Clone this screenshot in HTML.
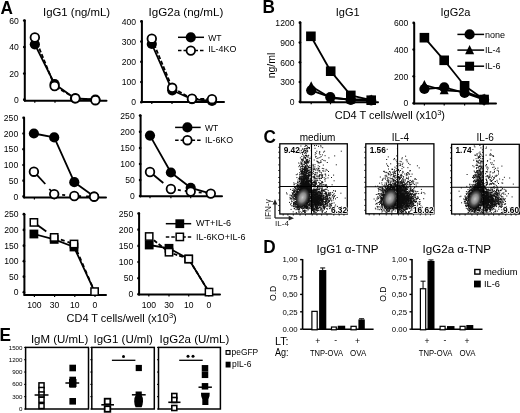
<!DOCTYPE html>
<html><head><meta charset="utf-8"><style>
html,body{margin:0;padding:0;background:#fff;}
svg{display:block;filter:blur(0.35px);}
text{font-family:"Liberation Sans",sans-serif;fill:#000;}
</style></head><body>
<svg width="520" height="413" viewBox="0 0 520 413">
<defs><radialGradient id="core"><stop offset="0" stop-color="#c4c4c4"/><stop offset="0.45" stop-color="#8e8e8e" stop-opacity="0.95"/><stop offset="0.8" stop-color="#444" stop-opacity="0.5"/><stop offset="1" stop-color="#000" stop-opacity="0"/></radialGradient></defs>
<rect width="520" height="413" fill="#fff"/>
<text x="0.6" y="14.1" font-size="17.6" text-anchor="start" font-weight="bold" textLength="12.42" lengthAdjust="spacingAndGlyphs">A</text>
<text x="43" y="16.4" font-size="11.4" text-anchor="start">IgG1 (ng/mL)</text>
<line x1="24.8" y1="20.4" x2="24.8" y2="100.7" stroke="#000" stroke-width="2" stroke-linecap="round"/>
<line x1="24.8" y1="100.7" x2="106.5" y2="100.7" stroke="#000" stroke-width="2" stroke-linecap="round"/>
<circle cx="24.3" cy="20.6" r="1.35" fill="#000"/>
<text x="18.9" y="23.8" font-size="9.2" text-anchor="end" textLength="9.56" lengthAdjust="spacingAndGlyphs">60</text>
<circle cx="24.3" cy="47" r="1.35" fill="#000"/>
<text x="18.9" y="50.2" font-size="9.2" text-anchor="end" textLength="9.56" lengthAdjust="spacingAndGlyphs">40</text>
<circle cx="24.3" cy="73.6" r="1.35" fill="#000"/>
<text x="18.9" y="76.8" font-size="9.2" text-anchor="end" textLength="9.56" lengthAdjust="spacingAndGlyphs">20</text>
<circle cx="24.3" cy="99.7" r="1.35" fill="#000"/>
<text x="18.9" y="102.9" font-size="9.2" text-anchor="end" textLength="4.78" lengthAdjust="spacingAndGlyphs">0</text>
<line x1="34.8" y1="100.7" x2="34.8" y2="102.7" stroke="#000" stroke-width="1.2"/>
<line x1="55" y1="100.7" x2="55" y2="102.7" stroke="#000" stroke-width="1.2"/>
<line x1="75" y1="100.7" x2="75" y2="102.7" stroke="#000" stroke-width="1.2"/>
<line x1="95" y1="100.7" x2="95" y2="102.7" stroke="#000" stroke-width="1.2"/>
<polyline points="34.85,44.3 54.6,84 75,98.5 95.4,99.5" fill="none" stroke="#000" stroke-width="1.8" stroke-linejoin="round"/>
<polyline points="34.85,37.5 54.6,86 75.4,98.3 95.4,100" fill="none" stroke="#000" stroke-width="1.8" stroke-linejoin="round" stroke-dasharray="4 2"/>
<circle cx="34.85" cy="44.3" r="5.1" fill="#000"/>
<circle cx="54.6" cy="84" r="5.1" fill="#000"/>
<circle cx="75" cy="98.5" r="5.1" fill="#000"/>
<circle cx="95.4" cy="99.5" r="5.1" fill="#000"/>
<circle cx="34.85" cy="37.5" r="4.3" fill="#fff" stroke="#000" stroke-width="1.8"/>
<circle cx="54.6" cy="86" r="4.3" fill="#fff" stroke="#000" stroke-width="1.8"/>
<circle cx="75.4" cy="98.3" r="4.3" fill="#fff" stroke="#000" stroke-width="1.8"/>
<circle cx="95.4" cy="100.2" r="4.3" fill="#fff" stroke="#000" stroke-width="1.8"/>
<text x="148.5" y="16.4" font-size="11.6" text-anchor="start">IgG2a (ng/mL)</text>
<line x1="141.9" y1="21.2" x2="141.9" y2="102.1" stroke="#000" stroke-width="2" stroke-linecap="round"/>
<line x1="141.9" y1="102.1" x2="224" y2="102.1" stroke="#000" stroke-width="2" stroke-linecap="round"/>
<circle cx="141.4" cy="21.4" r="1.35" fill="#000"/>
<text x="136.0" y="24.599999999999998" font-size="9.2" text-anchor="end" textLength="14.35" lengthAdjust="spacingAndGlyphs">400</text>
<circle cx="141.4" cy="41.6" r="1.35" fill="#000"/>
<text x="136.0" y="44.800000000000004" font-size="9.2" text-anchor="end" textLength="14.35" lengthAdjust="spacingAndGlyphs">300</text>
<circle cx="141.4" cy="61.8" r="1.35" fill="#000"/>
<text x="136.0" y="65.0" font-size="9.2" text-anchor="end" textLength="14.35" lengthAdjust="spacingAndGlyphs">200</text>
<circle cx="141.4" cy="82" r="1.35" fill="#000"/>
<text x="136.0" y="85.2" font-size="9.2" text-anchor="end" textLength="14.35" lengthAdjust="spacingAndGlyphs">100</text>
<circle cx="141.4" cy="102.2" r="1.35" fill="#000"/>
<text x="136.0" y="105.4" font-size="9.2" text-anchor="end" textLength="4.78" lengthAdjust="spacingAndGlyphs">0</text>
<line x1="151.8" y1="102.1" x2="151.8" y2="104.1" stroke="#000" stroke-width="1.2"/>
<line x1="172" y1="102.1" x2="172" y2="104.1" stroke="#000" stroke-width="1.2"/>
<line x1="192" y1="102.1" x2="192" y2="104.1" stroke="#000" stroke-width="1.2"/>
<line x1="212" y1="102.1" x2="212" y2="104.1" stroke="#000" stroke-width="1.2"/>
<polyline points="151.8,44 172.2,90.3 192,99.2 212,101" fill="none" stroke="#000" stroke-width="1.8" stroke-linejoin="round"/>
<polyline points="151.8,38.7 172.2,87.8 192,98.7 212,99.2" fill="none" stroke="#000" stroke-width="1.8" stroke-linejoin="round" stroke-dasharray="4 2"/>
<circle cx="151.8" cy="44" r="5.1" fill="#000"/>
<circle cx="172.2" cy="90.3" r="5.1" fill="#000"/>
<circle cx="192" cy="99.2" r="5.1" fill="#000"/>
<circle cx="212" cy="101" r="5.1" fill="#000"/>
<circle cx="151.8" cy="38.7" r="4.3" fill="#fff" stroke="#000" stroke-width="1.8"/>
<circle cx="172.2" cy="87.8" r="4.3" fill="#fff" stroke="#000" stroke-width="1.8"/>
<circle cx="192" cy="98.7" r="4.3" fill="#fff" stroke="#000" stroke-width="1.8"/>
<circle cx="212" cy="99.2" r="4.3" fill="#fff" stroke="#000" stroke-width="1.8"/>
<line x1="178" y1="37.3" x2="204" y2="37.3" stroke="#000" stroke-width="1.5"/>
<circle cx="190.8" cy="37.3" r="5.1" fill="#000"/>
<text x="208.2" y="40.6" font-size="8.8" text-anchor="start" textLength="13.4" lengthAdjust="spacingAndGlyphs">WT</text>
<line x1="178" y1="50.6" x2="204" y2="50.6" stroke="#000" stroke-width="1.5" stroke-dasharray="3.5 2"/>
<circle cx="190.8" cy="50.6" r="4.3" fill="#fff" stroke="#000" stroke-width="1.8"/>
<text x="208.2" y="52.3" font-size="8.8" text-anchor="start" textLength="28.2" lengthAdjust="spacingAndGlyphs">IL-4KO</text>
<line x1="24.1" y1="117.8" x2="24.1" y2="197.4" stroke="#000" stroke-width="2" stroke-linecap="round"/>
<line x1="24.1" y1="197.4" x2="106" y2="197.4" stroke="#000" stroke-width="2" stroke-linecap="round"/>
<circle cx="23.6" cy="117.8" r="1.35" fill="#000"/>
<text x="18.200000000000003" y="121.0" font-size="9.2" text-anchor="end" textLength="14.35" lengthAdjust="spacingAndGlyphs">250</text>
<circle cx="23.6" cy="133.5" r="1.35" fill="#000"/>
<text x="18.200000000000003" y="136.7" font-size="9.2" text-anchor="end" textLength="14.35" lengthAdjust="spacingAndGlyphs">200</text>
<circle cx="23.6" cy="149.2" r="1.35" fill="#000"/>
<text x="18.200000000000003" y="152.39999999999998" font-size="9.2" text-anchor="end" textLength="14.35" lengthAdjust="spacingAndGlyphs">150</text>
<circle cx="23.6" cy="165" r="1.35" fill="#000"/>
<text x="18.200000000000003" y="168.2" font-size="9.2" text-anchor="end" textLength="14.35" lengthAdjust="spacingAndGlyphs">100</text>
<circle cx="23.6" cy="180.7" r="1.35" fill="#000"/>
<text x="18.200000000000003" y="183.89999999999998" font-size="9.2" text-anchor="end" textLength="9.56" lengthAdjust="spacingAndGlyphs">50</text>
<circle cx="23.6" cy="196.4" r="1.35" fill="#000"/>
<text x="18.200000000000003" y="199.6" font-size="9.2" text-anchor="end" textLength="4.78" lengthAdjust="spacingAndGlyphs">0</text>
<line x1="34.4" y1="197.4" x2="34.4" y2="199.4" stroke="#000" stroke-width="1.2"/>
<line x1="54.2" y1="197.4" x2="54.2" y2="199.4" stroke="#000" stroke-width="1.2"/>
<line x1="74.3" y1="197.4" x2="74.3" y2="199.4" stroke="#000" stroke-width="1.2"/>
<line x1="94.1" y1="197.4" x2="94.1" y2="199.4" stroke="#000" stroke-width="1.2"/>
<polyline points="33.9,133.5 54.2,137.4 74.3,182.2 94.1,196.5" fill="none" stroke="#000" stroke-width="1.8" stroke-linejoin="round"/>
<polyline points="33.9,171.7 45.3,184" fill="none" stroke="#000" stroke-width="1.8" stroke-linejoin="round"/>
<polyline points="49.3,189 54.2,194.1" fill="none" stroke="#000" stroke-width="1.8" stroke-linejoin="round"/>
<polyline points="54.2,194.1 74.3,196 94.1,196.7" fill="none" stroke="#000" stroke-width="1.8" stroke-linejoin="round" stroke-dasharray="3 5"/>
<circle cx="33.9" cy="133.5" r="5.1" fill="#000"/>
<circle cx="54.2" cy="137.4" r="5.1" fill="#000"/>
<circle cx="74.3" cy="182.2" r="5.1" fill="#000"/>
<circle cx="94.1" cy="196.5" r="5.1" fill="#000"/>
<circle cx="33.9" cy="171.7" r="4.3" fill="#fff" stroke="#000" stroke-width="1.8"/>
<circle cx="54.2" cy="194.1" r="4.3" fill="#fff" stroke="#000" stroke-width="1.8"/>
<circle cx="74.3" cy="196" r="4.3" fill="#fff" stroke="#000" stroke-width="1.8"/>
<circle cx="94.1" cy="196.7" r="4.3" fill="#fff" stroke="#000" stroke-width="1.8"/>
<line x1="140.6" y1="115.4" x2="140.6" y2="196.3" stroke="#000" stroke-width="2" stroke-linecap="round"/>
<line x1="140.6" y1="196.3" x2="222" y2="196.3" stroke="#000" stroke-width="2" stroke-linecap="round"/>
<circle cx="140.1" cy="115.6" r="1.35" fill="#000"/>
<text x="134.7" y="118.8" font-size="9.2" text-anchor="end" textLength="14.35" lengthAdjust="spacingAndGlyphs">250</text>
<circle cx="140.1" cy="131.8" r="1.35" fill="#000"/>
<text x="134.7" y="135.0" font-size="9.2" text-anchor="end" textLength="14.35" lengthAdjust="spacingAndGlyphs">200</text>
<circle cx="140.1" cy="148" r="1.35" fill="#000"/>
<text x="134.7" y="151.2" font-size="9.2" text-anchor="end" textLength="14.35" lengthAdjust="spacingAndGlyphs">150</text>
<circle cx="140.1" cy="164" r="1.35" fill="#000"/>
<text x="134.7" y="167.2" font-size="9.2" text-anchor="end" textLength="14.35" lengthAdjust="spacingAndGlyphs">100</text>
<circle cx="140.1" cy="180.1" r="1.35" fill="#000"/>
<text x="134.7" y="183.29999999999998" font-size="9.2" text-anchor="end" textLength="9.56" lengthAdjust="spacingAndGlyphs">50</text>
<circle cx="140.1" cy="196.1" r="1.35" fill="#000"/>
<text x="134.7" y="199.29999999999998" font-size="9.2" text-anchor="end" textLength="4.78" lengthAdjust="spacingAndGlyphs">0</text>
<line x1="150" y1="196.3" x2="150" y2="198.3" stroke="#000" stroke-width="1.2"/>
<line x1="170.9" y1="196.3" x2="170.9" y2="198.3" stroke="#000" stroke-width="1.2"/>
<line x1="190.7" y1="196.3" x2="190.7" y2="198.3" stroke="#000" stroke-width="1.2"/>
<line x1="210.8" y1="196.3" x2="210.8" y2="198.3" stroke="#000" stroke-width="1.2"/>
<polyline points="150,135.6 170.9,172.5 190.7,187.8 210.8,193.6" fill="none" stroke="#000" stroke-width="1.8" stroke-linejoin="round"/>
<polyline points="150,172 163.3,183" fill="none" stroke="#000" stroke-width="1.8" stroke-linejoin="round"/>
<polyline points="170.9,189 190.7,191.6 210.8,193.6" fill="none" stroke="#000" stroke-width="1.8" stroke-linejoin="round" stroke-dasharray="3 4"/>
<circle cx="150" cy="135.6" r="5.1" fill="#000"/>
<circle cx="170.9" cy="172.5" r="5.1" fill="#000"/>
<circle cx="190.7" cy="187.8" r="5.1" fill="#000"/>
<circle cx="150" cy="172" r="4.3" fill="#fff" stroke="#000" stroke-width="1.8"/>
<circle cx="170.9" cy="189" r="4.3" fill="#fff" stroke="#000" stroke-width="1.8"/>
<circle cx="190.7" cy="191.6" r="4.3" fill="#fff" stroke="#000" stroke-width="1.8"/>
<circle cx="210.8" cy="193.6" r="4.3" fill="#fff" stroke="#000" stroke-width="1.8"/>
<line x1="175.1" y1="127.4" x2="200.7" y2="127.4" stroke="#000" stroke-width="1.5"/>
<circle cx="187.4" cy="127.4" r="5.1" fill="#000"/>
<text x="205" y="130.5" font-size="8.8" text-anchor="start" textLength="13.2" lengthAdjust="spacingAndGlyphs">WT</text>
<line x1="175.1" y1="140.2" x2="200.7" y2="140.2" stroke="#000" stroke-width="1.5" stroke-dasharray="3.5 2"/>
<circle cx="187.4" cy="140.2" r="4.3" fill="#fff" stroke="#000" stroke-width="1.8"/>
<text x="205" y="143.3" font-size="8.8" text-anchor="start" textLength="28.2" lengthAdjust="spacingAndGlyphs">IL-6KO</text>
<line x1="24.4" y1="214.2" x2="24.4" y2="295" stroke="#000" stroke-width="2" stroke-linecap="round"/>
<line x1="24.4" y1="295" x2="106" y2="295" stroke="#000" stroke-width="2" stroke-linecap="round"/>
<circle cx="23.9" cy="214.2" r="1.35" fill="#000"/>
<text x="18.5" y="217.39999999999998" font-size="9.2" text-anchor="end" textLength="14.35" lengthAdjust="spacingAndGlyphs">250</text>
<circle cx="23.9" cy="229.9" r="1.35" fill="#000"/>
<text x="18.5" y="233.1" font-size="9.2" text-anchor="end" textLength="14.35" lengthAdjust="spacingAndGlyphs">200</text>
<circle cx="23.9" cy="245.7" r="1.35" fill="#000"/>
<text x="18.5" y="248.89999999999998" font-size="9.2" text-anchor="end" textLength="14.35" lengthAdjust="spacingAndGlyphs">150</text>
<circle cx="23.9" cy="261.2" r="1.35" fill="#000"/>
<text x="18.5" y="264.4" font-size="9.2" text-anchor="end" textLength="14.35" lengthAdjust="spacingAndGlyphs">100</text>
<circle cx="23.9" cy="276.7" r="1.35" fill="#000"/>
<text x="18.5" y="279.9" font-size="9.2" text-anchor="end" textLength="9.56" lengthAdjust="spacingAndGlyphs">50</text>
<circle cx="23.9" cy="292.2" r="1.35" fill="#000"/>
<text x="18.5" y="295.4" font-size="9.2" text-anchor="end" textLength="4.78" lengthAdjust="spacingAndGlyphs">0</text>
<line x1="34.4" y1="295" x2="34.4" y2="297" stroke="#000" stroke-width="1.2"/>
<line x1="54.6" y1="295" x2="54.6" y2="297" stroke="#000" stroke-width="1.2"/>
<line x1="74.8" y1="295" x2="74.8" y2="297" stroke="#000" stroke-width="1.2"/>
<line x1="95" y1="295" x2="95" y2="297" stroke="#000" stroke-width="1.2"/>
<text x="34.4" y="307.8" font-size="9.2" text-anchor="middle" textLength="14.35" lengthAdjust="spacingAndGlyphs">100</text>
<text x="54.6" y="307.8" font-size="9.2" text-anchor="middle" textLength="9.56" lengthAdjust="spacingAndGlyphs">30</text>
<text x="74.8" y="307.8" font-size="9.2" text-anchor="middle" textLength="9.56" lengthAdjust="spacingAndGlyphs">10</text>
<text x="95" y="307.8" font-size="9.2" text-anchor="middle" textLength="4.78" lengthAdjust="spacingAndGlyphs">0</text>
<polyline points="33.9,234 54.2,239.4 74,247 94.6,291.6" fill="none" stroke="#000" stroke-width="1.8" stroke-linejoin="round"/>
<polyline points="33.9,222.4 46.3,231.5" fill="none" stroke="#000" stroke-width="1.8" stroke-linejoin="round"/>
<polyline points="54.2,237.4 74,244 94.6,291.6" fill="none" stroke="#000" stroke-width="1.8" stroke-linejoin="round" stroke-dasharray="4 3"/>
<rect x="29.5" y="229.6" width="8.8" height="8.8" fill="#000"/>
<rect x="49.800000000000004" y="235.0" width="8.8" height="8.8" fill="#000"/>
<rect x="69.6" y="242.6" width="8.8" height="8.8" fill="#000"/>
<rect x="30.25" y="218.75" width="7.300000000000001" height="7.300000000000001" fill="#fff" stroke="#000" stroke-width="1.5"/>
<rect x="50.550000000000004" y="233.75" width="7.300000000000001" height="7.300000000000001" fill="#fff" stroke="#000" stroke-width="1.5"/>
<rect x="70.35" y="240.35" width="7.300000000000001" height="7.300000000000001" fill="#fff" stroke="#000" stroke-width="1.5"/>
<rect x="90.94999999999999" y="287.95000000000005" width="7.300000000000001" height="7.300000000000001" fill="#fff" stroke="#000" stroke-width="1.5"/>
<line x1="139.1" y1="213.2" x2="139.1" y2="294.5" stroke="#000" stroke-width="2" stroke-linecap="round"/>
<line x1="139.1" y1="294.5" x2="220" y2="294.5" stroke="#000" stroke-width="2" stroke-linecap="round"/>
<circle cx="138.6" cy="213.5" r="1.35" fill="#000"/>
<text x="133.2" y="216.7" font-size="9.2" text-anchor="end" textLength="14.35" lengthAdjust="spacingAndGlyphs">250</text>
<circle cx="138.6" cy="229.7" r="1.35" fill="#000"/>
<text x="133.2" y="232.89999999999998" font-size="9.2" text-anchor="end" textLength="14.35" lengthAdjust="spacingAndGlyphs">200</text>
<circle cx="138.6" cy="245.9" r="1.35" fill="#000"/>
<text x="133.2" y="249.1" font-size="9.2" text-anchor="end" textLength="14.35" lengthAdjust="spacingAndGlyphs">150</text>
<circle cx="138.6" cy="262" r="1.35" fill="#000"/>
<text x="133.2" y="265.2" font-size="9.2" text-anchor="end" textLength="14.35" lengthAdjust="spacingAndGlyphs">100</text>
<circle cx="138.6" cy="278.2" r="1.35" fill="#000"/>
<text x="133.2" y="281.4" font-size="9.2" text-anchor="end" textLength="9.56" lengthAdjust="spacingAndGlyphs">50</text>
<circle cx="138.6" cy="294.2" r="1.35" fill="#000"/>
<text x="133.2" y="297.4" font-size="9.2" text-anchor="end" textLength="4.78" lengthAdjust="spacingAndGlyphs">0</text>
<line x1="148.8" y1="294.5" x2="148.8" y2="296.5" stroke="#000" stroke-width="1.2"/>
<line x1="169" y1="294.5" x2="169" y2="296.5" stroke="#000" stroke-width="1.2"/>
<line x1="188.7" y1="294.5" x2="188.7" y2="296.5" stroke="#000" stroke-width="1.2"/>
<line x1="208.8" y1="294.5" x2="208.8" y2="296.5" stroke="#000" stroke-width="1.2"/>
<text x="148.8" y="307.8" font-size="9.2" text-anchor="middle" textLength="14.35" lengthAdjust="spacingAndGlyphs">100</text>
<text x="169" y="307.8" font-size="9.2" text-anchor="middle" textLength="9.56" lengthAdjust="spacingAndGlyphs">30</text>
<text x="188.7" y="307.8" font-size="9.2" text-anchor="middle" textLength="9.56" lengthAdjust="spacingAndGlyphs">10</text>
<text x="208.8" y="307.8" font-size="9.2" text-anchor="middle" textLength="4.78" lengthAdjust="spacingAndGlyphs">0</text>
<polyline points="149.2,245 169,248.3 188.7,259 209,292.1" fill="none" stroke="#000" stroke-width="1.8" stroke-linejoin="round"/>
<polyline points="149.2,236.5 169,252.2 188.7,259 209,292.1" fill="none" stroke="#000" stroke-width="1.8" stroke-linejoin="round" stroke-dasharray="4 2"/>
<rect x="144.79999999999998" y="240.6" width="8.8" height="8.8" fill="#000"/>
<rect x="164.6" y="243.9" width="8.8" height="8.8" fill="#000"/>
<rect x="184.29999999999998" y="254.6" width="8.8" height="8.8" fill="#000"/>
<rect x="145.54999999999998" y="232.85" width="7.300000000000001" height="7.300000000000001" fill="#fff" stroke="#000" stroke-width="1.5"/>
<rect x="165.35" y="248.54999999999998" width="7.300000000000001" height="7.300000000000001" fill="#fff" stroke="#000" stroke-width="1.5"/>
<rect x="185.04999999999998" y="255.35" width="7.300000000000001" height="7.300000000000001" fill="#fff" stroke="#000" stroke-width="1.5"/>
<rect x="205.35" y="288.45000000000005" width="7.300000000000001" height="7.300000000000001" fill="#fff" stroke="#000" stroke-width="1.5"/>
<line x1="165.8" y1="223.7" x2="191.2" y2="223.7" stroke="#000" stroke-width="1.5"/>
<rect x="175.4" y="219.29999999999998" width="8.8" height="8.8" fill="#000"/>
<text x="196" y="226.4" font-size="8.8" text-anchor="start" textLength="35" lengthAdjust="spacingAndGlyphs">WT+IL-6</text>
<line x1="165.8" y1="236.9" x2="191.2" y2="236.9" stroke="#000" stroke-width="1.5" stroke-dasharray="3.5 2"/>
<rect x="176.15" y="233.25" width="7.300000000000001" height="7.300000000000001" fill="#fff" stroke="#000" stroke-width="1.5"/>
<text x="196" y="239.5" font-size="8.8" text-anchor="start" textLength="49.5" lengthAdjust="spacingAndGlyphs">IL-6KO+IL-6</text>
<text x="66.6" y="322.3" font-size="10.95" text-anchor="start">CD4 T cells/well (x10<tspan font-size="7.5" dy="-4.2">3</tspan><tspan dy="4.2">)</tspan></text>
<text x="262.4" y="12.8" font-size="17.9" text-anchor="start" font-weight="bold" textLength="12.42" lengthAdjust="spacingAndGlyphs">B</text>
<text x="335.8" y="16.4" font-size="11.0" text-anchor="start">IgG1</text>
<text x="440.5" y="16.4" font-size="11.0" text-anchor="start">IgG2a</text>
<line x1="300.4" y1="22.6" x2="300.4" y2="102.3" stroke="#000" stroke-width="2" stroke-linecap="round"/>
<line x1="300.4" y1="102.3" x2="378" y2="102.3" stroke="#000" stroke-width="2" stroke-linecap="round"/>
<circle cx="299.9" cy="22.7" r="1.35" fill="#000"/>
<text x="294.5" y="25.9" font-size="9.2" text-anchor="end" textLength="19.13" lengthAdjust="spacingAndGlyphs">1200</text>
<circle cx="299.9" cy="42.6" r="1.35" fill="#000"/>
<text x="294.5" y="45.800000000000004" font-size="9.2" text-anchor="end" textLength="14.35" lengthAdjust="spacingAndGlyphs">900</text>
<circle cx="299.9" cy="62.3" r="1.35" fill="#000"/>
<text x="294.5" y="65.5" font-size="9.2" text-anchor="end" textLength="14.35" lengthAdjust="spacingAndGlyphs">600</text>
<circle cx="299.9" cy="82" r="1.35" fill="#000"/>
<text x="294.5" y="85.2" font-size="9.2" text-anchor="end" textLength="14.35" lengthAdjust="spacingAndGlyphs">300</text>
<circle cx="299.9" cy="101.8" r="1.35" fill="#000"/>
<text x="294.5" y="105.0" font-size="9.2" text-anchor="end" textLength="4.78" lengthAdjust="spacingAndGlyphs">0</text>
<line x1="311.2" y1="102.3" x2="311.2" y2="104.3" stroke="#000" stroke-width="1.2"/>
<line x1="330.5" y1="102.3" x2="330.5" y2="104.3" stroke="#000" stroke-width="1.2"/>
<line x1="350" y1="102.3" x2="350" y2="104.3" stroke="#000" stroke-width="1.2"/>
<line x1="370.5" y1="102.3" x2="370.5" y2="104.3" stroke="#000" stroke-width="1.2"/>
<text x="0" y="0" font-size="10.5" text-anchor="middle" transform="translate(275,65.5) rotate(-90)">ng/ml</text>
<polyline points="310.9,36.3 330.7,71.2 350.8,95.4 371.2,100.2" fill="none" stroke="#000" stroke-width="1.8" stroke-linejoin="round"/>
<polyline points="311.2,86.3 330.7,98 350.8,99.5 371.2,99.5" fill="none" stroke="#000" stroke-width="1.8" stroke-linejoin="round"/>
<polyline points="311.2,90.3 330.3,97.2 350.8,100 371.2,100.5" fill="none" stroke="#000" stroke-width="1.8" stroke-linejoin="round"/>
<rect x="306.09999999999997" y="31.499999999999996" width="9.6" height="9.6" fill="#000"/>
<rect x="325.9" y="66.4" width="9.6" height="9.6" fill="#000"/>
<rect x="346.0" y="90.60000000000001" width="9.6" height="9.6" fill="#000"/>
<rect x="366.4" y="95.4" width="9.6" height="9.6" fill="#000"/>
<polygon points="311.2,81.25 306.7,90.35 315.7,90.35" fill="#000"/>
<polygon points="330.7,92.95 326.2,102.05 335.2,102.05" fill="#000"/>
<polygon points="350.8,94.45 346.3,103.55 355.3,103.55" fill="#000"/>
<polygon points="371.2,94.45 366.7,103.55 375.7,103.55" fill="#000"/>
<circle cx="311.2" cy="90.3" r="5.1" fill="#000"/>
<circle cx="330.3" cy="97.2" r="5.1" fill="#000"/>
<circle cx="350.8" cy="100" r="5.1" fill="#000"/>
<circle cx="371.2" cy="100.5" r="5.1" fill="#000"/>
<line x1="414.2" y1="22.9" x2="414.2" y2="103.5" stroke="#000" stroke-width="2" stroke-linecap="round"/>
<line x1="414.2" y1="103.5" x2="496" y2="103.5" stroke="#000" stroke-width="2" stroke-linecap="round"/>
<circle cx="413.7" cy="22.9" r="1.35" fill="#000"/>
<text x="408.3" y="26.099999999999998" font-size="9.2" text-anchor="end" textLength="14.35" lengthAdjust="spacingAndGlyphs">600</text>
<circle cx="413.7" cy="49.6" r="1.35" fill="#000"/>
<text x="408.3" y="52.800000000000004" font-size="9.2" text-anchor="end" textLength="14.35" lengthAdjust="spacingAndGlyphs">400</text>
<circle cx="413.7" cy="76.3" r="1.35" fill="#000"/>
<text x="408.3" y="79.5" font-size="9.2" text-anchor="end" textLength="14.35" lengthAdjust="spacingAndGlyphs">200</text>
<circle cx="413.7" cy="103.2" r="1.35" fill="#000"/>
<text x="408.3" y="106.4" font-size="9.2" text-anchor="end" textLength="4.78" lengthAdjust="spacingAndGlyphs">0</text>
<line x1="424.4" y1="103.5" x2="424.4" y2="105.5" stroke="#000" stroke-width="1.2"/>
<line x1="444.2" y1="103.5" x2="444.2" y2="105.5" stroke="#000" stroke-width="1.2"/>
<line x1="464.6" y1="103.5" x2="464.6" y2="105.5" stroke="#000" stroke-width="1.2"/>
<line x1="484.1" y1="103.5" x2="484.1" y2="105.5" stroke="#000" stroke-width="1.2"/>
<polyline points="424.4,37.7 444.2,60.3 464.6,85.8 484.1,99.5" fill="none" stroke="#000" stroke-width="1.8" stroke-linejoin="round"/>
<polyline points="424.4,85 444.2,90.3 464.6,91.6 484.1,98.5" fill="none" stroke="#000" stroke-width="1.8" stroke-linejoin="round"/>
<polyline points="424.4,89 444.2,87.3 464.6,92.9 484.1,99.7" fill="none" stroke="#000" stroke-width="1.8" stroke-linejoin="round"/>
<rect x="419.59999999999997" y="32.900000000000006" width="9.6" height="9.6" fill="#000"/>
<rect x="439.4" y="55.5" width="9.6" height="9.6" fill="#000"/>
<rect x="459.8" y="81.0" width="9.6" height="9.6" fill="#000"/>
<rect x="479.3" y="94.7" width="9.6" height="9.6" fill="#000"/>
<polygon points="424.4,79.95 419.9,89.05 428.9,89.05" fill="#000"/>
<polygon points="444.2,85.25 439.7,94.35 448.7,94.35" fill="#000"/>
<polygon points="464.6,86.55 460.1,95.64999999999999 469.1,95.64999999999999" fill="#000"/>
<polygon points="484.1,93.45 479.6,102.55 488.6,102.55" fill="#000"/>
<circle cx="424.4" cy="89" r="5.1" fill="#000"/>
<circle cx="444.2" cy="87.3" r="5.1" fill="#000"/>
<circle cx="464.6" cy="92.9" r="5.1" fill="#000"/>
<circle cx="484.1" cy="99.7" r="5.1" fill="#000"/>
<line x1="457.4" y1="34.4" x2="484.1" y2="34.4" stroke="#000" stroke-width="1.5"/>
<circle cx="469.6" cy="34.4" r="5.1" fill="#000"/>
<text x="485" y="37.6" font-size="9.0" text-anchor="start">none</text>
<line x1="457.4" y1="50.1" x2="484.1" y2="50.1" stroke="#000" stroke-width="1.5"/>
<polygon points="469.6,45.050000000000004 465.1,54.15 474.1,54.15" fill="#000"/>
<text x="485" y="53.3" font-size="9.0" text-anchor="start">IL-4</text>
<line x1="457.4" y1="66.2" x2="484.1" y2="66.2" stroke="#000" stroke-width="1.5"/>
<rect x="465.1" y="61.7" width="9" height="9" fill="#000"/>
<text x="485" y="69.4" font-size="9.0" text-anchor="start">IL-6</text>
<text x="334.8" y="118.8" font-size="10.95" text-anchor="start">CD4 T cells/well (x10<tspan font-size="7.5" dy="-4.2">3</tspan><tspan dy="4.2">)</tspan></text>
<text x="263.4" y="142.5" font-size="19.0" text-anchor="start" font-weight="bold" textLength="12.42" lengthAdjust="spacingAndGlyphs">C</text>
<rect x="279.8" y="143.8" width="67.5" height="70.19999999999999" fill="#fff"/>
<path d="M300.8 201.1h1M301.0 196.1h1M297.7 196.7h1M307.1 200.5h1M306.8 199.5h1M303.8 199.1h1M294.3 203.1h1M304.3 201.0h1M294.2 187.5h1M297.9 195.2h1M303.4 197.7h1M304.4 194.1h1M303.4 200.4h1M299.0 208.3h1M304.6 205.2h1M299.1 193.6h1M300.4 197.4h1M304.9 199.5h1M299.9 192.3h1M299.6 205.3h1M298.3 199.5h1M304.0 189.1h1M302.2 205.8h1M292.7 196.1h1M301.5 193.1h1M304.3 197.6h1M295.3 203.0h1M305.1 203.7h1M308.6 200.2h1M302.5 190.2h1M304.8 194.3h1M299.9 190.4h1M297.5 194.8h1M307.9 185.8h1M295.3 199.4h1M308.6 201.5h1M293.3 182.9h1M303.6 193.6h1M296.8 203.9h1M307.1 198.9h1M303.1 200.6h1M309.3 201.7h1M304.4 201.3h1M294.8 205.7h1M306.4 201.2h1M292.9 194.2h1M305.9 187.1h1M301.2 204.1h1M296.0 207.7h1M304.5 197.1h1M303.5 201.9h1M302.6 204.9h1M299.0 195.5h1M306.8 198.2h1M297.9 203.7h1M308.7 195.3h1M295.7 197.2h1M301.3 196.2h1M308.5 191.8h1M307.8 190.4h1M298.4 201.8h1M307.2 203.2h1M303.6 198.9h1M302.7 201.5h1M301.2 199.7h1M304.6 198.0h1M305.5 201.4h1M311.2 199.9h1M300.0 195.8h1M301.9 203.5h1M300.5 200.3h1M310.5 182.6h1M296.8 199.5h1M303.8 199.4h1M300.0 201.9h1M303.3 194.9h1M313.2 200.1h1M299.5 197.4h1M301.0 197.6h1M289.5 195.1h1M306.6 191.0h1M301.7 203.7h1M305.9 206.9h1M294.2 195.9h1M300.4 201.7h1M307.0 181.9h1M307.0 189.3h1M305.1 189.0h1M302.8 205.2h1M301.3 199.1h1M305.7 198.8h1M301.6 207.2h1M306.8 196.2h1M314.6 191.1h1M306.2 196.4h1M302.6 202.2h1M303.0 201.8h1M295.0 188.9h1M304.8 192.2h1M297.3 189.2h1M307.8 202.5h1M308.8 192.4h1M302.0 191.2h1M305.5 207.5h1M297.9 207.4h1M306.5 196.9h1M292.9 206.4h1M301.6 194.4h1M303.8 200.5h1M308.9 191.9h1M307.2 206.9h1M308.7 196.9h1M298.6 204.1h1M302.5 198.7h1M308.6 196.4h1M291.4 195.7h1M293.5 202.9h1M303.5 194.3h1M302.0 203.0h1M302.4 206.0h1M301.7 204.2h1M308.9 207.7h1M298.9 203.3h1M293.4 191.5h1M293.0 204.4h1M296.3 197.9h1M301.1 197.8h1M299.3 199.4h1M310.2 198.3h1M304.4 204.0h1M301.1 190.4h1M299.4 204.4h1M294.4 194.4h1M306.6 202.8h1M302.0 202.8h1M302.8 190.9h1M294.8 194.2h1M306.2 194.6h1M297.8 193.4h1M295.0 197.3h1M296.6 200.2h1M291.1 200.0h1M299.0 186.3h1M305.3 196.3h1M291.7 192.7h1M303.3 195.2h1M305.6 202.5h1M305.1 200.0h1M308.1 202.0h1M304.1 185.5h1M306.1 205.9h1M300.6 195.2h1M310.9 187.5h1M304.2 212.5h1M297.7 202.1h1M310.7 197.3h1M304.6 203.4h1M297.8 197.5h1M303.3 203.0h1M301.8 196.8h1M297.3 195.8h1M306.1 198.6h1M298.1 193.0h1M314.3 204.8h1M304.9 182.4h1M304.9 200.9h1M309.7 200.6h1M301.7 201.1h1M293.1 204.2h1M303.5 193.8h1M308.1 208.9h1M295.5 194.0h1M303.3 199.1h1M300.2 192.2h1M311.8 204.2h1M296.5 189.9h1M309.8 203.9h1M310.4 202.9h1M298.0 199.6h1M292.1 193.5h1M301.7 201.1h1M298.7 197.3h1M304.1 200.3h1M304.9 199.3h1M300.5 202.7h1M302.2 193.0h1M299.1 198.0h1M301.5 198.9h1M302.0 199.1h1M301.4 190.4h1M303.9 204.3h1M304.0 196.9h1M304.1 192.2h1M293.3 198.4h1M297.7 202.4h1M297.0 182.2h1M297.2 207.5h1M300.2 189.8h1M298.5 201.1h1M304.3 199.1h1M308.8 202.2h1M301.9 201.6h1M309.6 203.8h1M306.7 191.5h1M301.3 202.4h1M300.6 204.4h1M304.7 203.4h1M307.7 196.7h1M300.4 203.2h1M306.5 198.0h1M296.6 199.1h1M303.7 204.8h1M305.6 198.1h1M305.9 201.2h1M302.9 198.3h1M300.9 202.1h1M297.2 194.2h1M302.0 189.2h1M300.0 185.9h1M298.9 201.4h1M304.6 197.7h1M300.9 189.5h1M310.4 201.1h1M307.0 192.7h1M301.1 187.1h1M305.6 203.6h1M293.3 197.7h1M304.9 187.4h1M293.6 191.6h1M299.1 189.6h1M302.1 199.5h1M304.9 202.2h1M308.9 205.0h1M296.0 195.0h1M297.1 191.5h1M301.6 198.0h1M304.3 188.5h1M296.3 197.9h1M301.1 196.1h1M301.7 193.4h1M305.2 200.1h1M301.6 194.0h1M301.2 181.7h1M297.5 198.2h1M295.1 199.2h1M302.7 189.7h1M300.8 196.1h1M304.1 201.7h1M301.8 192.9h1M301.3 197.6h1M305.4 199.8h1M298.7 189.9h1M300.3 193.6h1M296.9 197.3h1M299.7 198.6h1M304.4 195.5h1M312.7 196.1h1M307.1 198.7h1M307.1 183.7h1M298.5 199.5h1M304.8 212.0h1M303.5 205.7h1M305.5 203.7h1M304.3 197.1h1M304.3 191.5h1M307.4 191.9h1M303.1 210.7h1M301.0 198.1h1M307.3 198.2h1M298.3 199.5h1M304.7 202.3h1M298.4 208.5h1M309.7 198.1h1M303.2 195.4h1M308.5 193.8h1M305.1 195.1h1M298.8 202.3h1M308.1 197.9h1M298.9 202.9h1M301.8 199.9h1M309.0 204.8h1M299.6 211.7h1M302.0 202.7h1M299.0 197.7h1M294.0 208.7h1M308.3 190.7h1M295.1 188.3h1M307.4 195.2h1M301.7 196.1h1M301.4 191.5h1M302.1 189.4h1M301.7 199.9h1M304.2 196.6h1M297.8 199.0h1M299.8 207.4h1M305.5 197.3h1M299.8 193.8h1M297.7 195.9h1M303.4 201.1h1M304.6 210.6h1M298.8 198.1h1M314.9 186.8h1M299.6 199.0h1M302.7 200.4h1M300.9 200.2h1M302.2 202.6h1M293.3 192.7h1M302.0 191.8h1M297.2 201.8h1M299.0 201.8h1M305.4 199.8h1M304.3 197.4h1M295.5 197.8h1M304.1 194.8h1M301.5 202.5h1M298.0 201.8h1M310.6 194.7h1M302.7 197.1h1M309.1 199.9h1M306.1 193.9h1M301.9 197.9h1M293.8 206.6h1M306.1 187.5h1M305.4 197.2h1M304.1 200.2h1M295.1 196.7h1M308.9 194.6h1M297.3 189.8h1M296.4 200.0h1M309.8 200.6h1M303.1 211.4h1M299.6 194.0h1M304.4 201.3h1M297.3 191.0h1M303.3 199.5h1M296.0 196.8h1M299.5 200.8h1M301.5 197.5h1M300.4 204.3h1M308.4 195.8h1M305.9 193.5h1M302.3 202.5h1M309.0 195.7h1M301.7 199.2h1M295.1 198.1h1M298.9 200.2h1M296.8 186.1h1M302.2 199.6h1M299.5 203.3h1M300.7 194.4h1M304.2 188.6h1M298.9 197.9h1M305.9 197.0h1M303.4 194.1h1M303.4 208.0h1M298.8 212.2h1M299.0 198.1h1M302.8 204.1h1M296.3 185.4h1M304.8 202.8h1M302.9 199.5h1M306.3 200.2h1M309.7 190.6h1M300.3 177.3h1M305.7 195.8h1M306.3 210.9h1M302.0 196.5h1M299.7 193.0h1M299.1 201.8h1M302.2 198.4h1M301.2 203.5h1M304.3 197.1h1M305.1 197.1h1M296.7 206.7h1M304.1 192.3h1M307.0 200.1h1M294.8 207.7h1M303.5 203.3h1M302.9 197.1h1M294.9 203.8h1M302.1 196.3h1M303.6 198.5h1M305.1 195.8h1M301.8 185.2h1M300.1 202.1h1M308.1 195.8h1M301.4 207.5h1M300.5 202.4h1M309.7 198.2h1M307.6 193.7h1M303.0 197.5h1M302.5 204.8h1M313.0 194.0h1M299.4 201.0h1M297.1 201.0h1M304.6 196.3h1M304.4 188.7h1M305.5 188.7h1M298.8 194.7h1M300.2 203.2h1M302.4 195.6h1M304.5 207.5h1M302.0 200.2h1M307.7 199.6h1M296.1 212.9h1M312.2 186.1h1M301.8 200.5h1M306.4 202.0h1M300.7 191.7h1M302.5 204.2h1M297.0 191.8h1M301.9 186.4h1M300.8 195.4h1M304.1 193.8h1M297.9 195.6h1M301.8 194.0h1M302.1 202.5h1M307.5 208.2h1M298.4 195.5h1M290.6 209.4h1M298.7 197.8h1M304.4 189.8h1M304.1 197.8h1M293.6 199.8h1M307.5 186.8h1M305.7 199.3h1M304.2 200.6h1M308.0 196.7h1M306.0 195.5h1M305.3 193.1h1M301.5 208.4h1M304.0 197.1h1M296.7 193.3h1M302.9 203.6h1M304.0 201.1h1M301.8 206.1h1M300.2 194.7h1M306.1 198.4h1M300.7 194.5h1M300.8 201.7h1M303.6 190.7h1M304.0 199.1h1M297.4 202.6h1M300.7 196.0h1M305.7 205.9h1M298.8 200.6h1M298.0 211.9h1M299.7 205.2h1M299.0 202.9h1M312.2 182.8h1M300.0 201.0h1M301.6 194.0h1M311.9 198.5h1M294.4 203.1h1M294.1 204.9h1M299.3 198.9h1M307.8 198.7h1M295.6 187.8h1M307.4 202.4h1M298.2 203.2h1M304.3 201.9h1M291.6 196.2h1M306.1 202.4h1M306.1 183.3h1M302.8 201.0h1M313.7 192.3h1M300.5 198.2h1M306.1 195.3h1M307.3 193.3h1M303.2 194.8h1M302.7 193.9h1M294.7 204.6h1M303.4 194.6h1M302.9 203.9h1M297.5 197.3h1M304.5 201.2h1M300.5 185.4h1M307.7 200.0h1M302.1 196.3h1M303.2 195.4h1M297.3 193.6h1M299.3 194.3h1M296.7 201.8h1M296.0 202.0h1M297.3 200.1h1M308.3 199.2h1M298.6 198.3h1M302.7 187.6h1M299.2 199.0h1M299.8 198.5h1M305.4 202.6h1M306.2 201.5h1M300.7 197.9h1M300.8 196.1h1M301.2 187.7h1M300.5 197.9h1M297.5 197.9h1M304.4 197.0h1M311.6 182.4h1M301.1 187.0h1M290.5 198.8h1M304.4 196.2h1M304.5 184.5h1M305.9 200.2h1M302.1 194.5h1M304.9 195.1h1M303.0 194.9h1M291.7 197.8h1M302.9 202.5h1M298.0 197.8h1M304.8 198.9h1M307.7 209.9h1M297.8 186.5h1M305.9 207.2h1M306.2 202.9h1M299.2 193.7h1M306.1 192.5h1M293.7 192.0h1M313.5 209.5h1M298.8 193.6h1M303.1 193.5h1M308.0 197.5h1M297.0 205.9h1M299.3 199.3h1M301.9 196.1h1M303.5 193.8h1M293.5 184.8h1M296.2 193.4h1M301.9 198.3h1M304.6 198.7h1M298.4 193.7h1M292.3 197.0h1M304.2 201.2h1M301.4 197.0h1M306.3 198.1h1M305.4 201.5h1M303.0 205.8h1M299.4 195.8h1M298.3 193.2h1M309.2 208.6h1M302.1 201.4h1M307.4 202.8h1M307.5 190.4h1M299.1 200.7h1M308.6 198.6h1M298.1 195.9h1M299.0 192.9h1M308.9 194.2h1M302.1 211.0h1M307.4 200.0h1M299.2 200.5h1M309.5 201.7h1M307.8 198.6h1M304.4 196.8h1M304.0 205.8h1M295.4 197.6h1M303.1 194.6h1M300.6 202.7h1M311.2 201.8h1M303.5 188.7h1M310.9 198.5h1M301.8 191.3h1M301.7 191.4h1M302.3 200.8h1M302.1 199.7h1M298.1 206.6h1M299.0 187.1h1M301.1 193.4h1M297.4 195.9h1M303.3 190.9h1M301.4 206.6h1M305.1 197.1h1M302.6 197.3h1M301.8 202.4h1M301.6 183.6h1M301.9 192.7h1M305.0 194.3h1M302.7 211.1h1M297.2 191.3h1M295.5 183.6h1M293.4 200.2h1M299.1 186.8h1M295.2 201.7h1M298.4 195.8h1M303.5 206.1h1M310.9 204.2h1M302.7 199.1h1M310.3 206.6h1M300.6 200.7h1M303.3 198.3h1M299.7 190.0h1M299.5 188.7h1M307.6 201.2h1M296.5 206.4h1M306.1 186.5h1M310.5 202.9h1M311.5 190.6h1M304.4 200.5h1M302.9 199.0h1M306.8 189.0h1M296.3 189.6h1M299.4 194.4h1M303.7 199.6h1M302.1 193.9h1M300.0 203.7h1M305.5 198.6h1M300.5 207.3h1M299.3 201.9h1M307.3 196.4h1M305.8 191.3h1M306.7 199.2h1M294.7 202.0h1M297.9 205.7h1M298.9 197.0h1M303.3 196.0h1M303.2 194.7h1M305.1 198.0h1M303.0 181.5h1M307.3 198.2h1M293.8 198.6h1M304.1 204.4h1M297.0 207.3h1M301.3 212.4h1M301.3 202.1h1M300.3 191.3h1M307.0 203.4h1M309.1 203.1h1M299.4 188.0h1M299.0 193.9h1M298.3 201.5h1M303.5 196.4h1M302.8 197.1h1M303.0 202.5h1M306.4 193.9h1M295.1 206.6h1M302.5 204.6h1M294.4 196.0h1M302.1 189.4h1M299.6 202.3h1M307.0 207.6h1M298.0 189.6h1M304.4 203.6h1M302.9 190.2h1M305.6 202.8h1M304.5 195.1h1M303.4 202.7h1M299.4 186.9h1M303.5 200.9h1M302.1 203.3h1M299.3 197.5h1M300.6 201.4h1M309.3 196.5h1M311.5 207.2h1M305.6 201.5h1M310.1 196.9h1M301.5 191.6h1M304.2 206.1h1M304.4 200.5h1M301.1 199.0h1M295.4 204.3h1M300.1 191.4h1M298.5 193.1h1M305.9 204.3h1M295.8 203.6h1M306.1 194.5h1M295.2 193.5h1M299.1 200.1h1M300.4 185.8h1M303.1 188.8h1M306.2 190.8h1M298.8 192.9h1M299.5 205.8h1M305.9 201.6h1M303.5 188.7h1M299.6 194.7h1M297.5 201.1h1M298.6 193.7h1M297.2 185.7h1M304.7 206.0h1M302.8 192.1h1M289.6 199.0h1M307.6 199.8h1M306.3 206.9h1M307.2 195.4h1M306.8 202.7h1M294.9 195.6h1M295.5 197.3h1M304.7 191.6h1M292.5 205.8h1M303.7 206.8h1M295.9 204.4h1M311.5 210.0h1M301.0 199.6h1M301.3 204.0h1M306.8 198.5h1M295.7 202.4h1M299.8 201.8h1M303.2 207.7h1M307.2 195.3h1M303.6 208.6h1M299.5 200.6h1M307.5 205.5h1M304.4 190.1h1M296.2 199.5h1M298.0 204.8h1M305.5 188.0h1M298.2 199.0h1M299.7 197.1h1M304.2 193.1h1M304.1 194.2h1M299.5 201.2h1M299.4 199.7h1M309.4 198.2h1M301.3 202.4h1M300.3 204.5h1M296.1 201.7h1M299.6 193.2h1M310.1 192.9h1M310.1 201.9h1M308.7 192.1h1M307.5 206.7h1M301.5 197.2h1M313.3 199.1h1M300.1 194.2h1M304.1 200.0h1M302.8 208.3h1M300.5 200.8h1M308.7 192.0h1M306.8 209.0h1M295.8 191.4h1M297.2 186.9h1M304.1 186.9h1M304.3 206.7h1M294.6 196.1h1M293.2 202.7h1M298.6 196.4h1M302.3 201.3h1M300.4 198.1h1M299.5 198.7h1M296.6 198.4h1M293.1 195.1h1M310.8 198.5h1M296.2 199.5h1M297.5 188.1h1M298.6 202.4h1M303.8 197.4h1M297.7 191.5h1M308.2 199.5h1M297.6 185.3h1M295.7 212.9h1M296.7 197.5h1M303.0 197.1h1M300.7 189.8h1M297.2 208.1h1M298.5 203.1h1M294.2 196.4h1M303.2 204.2h1M296.8 201.6h1M303.8 193.6h1M304.2 192.6h1M298.3 197.9h1M289.5 197.3h1M297.4 189.2h1M300.0 202.6h1M300.1 205.6h1M296.7 190.1h1M309.1 200.4h1M306.3 193.0h1M305.7 199.6h1M305.0 198.2h1M307.5 194.1h1M297.6 189.1h1M307.3 193.6h1M297.2 192.4h1M300.0 190.4h1M300.7 194.2h1M299.5 192.2h1M302.2 195.2h1M302.5 199.5h1M303.6 184.9h1M299.5 193.2h1M305.6 188.5h1M298.7 196.2h1M300.5 203.9h1M300.0 203.8h1M295.3 187.1h1M307.6 200.6h1M304.2 198.7h1M304.2 190.7h1M306.4 194.8h1M306.5 198.5h1M292.9 190.3h1M307.2 197.2h1M300.2 199.5h1M300.0 194.7h1M302.5 198.9h1M309.0 198.3h1M310.6 208.8h1M309.9 204.4h1M302.6 198.8h1M301.3 193.6h1M301.7 194.2h1M309.5 201.2h1M299.9 186.5h1M301.8 195.5h1M297.0 191.2h1M291.6 201.4h1M301.9 197.1h1M308.6 198.8h1M302.8 195.8h1M299.2 207.0h1M306.6 208.3h1M300.4 198.2h1M297.9 203.8h1M295.6 201.4h1M307.0 206.5h1M297.7 204.5h1M298.7 193.5h1M295.9 204.9h1M309.6 194.4h1M298.5 196.0h1M313.5 204.0h1M299.5 187.2h1M298.9 205.1h1M310.6 196.4h1M298.8 194.9h1M293.3 203.4h1M297.0 204.4h1M294.1 190.4h1M303.3 193.4h1M305.6 198.0h1M296.6 201.7h1M305.9 186.5h1M310.4 201.0h1M305.5 186.8h1M298.7 195.9h1M307.0 189.2h1M297.9 185.8h1M300.9 200.1h1M294.2 194.5h1M304.3 207.5h1M305.1 196.2h1M296.6 192.4h1M298.9 198.9h1M301.8 208.0h1M303.3 191.6h1M309.1 203.7h1M302.5 193.7h1M293.4 191.9h1M306.2 193.2h1M295.9 199.2h1M303.1 201.6h1M305.0 206.5h1M298.1 203.9h1M297.5 202.2h1M302.8 199.5h1M306.5 197.9h1M307.1 203.3h1M302.6 194.6h1M298.5 194.8h1M301.1 197.9h1M315.7 201.8h1M305.5 192.8h1M298.7 196.1h1M302.9 191.8h1M309.4 194.6h1M307.0 184.0h1M302.0 199.7h1M302.9 201.6h1M303.3 199.0h1M293.3 193.7h1M291.2 201.8h1M303.4 196.8h1M298.2 194.5h1M310.5 208.4h1M301.7 205.7h1M294.7 186.4h1M299.8 192.8h1M299.4 199.1h1M315.9 194.0h1M302.2 199.7h1M301.8 203.6h1M310.2 190.5h1M302.7 196.4h1M303.6 188.8h1M293.9 184.1h1M304.4 199.2h1M302.3 183.8h1M300.3 193.5h1M295.5 192.5h1M305.2 201.3h1M301.9 201.1h1M299.2 198.4h1M302.2 201.3h1M301.7 197.1h1M301.4 194.1h1M312.3 201.1h1M304.0 211.7h1M308.5 188.7h1M305.2 203.0h1M310.7 205.9h1M305.5 190.9h1M298.0 199.6h1M304.3 191.9h1M300.2 195.6h1M302.3 200.0h1M300.7 190.6h1M307.7 207.6h1M301.5 204.1h1M304.0 202.0h1M304.2 193.4h1M304.6 204.1h1M297.9 209.8h1M311.6 208.9h1M311.2 202.5h1M300.4 194.4h1M298.3 198.7h1M301.8 202.0h1M292.7 211.9h1M312.5 197.8h1M305.1 200.9h1M303.3 196.7h1M301.4 193.1h1M302.8 197.9h1M303.5 192.9h1M302.2 198.3h1M304.8 191.6h1M303.9 203.9h1M304.7 195.8h1M299.7 196.6h1M305.4 207.3h1M301.3 194.1h1M303.7 199.2h1M297.8 193.6h1M301.5 202.0h1M296.5 191.9h1M304.3 190.7h1M302.5 200.1h1M301.5 191.9h1M301.7 196.0h1M303.5 193.0h1M307.0 187.9h1M301.2 198.0h1M306.4 194.3h1M304.5 194.6h1M305.4 208.4h1M300.2 200.7h1M297.7 203.8h1M307.6 198.2h1M296.8 200.4h1M307.3 204.5h1M305.7 187.0h1M298.9 206.5h1M296.4 204.8h1M310.7 202.6h1M307.2 196.0h1M296.4 197.4h1M301.1 197.7h1M305.2 197.1h1M302.9 200.5h1M302.0 209.1h1M304.0 198.5h1M301.0 194.2h1M308.2 198.9h1M297.0 194.6h1M301.4 195.3h1M307.0 191.0h1M304.3 198.9h1M296.6 198.3h1M301.6 201.0h1M299.9 199.8h1M294.3 191.5h1M305.6 204.2h1M301.9 194.4h1M307.0 185.4h1M298.3 202.0h1M305.0 191.8h1M293.3 206.7h1M302.7 192.6h1M302.3 203.4h1M290.1 204.7h1M305.4 185.5h1M305.5 187.3h1M307.2 200.4h1M312.4 194.3h1M302.0 204.3h1M299.1 193.8h1M300.3 197.6h1M297.0 200.9h1M304.5 198.4h1M309.8 196.0h1M308.0 194.7h1M305.5 186.4h1M302.9 196.9h1M299.7 194.3h1M300.4 193.7h1M291.9 194.4h1M299.5 194.9h1M297.1 197.2h1M305.6 196.5h1M299.7 206.1h1M306.5 203.5h1M307.3 196.0h1M301.4 204.7h1M299.5 197.3h1M303.7 200.2h1M300.7 203.9h1M301.2 202.4h1M306.9 202.0h1M305.4 191.0h1M296.0 194.3h1M304.2 207.0h1M296.4 199.8h1M298.1 193.6h1M300.7 202.2h1M303.0 205.1h1M297.5 203.3h1M306.3 198.4h1M304.2 194.6h1M297.0 195.6h1M299.8 207.9h1M302.9 199.9h1M305.4 193.3h1M306.2 200.3h1M295.0 201.6h1M304.5 200.7h1M309.3 195.5h1M304.4 202.5h1M297.9 205.2h1M295.3 190.2h1M304.4 191.5h1M301.5 188.1h1M302.3 191.2h1M303.6 188.8h1M304.1 196.4h1M302.3 197.6h1M302.6 190.1h1M290.2 198.2h1M297.7 195.3h1M304.0 186.1h1M298.5 194.3h1M297.1 200.0h1M301.4 193.1h1M297.5 202.8h1M299.0 201.5h1M304.1 186.6h1M297.0 198.0h1M303.6 202.7h1M305.7 204.2h1M300.3 196.7h1M305.6 195.4h1M306.9 188.5h1M305.0 197.0h1M293.0 203.9h1M303.4 198.1h1M297.0 195.2h1M309.0 193.0h1M286.0 192.9h1M296.5 197.2h1M300.2 192.5h1M298.1 204.3h1M295.4 209.7h1M299.5 191.4h1M305.6 201.4h1M297.2 202.5h1M293.5 192.5h1M307.2 196.5h1M296.0 201.1h1M306.2 197.9h1M293.7 195.9h1M303.9 202.6h1M310.5 196.5h1M299.8 197.8h1M307.5 192.4h1M308.0 181.5h1M305.7 193.9h1M304.1 202.1h1M296.6 197.5h1M303.1 201.5h1M297.7 192.1h1M301.1 196.7h1M295.1 203.6h1M299.5 206.6h1M305.9 198.1h1M305.3 191.3h1M300.5 194.5h1M296.2 198.1h1M301.3 206.6h1M286.6 194.0h1M297.8 195.2h1M303.9 200.4h1M302.1 195.2h1M304.3 200.2h1M293.5 196.4h1M295.7 190.9h1M302.7 198.4h1M302.5 192.7h1M301.1 192.5h1M303.8 202.1h1M310.1 205.6h1M298.3 195.3h1M297.7 199.8h1M311.1 202.3h1M291.9 190.5h1M296.1 201.1h1M302.0 199.8h1M310.2 193.0h1M298.1 209.8h1M303.6 193.3h1M292.7 188.9h1M290.8 198.4h1M302.2 204.0h1M301.4 193.8h1M298.6 209.4h1M293.9 199.0h1M302.1 201.7h1M300.1 201.0h1M305.8 197.1h1M299.9 196.9h1M297.6 196.8h1M300.6 199.3h1M308.1 205.8h1M300.0 201.6h1M303.4 202.6h1M302.1 199.6h1M299.8 193.3h1M306.0 205.8h1M305.0 200.6h1M303.2 195.3h1M293.8 202.0h1M302.9 194.7h1M297.6 205.7h1M293.7 208.6h1M304.9 212.2h1M298.7 197.9h1M299.7 198.9h1M301.0 193.5h1M306.9 193.3h1M299.7 201.3h1M299.5 195.4h1M303.6 195.8h1M296.3 197.4h1M301.0 208.2h1M297.0 203.8h1M298.4 195.9h1M300.5 199.6h1M306.0 208.5h1M299.1 206.0h1M306.6 202.9h1M298.5 203.4h1M301.5 200.1h1M300.8 202.0h1M307.1 204.8h1M301.1 204.0h1M308.7 192.4h1M308.8 190.0h1M304.5 201.6h1M308.8 199.7h1M299.8 193.2h1M296.2 202.6h1M300.9 193.7h1M304.4 193.4h1M300.0 195.2h1M309.6 206.8h1M301.3 188.6h1M303.3 198.4h1M303.6 201.4h1M300.5 203.6h1M305.8 199.3h1M300.1 195.1h1M305.2 191.4h1M301.3 193.5h1M295.6 201.6h1M301.9 198.2h1M306.0 189.0h1M301.7 199.7h1M305.8 191.5h1M305.3 199.3h1M308.2 204.8h1M304.5 210.9h1M302.0 195.5h1M300.4 192.4h1M301.9 186.7h1M301.6 200.6h1M306.6 195.9h1M308.4 194.1h1M301.4 186.7h1M298.5 193.3h1M308.7 201.1h1M297.0 201.1h1M304.2 196.6h1M302.1 196.2h1M299.6 187.6h1M301.6 205.5h1M308.4 196.4h1M298.6 196.8h1M306.0 200.1h1M299.4 200.1h1M301.1 201.0h1M300.2 189.4h1M302.3 202.5h1M297.0 197.4h1M305.9 195.8h1M299.1 209.9h1M305.7 204.0h1M297.8 207.5h1M294.6 195.0h1M305.3 205.8h1M297.8 194.1h1M302.9 186.7h1M304.9 201.3h1M300.0 201.1h1M305.5 199.8h1M304.3 206.8h1M299.9 198.9h1M299.7 204.0h1M300.2 200.8h1M302.6 198.4h1M309.7 197.5h1M308.3 202.8h1M307.9 197.0h1M306.1 202.4h1M299.3 199.6h1M301.4 197.8h1M307.8 193.8h1M294.5 187.9h1M300.0 194.3h1M302.1 201.3h1M309.8 199.8h1M304.1 193.7h1M304.6 205.9h1M308.0 186.7h1M306.0 207.2h1M305.7 189.4h1M300.6 201.4h1M303.8 193.3h1M298.1 203.6h1M296.1 206.3h1M302.1 199.7h1M296.1 194.6h1M305.1 189.5h1M311.2 189.9h1M296.6 198.2h1M304.1 202.2h1M300.4 196.8h1M301.0 194.7h1M290.6 203.5h1M303.1 198.9h1M299.2 199.4h1M301.9 197.6h1M306.9 188.1h1M303.1 191.9h1M300.6 206.6h1M297.2 197.4h1M299.4 203.5h1M297.7 188.3h1M304.3 196.0h1M300.6 204.2h1M298.1 195.8h1M302.7 200.4h1M299.7 204.0h1M311.9 195.6h1M310.3 185.8h1M308.2 196.0h1M302.6 196.0h1M299.2 190.6h1M300.3 205.5h1M307.0 196.0h1M299.7 194.0h1M296.7 208.4h1M304.9 198.7h1M299.8 192.1h1M307.8 202.5h1M297.8 203.7h1M297.1 201.7h1M297.8 195.6h1M304.2 200.5h1M306.5 193.2h1M309.0 205.7h1M302.0 200.7h1M298.6 197.1h1M296.2 198.5h1M302.9 205.7h1M306.2 202.7h1M300.4 196.7h1M300.5 199.3h1M293.5 202.4h1M295.1 195.0h1M302.1 195.0h1M309.3 197.4h1M308.9 204.8h1M299.8 200.3h1M307.7 196.1h1M302.4 194.8h1M302.3 196.0h1M302.4 203.8h1M308.2 198.8h1M302.9 202.9h1M300.7 191.9h1M306.9 192.6h1M306.1 192.4h1M310.1 192.0h1M305.7 206.6h1M297.8 206.6h1M298.4 187.8h1M305.2 202.0h1M301.1 183.5h1M301.8 196.2h1M300.3 196.3h1M294.1 194.7h1M309.9 206.9h1M300.4 193.9h1M303.8 204.1h1M305.2 191.3h1M302.7 198.8h1M308.4 204.9h1M304.3 205.0h1M300.3 206.9h1M300.1 200.3h1M306.1 192.7h1M298.9 187.9h1M302.7 197.7h1M300.6 200.9h1M292.7 197.9h1M302.4 196.5h1M305.5 208.1h1M300.0 192.6h1M299.3 198.5h1M304.6 193.0h1M306.4 192.1h1M305.7 200.5h1M304.0 210.4h1M300.8 197.0h1M304.1 203.0h1M296.1 199.6h1M298.7 201.6h1M308.0 198.3h1M301.5 199.1h1M289.0 202.4h1M304.5 198.9h1M300.3 193.8h1M301.2 205.0h1M301.5 205.8h1M290.6 195.4h1M303.2 197.9h1M294.7 194.2h1M307.5 190.6h1M297.6 191.7h1M299.6 201.7h1M304.6 186.3h1M308.4 194.6h1M299.4 207.6h1M301.6 190.9h1M299.2 193.8h1M297.5 196.1h1M305.9 200.0h1M297.6 198.7h1M302.1 202.4h1M300.5 200.6h1M311.3 198.6h1M297.2 199.9h1M298.5 195.9h1M302.8 199.9h1M300.7 202.9h1M301.1 190.5h1M305.9 195.9h1M307.4 194.2h1M304.5 199.8h1M290.1 189.4h1M297.1 206.1h1M293.7 203.3h1M306.8 200.9h1M305.0 195.1h1M302.0 199.3h1M303.9 202.1h1M301.1 194.0h1M299.5 200.4h1M294.7 190.8h1M300.2 194.8h1M300.8 182.7h1M300.5 196.6h1M305.4 186.6h1M300.6 200.7h1M304.2 204.9h1M306.7 192.0h1M304.8 196.1h1M298.5 206.8h1M299.2 193.1h1M300.2 193.1h1M306.5 200.2h1M308.2 200.4h1M299.3 204.0h1M299.1 195.3h1M301.3 198.2h1M307.3 194.5h1M303.6 197.8h1M296.4 191.7h1M301.0 200.3h1M303.4 200.8h1M302.2 195.4h1M303.9 192.2h1M296.0 196.1h1M295.7 195.0h1M298.7 194.8h1M301.8 193.4h1M300.1 188.1h1M302.6 192.9h1M303.8 181.6h1M298.4 199.4h1M291.2 195.9h1M302.4 198.6h1M295.4 199.3h1M302.7 192.4h1M305.3 197.7h1M302.1 195.4h1M304.4 198.6h1M307.0 200.6h1M299.3 196.7h1M306.1 195.9h1M303.7 201.0h1M301.2 184.5h1M302.6 199.2h1M302.6 193.6h1M307.4 197.2h1M299.2 193.8h1M303.6 191.7h1M297.5 209.6h1M307.8 204.1h1M308.1 201.5h1M294.5 204.9h1M307.5 200.8h1M293.3 205.2h1M308.1 195.1h1M302.6 202.5h1M301.6 204.4h1M302.4 202.0h1M302.4 189.4h1M303.2 205.6h1M307.1 208.0h1M304.5 194.5h1M302.1 186.8h1M301.2 203.3h1M292.4 199.1h1M305.7 205.7h1M297.9 194.2h1M293.6 192.1h1M304.4 210.0h1M296.9 206.0h1M303.9 195.1h1M311.8 183.3h1M301.7 199.3h1M311.5 208.5h1M312.1 198.8h1M306.4 206.0h1M304.3 200.1h1M301.2 195.6h1M296.5 209.4h1M300.0 185.9h1M303.2 197.8h1M302.8 208.6h1M301.5 196.5h1M298.7 197.9h1M300.0 199.2h1M316.0 200.3h1M298.2 209.3h1M305.9 202.8h1M305.2 202.8h1M305.0 206.2h1M306.5 205.9h1M299.8 198.0h1M298.7 203.6h1M305.7 195.3h1M307.5 191.5h1M301.6 201.7h1M301.8 200.3h1M307.3 199.9h1M297.1 202.2h1M301.6 198.7h1M299.5 189.9h1M296.4 195.9h1M297.2 182.1h1M307.1 191.2h1M298.8 201.1h1M291.2 205.8h1M298.6 201.9h1M299.8 199.8h1M302.5 198.0h1M293.8 189.4h1M301.8 206.2h1M303.3 190.1h1M306.7 191.4h1M308.1 161.9h1M300.3 192.3h1M304.0 179.5h1M302.3 182.6h1M301.6 193.0h1M310.8 175.2h1M307.3 181.3h1M305.4 175.3h1M309.5 186.8h1M304.2 183.3h1M301.9 180.7h1M303.8 180.1h1M302.5 182.8h1M305.7 189.0h1M309.3 161.9h1M300.0 183.4h1M305.9 184.6h1M305.3 158.9h1M306.7 183.2h1M301.1 171.2h1M304.4 189.5h1M307.8 185.0h1M310.3 179.7h1M308.2 166.7h1M299.0 192.4h1M300.6 170.9h1M309.1 191.3h1M306.4 191.6h1M307.0 187.3h1M306.3 185.2h1M301.3 191.8h1M296.4 177.6h1M310.8 185.2h1M299.3 174.5h1M305.8 190.9h1M303.7 183.4h1M302.2 189.5h1M303.0 186.8h1M307.1 192.8h1M306.3 192.2h1M309.0 190.4h1M304.5 187.9h1M302.5 189.4h1M305.7 179.9h1M303.8 167.5h1M306.0 172.6h1M308.2 180.5h1M304.3 185.4h1M305.7 187.1h1M304.4 186.2h1M302.4 179.4h1M306.1 186.7h1M302.2 181.8h1M306.9 146.8h1M304.1 176.8h1M301.7 187.8h1M308.4 192.0h1M305.1 183.3h1M301.9 184.1h1M309.4 192.7h1M301.9 181.3h1M301.5 169.2h1M305.8 186.0h1M298.4 185.5h1M306.1 184.2h1M299.0 178.6h1M304.6 175.5h1M304.2 178.2h1M305.5 182.5h1M305.7 191.4h1M299.6 189.8h1M310.2 191.6h1M307.7 191.8h1M305.1 192.3h1M300.9 178.1h1M304.1 192.3h1M301.4 177.7h1M307.1 170.9h1M306.2 187.7h1M303.7 183.5h1M310.8 188.8h1M305.4 189.0h1M304.1 167.5h1M307.3 182.5h1M301.7 192.3h1M304.8 188.3h1M308.9 167.7h1M300.7 189.1h1M305.3 183.0h1M306.0 186.9h1M301.4 181.6h1M305.8 187.1h1M305.7 160.3h1M303.0 182.4h1M307.6 183.1h1M305.9 186.2h1M302.4 188.8h1M303.9 172.3h1M303.7 171.9h1M309.9 181.3h1M297.8 185.3h1M307.1 165.6h1M308.2 179.7h1M306.2 192.3h1M305.8 181.2h1M304.1 190.4h1M308.6 172.0h1M303.1 184.0h1M302.8 188.5h1M300.7 189.9h1M305.9 160.5h1M303.5 190.0h1M306.2 173.1h1M305.8 153.8h1M301.0 189.1h1M307.4 162.3h1M304.3 192.2h1M303.3 177.5h1M310.8 188.5h1M306.6 189.6h1M302.6 182.3h1M303.6 190.8h1M307.4 169.1h1M303.5 190.9h1M307.7 186.5h1M296.5 192.6h1M301.7 189.7h1M308.1 182.7h1M308.0 176.1h1M307.0 185.7h1M304.3 170.1h1M303.6 191.3h1M310.8 156.5h1M300.1 183.3h1M304.3 175.0h1M307.9 184.1h1M306.3 184.4h1M304.4 167.1h1M301.7 191.8h1M302.7 191.0h1M304.1 168.7h1M310.8 189.6h1M305.7 181.1h1M304.6 148.5h1M300.7 179.1h1M310.8 192.3h1M303.3 189.3h1M308.0 175.4h1M307.4 188.4h1M310.1 192.1h1M303.7 182.6h1M304.5 172.8h1M302.1 192.6h1M303.0 183.6h1M308.8 191.2h1M307.6 181.8h1M303.1 178.9h1M307.5 190.7h1M308.7 187.8h1M310.8 169.0h1M307.6 190.9h1M302.4 191.7h1M306.2 184.1h1M303.9 183.0h1M307.7 190.7h1M307.4 183.0h1M301.9 190.1h1M304.9 186.3h1M305.5 189.4h1M306.6 166.3h1M298.3 192.8h1M304.9 155.7h1M299.4 182.0h1M305.4 177.8h1M305.7 190.8h1M310.3 189.0h1M308.1 183.5h1M305.6 188.5h1M306.0 181.8h1M304.1 189.5h1M300.4 176.9h1M301.8 192.2h1M309.3 192.5h1M301.4 171.1h1M301.7 187.6h1M306.3 160.0h1M301.7 192.9h1M308.1 186.2h1M303.8 191.8h1M305.2 178.2h1M310.2 190.9h1M304.0 190.1h1M306.5 189.8h1M310.8 172.6h1M301.3 173.4h1M305.5 162.0h1M305.0 190.1h1M300.4 180.2h1M308.2 191.7h1M300.4 176.6h1M303.9 149.1h1M306.5 178.5h1M305.0 170.1h1M303.3 157.0h1M309.4 169.8h1M302.0 171.9h1M302.1 170.3h1M303.2 173.1h1M306.9 150.8h1M303.0 183.1h1M306.5 148.1h1M304.5 172.9h1M304.9 189.6h1M310.8 190.1h1M302.7 184.2h1M305.6 162.0h1M303.0 186.5h1M300.4 173.1h1M306.3 156.1h1M300.3 170.3h1M303.9 179.3h1M305.8 169.5h1M302.7 169.5h1M308.6 172.5h1M308.7 192.8h1M305.1 191.5h1M306.3 180.9h1M301.9 185.1h1M303.9 187.3h1M306.9 168.8h1M303.1 191.8h1M303.2 188.9h1M304.0 178.9h1M301.7 171.6h1M308.5 192.4h1M308.3 170.5h1M306.0 151.9h1M307.3 187.1h1M306.1 180.8h1M310.8 163.8h1M302.0 152.5h1M307.3 183.8h1M307.1 169.9h1M304.9 190.7h1M304.9 190.5h1M305.0 155.3h1M299.4 189.2h1M306.6 187.4h1M308.3 167.2h1M307.4 183.6h1M299.7 163.8h1M310.1 178.7h1M309.0 185.4h1M307.1 151.8h1M302.0 180.0h1M308.6 186.9h1M300.2 162.1h1M304.3 184.0h1M299.3 192.2h1M310.8 169.6h1M303.3 185.3h1M301.3 174.9h1M309.0 175.0h1M301.7 192.5h1M304.2 153.3h1M306.5 164.1h1M307.6 181.8h1M308.4 192.4h1M300.9 179.7h1M308.3 188.7h1M305.2 182.8h1M302.4 185.9h1M309.6 171.8h1M304.4 178.3h1M299.0 176.9h1M310.6 177.7h1M304.7 181.9h1M306.9 170.3h1M305.8 191.0h1M302.2 183.6h1M306.4 175.6h1M303.7 190.6h1M304.6 188.4h1M306.0 186.7h1M310.8 190.3h1M303.3 188.2h1M307.0 188.0h1M304.3 185.5h1M306.9 186.5h1M306.6 186.7h1M307.5 190.0h1M304.4 161.9h1M299.2 179.8h1M306.9 173.4h1M304.3 174.6h1M306.7 184.7h1M300.6 174.8h1M303.3 188.8h1M300.3 183.2h1M310.4 188.6h1M303.3 173.8h1M303.2 192.5h1M306.9 187.3h1M301.3 156.4h1M304.8 192.1h1M307.4 182.7h1M305.1 186.1h1M300.2 171.6h1M307.1 179.5h1M306.8 148.5h1M301.7 173.6h1M301.3 186.5h1M309.9 187.6h1M303.1 186.5h1M306.0 190.3h1M302.2 166.3h1M301.2 178.6h1M304.2 162.9h1M306.9 192.1h1M307.2 186.1h1M298.7 178.7h1M304.9 181.8h1M301.6 188.8h1M307.4 168.8h1M306.5 190.9h1M299.1 178.5h1M305.1 163.3h1M301.2 163.2h1M304.7 179.4h1M299.1 165.6h1M308.4 177.2h1M308.7 180.7h1M304.8 181.0h1M306.2 170.4h1M304.7 189.7h1M307.2 191.7h1M301.1 171.9h1M297.2 187.2h1M304.6 169.3h1M303.8 187.9h1M309.5 191.1h1M305.1 188.8h1M308.2 182.5h1M306.3 171.6h1M310.8 191.5h1M306.5 189.7h1M303.0 187.8h1M302.9 182.1h1M306.1 190.0h1M310.6 169.2h1M306.4 192.6h1M301.3 173.4h1M308.7 185.8h1M305.7 192.2h1M301.5 181.6h1M301.3 186.4h1M300.7 189.7h1M304.7 166.7h1M310.8 150.7h1M304.8 187.8h1M306.2 184.6h1M304.9 191.1h1M300.4 177.0h1M306.4 185.1h1M303.9 186.3h1M306.7 188.7h1M306.8 183.6h1M309.9 185.5h1M306.6 190.2h1M309.7 189.0h1M300.4 146.0h1M303.2 175.1h1M310.8 176.3h1M302.7 176.5h1M307.0 192.8h1M305.8 167.1h1M304.2 189.0h1M300.6 187.3h1M308.9 188.3h1M306.9 187.3h1M305.5 163.2h1M306.2 191.6h1M301.7 191.5h1M308.2 184.7h1M309.8 184.6h1M302.0 170.6h1M306.1 182.2h1M306.1 183.8h1M305.6 192.7h1M307.4 161.9h1M297.5 185.5h1M304.7 171.3h1M301.9 169.1h1M305.3 189.9h1M305.4 181.6h1M304.7 169.9h1M305.3 173.0h1M304.1 164.4h1M305.2 183.1h1M307.6 180.3h1M306.2 164.8h1M300.5 190.0h1M305.4 189.4h1M307.6 191.6h1M303.2 181.4h1M306.5 185.1h1M306.5 181.5h1M301.7 185.5h1M301.2 192.1h1M304.8 184.7h1M303.9 186.4h1M302.6 189.4h1M300.5 179.4h1M303.7 191.0h1M301.6 161.8h1M304.1 189.5h1M305.4 172.8h1M308.2 170.4h1M301.5 192.5h1M301.1 191.7h1M310.7 192.5h1M304.1 192.4h1M305.4 189.8h1M310.8 178.5h1M309.1 160.3h1M303.1 189.0h1M305.3 174.6h1M305.5 191.6h1M310.0 190.3h1M304.2 171.6h1M307.0 191.5h1M308.3 172.9h1M310.5 193.0h1M300.4 168.2h1M299.4 183.9h1M303.0 180.4h1M300.2 191.9h1M301.8 192.3h1M302.5 186.4h1M304.3 192.9h1M305.0 170.0h1M304.3 171.3h1M303.4 179.4h1M305.4 190.0h1M305.7 182.7h1M304.1 176.0h1M306.1 168.4h1M305.9 187.0h1M303.8 188.3h1M305.1 180.9h1M305.0 192.0h1M304.6 191.4h1M303.5 183.5h1M301.0 185.1h1M301.3 179.4h1M307.4 160.7h1M304.4 161.3h1M299.3 169.4h1M304.8 178.2h1M304.2 168.3h1M299.0 190.4h1M307.8 155.8h1M300.3 189.2h1M306.8 188.4h1M303.4 191.7h1M307.3 185.4h1M309.6 158.0h1M304.4 174.3h1M310.3 174.8h1M296.2 188.8h1M305.0 192.7h1M308.3 189.6h1M310.4 187.8h1M300.3 173.9h1M306.0 172.4h1M298.4 183.1h1M309.7 188.1h1M308.7 180.2h1M302.3 149.2h1M307.9 190.7h1M300.5 183.0h1M304.1 156.9h1M299.1 177.8h1M308.9 148.5h1M306.9 188.6h1M306.2 162.2h1M307.5 176.6h1M306.5 177.9h1M308.1 177.7h1M304.9 189.3h1M299.6 189.1h1M309.8 189.9h1M305.8 189.1h1M309.5 181.4h1M304.0 179.1h1M301.0 188.3h1M302.2 192.1h1M305.5 187.2h1M305.2 191.0h1M307.8 147.6h1M307.4 177.9h1M304.2 190.5h1M310.4 191.6h1M303.9 177.8h1M308.1 185.3h1M304.8 158.0h1M303.6 187.6h1M305.4 170.1h1M304.3 189.7h1M308.5 178.6h1M300.4 188.8h1M307.1 162.4h1M305.1 190.8h1M302.7 178.9h1M301.4 190.4h1M306.1 186.7h1M302.6 189.7h1M301.6 192.1h1M310.8 191.2h1M305.6 150.1h1M301.6 191.1h1M308.9 172.8h1M305.0 183.4h1M308.1 191.5h1M305.1 188.6h1M310.7 186.8h1M305.2 190.2h1M302.7 189.8h1M302.7 179.7h1M307.0 184.7h1M305.7 178.8h1M304.2 169.5h1M305.1 185.5h1M305.8 191.4h1M300.1 191.7h1M306.3 191.4h1M303.0 189.6h1M305.3 185.5h1M305.9 187.2h1M305.8 184.8h1M308.8 192.0h1M303.4 189.7h1M304.9 166.5h1M300.9 150.3h1M306.0 155.6h1M303.8 183.3h1M305.1 167.0h1M307.0 189.9h1M307.2 159.5h1M306.3 185.0h1M304.9 185.2h1M303.8 188.0h1M306.3 187.2h1M309.5 191.3h1M308.6 190.4h1M304.6 192.9h1M302.8 192.7h1M301.8 184.7h1M304.8 189.5h1M301.0 184.0h1M301.3 191.0h1M302.2 171.8h1M310.0 167.7h1M303.2 187.0h1M306.7 189.7h1M303.8 181.2h1M306.1 189.8h1M304.2 192.5h1M303.4 190.2h1M305.7 175.0h1M298.4 186.3h1M301.2 178.2h1M310.8 189.5h1M305.6 184.6h1M297.2 184.2h1M303.4 169.7h1M303.5 190.1h1M308.5 189.7h1M305.0 150.8h1M303.6 187.5h1M307.9 178.6h1M308.1 190.7h1M305.4 170.1h1M309.4 189.1h1M305.0 185.1h1M300.3 191.1h1M303.1 189.4h1M310.8 190.9h1M310.6 191.1h1M300.8 164.7h1M304.4 192.2h1M305.2 181.5h1M306.9 185.2h1M299.4 178.9h1M308.6 167.4h1M307.4 156.0h1M304.3 186.2h1M310.8 191.6h1M307.3 192.8h1M304.3 148.7h1M307.6 166.4h1M301.6 168.4h1M306.9 171.6h1M302.8 191.4h1M301.8 189.4h1M302.7 172.0h1M301.4 163.2h1M307.0 192.0h1M304.5 163.4h1M303.2 177.7h1M304.1 189.2h1M305.3 183.4h1M308.0 178.3h1M309.7 180.3h1M307.3 184.7h1M302.3 192.9h1M299.9 184.6h1M302.8 179.4h1M300.5 190.4h1M310.4 189.6h1M303.6 185.7h1M307.1 186.2h1M304.4 150.6h1M306.9 175.7h1M303.6 187.2h1M302.2 191.2h1M300.3 189.7h1M305.5 192.5h1M307.5 191.1h1M302.2 191.9h1M306.9 181.6h1M308.9 187.3h1M303.5 177.2h1M303.2 184.5h1M305.8 192.8h1M304.1 187.0h1M303.3 150.3h1M305.6 179.6h1M299.0 179.9h1M302.7 190.2h1M297.0 174.1h1M304.2 170.6h1M307.3 181.1h1M308.8 181.4h1M299.7 190.1h1M308.9 176.2h1M305.4 188.9h1M305.3 190.5h1M305.1 177.5h1M307.3 189.0h1M305.1 176.9h1M305.6 191.4h1M304.9 157.5h1M306.8 187.7h1M304.7 183.4h1M303.6 184.5h1M308.0 189.1h1M306.3 190.7h1M305.5 191.8h1M301.5 189.0h1M301.5 172.6h1M304.6 184.2h1M302.1 190.3h1M308.7 192.3h1M303.2 190.8h1M303.9 176.6h1M302.0 189.6h1M306.7 191.7h1M299.5 181.5h1M306.8 171.8h1M309.7 172.6h1M305.2 178.8h1M306.4 182.2h1M306.4 181.6h1M306.6 191.5h1M303.4 189.1h1M303.2 185.8h1M300.0 192.6h1M303.9 176.2h1M305.5 179.7h1M307.6 177.7h1M299.8 190.0h1M300.4 188.2h1M303.7 190.8h1M302.9 189.7h1M305.8 176.6h1M299.1 151.6h1M305.8 188.1h1M302.4 176.4h1M309.1 191.8h1M306.5 192.3h1M303.2 158.1h1M304.8 165.7h1M302.9 191.3h1M305.5 183.8h1M302.0 176.6h1M304.6 183.2h1M305.2 192.1h1M303.5 186.6h1M302.6 178.6h1M305.3 189.7h1M303.5 176.8h1M308.3 173.9h1M302.6 158.9h1M307.5 157.7h1M303.9 185.1h1M304.0 179.8h1M305.9 161.7h1M307.5 180.4h1M307.6 188.4h1M309.8 173.9h1M307.2 185.5h1M307.7 191.7h1M306.6 150.0h1M307.5 174.0h1M305.8 191.1h1M306.0 190.7h1M305.8 183.1h1M306.0 190.5h1M303.3 174.2h1M302.4 191.3h1M306.3 189.4h1M306.6 189.1h1M304.7 175.5h1M310.4 184.7h1M300.6 152.3h1M302.9 184.9h1M303.4 176.6h1M304.8 190.2h1M303.3 151.7h1M309.6 187.6h1M308.7 189.3h1M308.6 190.9h1M306.7 190.5h1M302.8 175.2h1M303.9 186.0h1M306.7 170.6h1M307.7 192.9h1M301.8 174.3h1M299.6 153.5h1M300.7 187.9h1M308.4 189.0h1M300.2 187.1h1M302.9 186.8h1M307.1 191.5h1M306.0 186.1h1M310.8 179.9h1M309.1 189.4h1M301.5 160.2h1M308.3 176.1h1M295.8 174.7h1M305.9 179.1h1M302.7 186.8h1M305.9 182.9h1M303.6 187.7h1M306.3 168.9h1M302.3 168.5h1M306.3 156.8h1M303.8 175.3h1M302.9 192.4h1M300.8 166.5h1M301.6 187.6h1M304.0 173.1h1M306.3 189.9h1M298.7 187.6h1M305.0 187.8h1M306.5 192.7h1M305.7 192.0h1M302.8 192.1h1M304.9 184.9h1M302.9 186.3h1M307.6 188.2h1M297.5 180.0h1M307.8 163.1h1M302.8 175.8h1M302.5 181.9h1M310.8 191.5h1M299.9 183.5h1M301.9 184.4h1M299.3 178.8h1M308.3 190.0h1M303.0 151.6h1M307.3 177.5h1M310.0 192.5h1M310.0 181.4h1M300.4 185.7h1M307.1 191.7h1M299.1 172.8h1M304.1 187.3h1M305.9 172.0h1M310.2 189.8h1M310.8 185.6h1M298.3 186.8h1M303.2 190.1h1M297.9 188.3h1M302.5 190.3h1M309.6 182.7h1M300.2 191.0h1M305.0 152.2h1M309.1 172.4h1M305.0 190.4h1M308.4 174.5h1M302.8 166.6h1M300.3 190.0h1M310.5 192.7h1M298.2 163.0h1M304.9 152.7h1M297.6 182.3h1M304.5 191.0h1M301.1 185.8h1M300.8 181.0h1M304.9 185.9h1M307.6 183.6h1M303.6 192.9h1M305.3 187.6h1M303.9 189.5h1M299.8 189.2h1M303.0 181.0h1M304.8 162.5h1M306.3 176.4h1M309.1 175.0h1M303.8 188.9h1M300.1 169.3h1M305.9 155.5h1M304.5 185.4h1M306.0 172.3h1M305.6 178.3h1M307.2 179.8h1M302.2 189.3h1M309.7 190.1h1M306.7 180.5h1M307.8 188.3h1M306.2 191.8h1M306.9 190.2h1M303.5 190.4h1M308.5 184.5h1M297.0 184.3h1M308.2 155.3h1M302.9 181.3h1M305.4 191.0h1M305.6 177.3h1M306.1 148.7h1M302.5 185.8h1M306.7 187.4h1M303.8 190.9h1M302.0 167.0h1M304.7 168.4h1M304.8 176.1h1M302.2 160.1h1M308.6 186.3h1M302.5 182.5h1M306.1 178.9h1M304.3 191.0h1M297.2 187.1h1M308.4 181.4h1M300.5 178.3h1M300.9 182.6h1M310.8 186.3h1M305.7 163.4h1M306.4 172.0h1M307.8 184.5h1M305.5 184.1h1M300.6 187.4h1M310.1 183.1h1M309.1 184.6h1M303.0 187.7h1M301.7 173.0h1M307.9 189.1h1M302.8 187.1h1M307.3 161.3h1M302.5 187.7h1M304.4 170.6h1M307.6 192.7h1M309.1 190.2h1M310.4 190.9h1M307.1 189.6h1M307.3 175.8h1M305.9 176.4h1M310.8 182.6h1M300.9 159.8h1M310.8 185.6h1M308.9 190.2h1M304.9 186.7h1M298.7 191.7h1M308.7 181.2h1M306.1 191.3h1M305.3 192.7h1M303.8 191.5h1M300.6 190.7h1M306.8 178.5h1M309.0 147.6h1M299.3 185.6h1M310.8 186.6h1M305.0 145.2h1M304.5 190.4h1M303.1 190.9h1M301.9 192.2h1M309.2 183.2h1M304.6 185.5h1M304.2 172.7h1M301.9 165.3h1M303.4 181.1h1M303.3 155.7h1M307.7 167.5h1M308.5 191.0h1M302.9 190.5h1M301.4 192.9h1M308.3 171.9h1M305.9 192.9h1M301.2 172.2h1M300.9 182.0h1M307.4 176.1h1M298.2 152.5h1M309.4 158.6h1M302.9 186.9h1M303.2 188.9h1M309.7 172.8h1M301.8 170.6h1M309.9 188.0h1M304.7 174.6h1M304.7 190.8h1M309.4 167.7h1M302.4 159.7h1M305.2 191.9h1M309.9 190.9h1M302.7 174.4h1M298.7 181.5h1M301.9 185.8h1M306.2 173.5h1M304.4 191.6h1M304.7 166.3h1M306.6 185.4h1M304.6 176.0h1M302.6 179.4h1M308.1 176.4h1M307.1 189.9h1M303.5 187.0h1M302.9 160.2h1M310.8 185.8h1M301.1 182.0h1M306.9 185.1h1M300.0 167.1h1M298.6 184.7h1M309.6 191.4h1M305.0 178.2h1M303.2 192.3h1M309.0 175.5h1M304.7 191.2h1M303.0 189.3h1M302.6 171.1h1M308.6 191.8h1M305.8 168.2h1M305.7 184.9h1M304.5 184.8h1M304.0 187.5h1M299.9 157.9h1M305.7 171.1h1M306.6 191.3h1M306.5 187.7h1M308.5 190.7h1M308.3 173.0h1M303.5 189.3h1M306.9 162.2h1M303.8 180.7h1M310.4 180.0h1M304.0 183.1h1M307.1 191.7h1M302.3 161.1h1M306.7 175.2h1M300.4 189.6h1M299.2 150.5h1M306.4 159.6h1M307.6 182.5h1M309.1 186.2h1M305.9 184.7h1M306.5 184.2h1M304.7 182.5h1M308.0 174.3h1M303.4 164.8h1M304.0 187.0h1M310.8 191.0h1M302.7 181.7h1M308.1 182.7h1M304.3 188.1h1M307.1 191.3h1M305.4 188.7h1M302.2 154.5h1M302.0 178.0h1M299.9 179.9h1M310.8 182.8h1M308.1 187.2h1M301.4 180.9h1M302.4 189.4h1M310.8 146.1h1M305.4 182.5h1M305.2 190.0h1M303.4 169.4h1M304.9 178.6h1M298.3 178.3h1M305.0 192.3h1M304.8 185.8h1M307.7 182.1h1M304.5 192.9h1M299.0 181.4h1M308.5 170.4h1M307.1 190.4h1M305.2 169.8h1M310.8 189.0h1M309.4 165.4h1M302.2 148.9h1M304.7 186.2h1M304.6 169.9h1M309.1 188.9h1M308.4 190.9h1M301.9 153.1h1M309.5 179.2h1M304.8 190.7h1M304.4 187.2h1M301.0 163.1h1M304.9 190.8h1M306.8 190.9h1M300.1 190.7h1M302.0 183.9h1M301.3 186.1h1M303.2 182.8h1M306.1 185.9h1M305.1 189.5h1M305.1 170.4h1M302.6 189.4h1M308.0 186.6h1M307.0 187.7h1M305.2 178.6h1M302.7 169.6h1M301.4 159.6h1M306.1 181.0h1M305.5 191.9h1M306.1 187.8h1M308.9 185.8h1M307.5 188.2h1M297.5 189.4h1M304.4 190.8h1M304.0 161.7h1M307.7 177.1h1M303.3 192.4h1M305.8 191.3h1M307.7 190.8h1M301.2 180.2h1M308.6 187.7h1M306.4 191.6h1M304.8 183.7h1M299.9 190.6h1M303.3 178.9h1M302.0 191.8h1M305.2 189.7h1M304.8 186.4h1M305.4 177.9h1M303.7 178.6h1M307.2 189.7h1M301.0 185.7h1M307.9 190.8h1M306.7 160.2h1M308.1 184.3h1M307.2 190.2h1M303.2 171.5h1M301.7 188.5h1M310.4 184.7h1M302.6 191.0h1M303.3 178.0h1M305.2 177.5h1M297.3 192.4h1M300.9 176.7h1M305.5 187.9h1M303.5 192.3h1M300.6 187.4h1M302.4 177.5h1M301.6 188.8h1M304.7 191.8h1M305.1 176.2h1M308.0 190.8h1M301.6 166.3h1M304.7 186.8h1M303.5 178.5h1M305.9 187.3h1M305.0 166.0h1M307.8 161.9h1M304.9 173.0h1M307.8 147.7h1M301.8 179.6h1M308.9 190.2h1M303.7 183.5h1M302.1 186.9h1M305.3 183.7h1M303.1 188.8h1M303.8 183.9h1M301.7 178.8h1M304.9 190.3h1M302.5 173.9h1M304.5 177.2h1M305.7 189.3h1M301.2 159.2h1M301.9 188.5h1M304.8 186.3h1M303.5 184.4h1M299.3 175.9h1M305.8 187.2h1M308.4 188.2h1M301.6 175.8h1M309.1 190.0h1M305.6 179.2h1M310.6 178.3h1M301.8 188.9h1M301.3 192.2h1M304.5 150.5h1M305.6 183.3h1M301.0 171.8h1M297.7 189.6h1M304.2 172.4h1M306.3 175.6h1M301.9 188.9h1M305.2 184.3h1M303.4 168.4h1M298.4 166.7h1M301.9 188.1h1M306.2 145.5h1M305.8 188.7h1M306.7 159.8h1M306.7 168.2h1M302.7 164.2h1M303.1 173.7h1M305.9 186.9h1M310.1 185.5h1M309.7 186.4h1M303.0 192.7h1M303.6 186.6h1M304.7 187.0h1M305.3 174.4h1M302.6 180.3h1M309.2 190.3h1M309.8 180.7h1M305.6 188.5h1M306.9 161.8h1M310.8 189.5h1M301.4 187.9h1M302.8 192.5h1M302.9 181.0h1M309.1 183.7h1M306.6 188.2h1M306.5 186.0h1M300.5 191.4h1M305.4 189.4h1M310.8 181.5h1M304.4 172.3h1M305.6 171.4h1M304.3 184.5h1M307.9 189.6h1M306.0 180.3h1M306.1 182.7h1M298.9 186.6h1M305.5 189.1h1M303.6 174.8h1M295.6 191.8h1M308.7 184.9h1M305.0 191.7h1M305.2 191.8h1M302.7 183.8h1M307.5 188.6h1M301.3 190.6h1M301.3 187.0h1M304.8 167.3h1M306.7 187.2h1M310.8 187.7h1M301.9 188.7h1M302.3 191.9h1M308.0 191.4h1M304.1 179.1h1M302.2 187.8h1M304.4 168.8h1M303.2 152.1h1M307.8 187.2h1M303.4 178.9h1M306.1 178.8h1M301.9 189.6h1M306.1 172.7h1M299.2 186.9h1M306.6 175.8h1M307.2 151.0h1M305.4 178.1h1M303.3 184.7h1M301.6 190.1h1M307.1 177.6h1M309.1 189.1h1M303.9 180.7h1M303.6 190.6h1M302.2 182.6h1M304.8 191.1h1M300.6 191.1h1M305.5 188.2h1M303.3 180.5h1M301.4 173.3h1M303.0 185.4h1M304.0 170.0h1M300.1 187.1h1M302.8 185.3h1M310.8 179.2h1M303.9 191.5h1M304.4 157.7h1M304.5 146.5h1M304.7 168.7h1M302.5 190.5h1M306.8 192.8h1M301.6 164.3h1M299.4 177.8h1M307.2 183.1h1M306.4 163.3h1M303.4 187.6h1M307.9 192.1h1M305.5 192.0h1M303.8 190.7h1M303.9 188.5h1M303.7 162.3h1M310.8 166.5h1M308.4 172.3h1M304.8 188.7h1M310.2 175.9h1M302.4 189.6h1M310.8 182.6h1M309.0 180.7h1M306.2 177.4h1M303.6 184.9h1M305.8 190.2h1M301.6 152.3h1M304.0 169.9h1M310.2 189.3h1M303.9 189.7h1M302.0 189.8h1M307.9 183.7h1M304.1 184.0h1M310.3 175.2h1M305.9 165.9h1M303.6 187.5h1M306.7 175.9h1M303.2 183.3h1M302.3 190.8h1M308.2 183.8h1M303.2 172.9h1M306.6 187.3h1M309.9 171.2h1M307.1 179.9h1M306.4 184.4h1M302.0 189.8h1M307.9 185.5h1M310.7 189.2h1M305.1 169.9h1M300.9 180.2h1M303.6 191.3h1M305.5 167.2h1M302.4 172.9h1M302.4 185.5h1M299.7 178.5h1M307.0 191.6h1M304.4 186.1h1M303.2 189.8h1M304.9 166.8h1M303.6 190.4h1M306.2 181.8h1M306.3 183.0h1M308.4 185.5h1M298.9 192.8h1M304.9 158.4h1M305.3 174.0h1M305.8 182.0h1M317.6 198.5h1M313.0 194.5h1M312.4 195.2h1M323.2 195.7h1M318.6 204.5h1M323.4 202.9h1M313.4 196.3h1M325.4 196.4h1M325.3 206.3h1M313.5 198.1h1M311.5 202.0h1M311.6 202.0h1M318.3 199.8h1M314.6 205.8h1M322.5 207.1h1M312.3 196.6h1M311.7 200.3h1M313.6 202.0h1M316.6 189.6h1M317.7 199.4h1M326.2 201.8h1M329.2 206.8h1M317.6 202.7h1M331.1 205.9h1M321.2 199.0h1M325.7 203.5h1M316.5 193.5h1M315.5 205.0h1M318.6 195.6h1M317.6 193.0h1M322.9 201.4h1M311.9 207.2h1M313.9 197.7h1M324.1 208.6h1M313.0 199.4h1M320.4 193.4h1M317.1 193.9h1M316.7 203.2h1M314.9 190.1h1M315.1 207.8h1M318.8 192.2h1M321.1 200.4h1M317.0 206.7h1M313.9 202.2h1M315.1 195.2h1M313.4 194.5h1M327.2 196.4h1M322.4 206.0h1M330.7 205.3h1M325.8 201.0h1M315.3 202.3h1M319.9 203.8h1M315.5 201.1h1M319.0 198.8h1M320.2 198.3h1M317.4 201.2h1M319.3 198.5h1M321.8 190.5h1M323.3 205.8h1M312.3 202.3h1M321.0 201.2h1M315.8 196.6h1M325.7 203.2h1M312.3 202.9h1M320.9 198.7h1M329.3 194.7h1M312.4 207.2h1M313.5 200.3h1M330.3 204.1h1M315.4 207.0h1M312.3 197.4h1M315.3 198.2h1M316.0 208.5h1M320.2 200.2h1M318.6 204.4h1M316.6 199.8h1M312.1 201.9h1M316.5 201.6h1M316.4 199.1h1M315.5 193.9h1M311.6 204.0h1M313.0 197.9h1M311.7 196.8h1M320.2 197.4h1M326.2 192.6h1M314.1 200.8h1M315.7 192.0h1M312.8 194.7h1M317.3 199.6h1M318.3 201.4h1M318.0 196.9h1M313.5 208.0h1M325.4 205.0h1M318.0 199.6h1M319.6 204.2h1M325.8 199.3h1M318.0 203.9h1M317.1 196.5h1M330.4 198.0h1M333.0 198.6h1M312.2 210.5h1M316.1 196.9h1M324.5 199.4h1M315.7 192.4h1M327.3 205.2h1M314.6 203.6h1M315.9 196.9h1M325.3 201.7h1M322.4 204.5h1M319.6 203.7h1M319.6 192.1h1M317.1 200.5h1M320.2 198.0h1M319.3 202.1h1M316.4 190.2h1M316.9 194.6h1M321.3 196.4h1M326.7 197.2h1M321.6 199.2h1M315.0 195.7h1M312.2 190.0h1M327.3 195.2h1M316.7 196.2h1M313.9 192.9h1M314.8 204.8h1M316.7 188.5h1M319.0 192.1h1M314.0 202.6h1M317.2 197.8h1M313.7 201.9h1M319.6 207.4h1M314.4 211.0h1M319.8 209.8h1M313.8 204.0h1M312.6 200.1h1M319.6 201.8h1M329.3 200.4h1M311.7 199.6h1M317.8 198.4h1M311.5 200.8h1M323.0 205.0h1M320.8 196.0h1M311.7 204.4h1M320.0 198.4h1M330.2 198.7h1M323.9 207.7h1M325.6 200.7h1M316.6 190.9h1M327.2 196.1h1M317.8 205.7h1M312.4 205.5h1M316.6 208.3h1M325.5 194.9h1M319.9 193.6h1M326.0 194.3h1M318.8 197.3h1M319.3 197.0h1M318.0 202.7h1M317.1 186.1h1M319.6 192.5h1M325.9 195.5h1M320.9 201.7h1M312.0 194.3h1M321.2 204.8h1M314.0 195.3h1M319.2 187.9h1M314.9 201.8h1M319.6 199.7h1M340.4 193.2h1M326.6 203.1h1M315.3 196.8h1M317.0 198.8h1M320.3 202.5h1M321.7 200.3h1M330.5 207.3h1M326.5 205.5h1M313.7 191.7h1M312.1 204.6h1M320.5 199.8h1M318.0 193.9h1M316.9 206.9h1M317.6 199.4h1M312.2 200.3h1M314.0 200.6h1M326.7 204.8h1M319.1 184.7h1M317.7 192.7h1M312.8 199.0h1M316.7 202.6h1M313.9 198.0h1M319.9 198.0h1M320.7 199.8h1M323.2 205.3h1M315.3 191.8h1M320.6 204.9h1M329.7 186.7h1M311.6 197.7h1M321.1 193.4h1M314.9 212.8h1M320.3 188.2h1M311.7 207.4h1M317.0 203.0h1M312.4 191.2h1M317.0 206.0h1M322.0 196.1h1M321.5 195.5h1M313.7 199.4h1M322.6 201.4h1M314.9 183.9h1M318.8 194.7h1M318.9 194.0h1M317.6 185.5h1M319.4 200.0h1M313.8 198.0h1M312.1 198.0h1M321.1 190.9h1M312.2 205.4h1M313.6 208.8h1M323.6 198.0h1M317.0 206.6h1M326.5 196.6h1M318.0 198.2h1M320.3 198.9h1M320.7 208.4h1M316.7 206.3h1M314.7 185.6h1M318.6 200.1h1M332.6 200.1h1M320.5 209.3h1M320.6 204.1h1M314.4 198.5h1M314.0 202.6h1M316.6 203.3h1M315.1 192.0h1M323.2 207.0h1M316.5 199.3h1M318.6 189.4h1M313.9 195.5h1M329.6 199.6h1M313.4 197.1h1M313.1 189.2h1M322.9 191.1h1M319.5 199.0h1M321.7 187.8h1M316.8 207.9h1M318.5 188.8h1M318.1 197.5h1M311.6 207.0h1M323.3 208.4h1M316.6 196.6h1M315.9 191.0h1M322.8 206.7h1M312.3 194.4h1M317.5 202.3h1M312.9 192.8h1M313.6 196.3h1M318.0 202.9h1M315.4 197.1h1M325.0 204.0h1M322.7 204.3h1M317.4 201.8h1M321.0 189.1h1M319.8 203.0h1M319.6 200.6h1M312.3 210.1h1M315.0 189.3h1M325.2 197.7h1M317.7 203.7h1M313.5 204.2h1M311.9 195.3h1M314.8 203.9h1M319.9 193.0h1M320.2 200.2h1M330.3 192.8h1M322.6 201.9h1M316.0 196.0h1M311.7 202.3h1M326.9 199.4h1M316.8 204.8h1M321.8 199.1h1M324.2 207.2h1M318.3 195.8h1M320.6 205.5h1M312.7 185.9h1M315.6 195.2h1M318.9 199.0h1M321.0 201.7h1M328.2 192.7h1M320.7 196.4h1M316.3 198.8h1M322.8 195.4h1M318.0 195.0h1M313.5 199.4h1M321.1 190.4h1M323.4 207.5h1M314.9 209.3h1M320.6 200.7h1M316.8 209.7h1M312.0 196.9h1M317.8 198.9h1M318.1 203.9h1M328.3 193.7h1M323.5 196.6h1M314.3 201.6h1M321.4 202.5h1M320.0 196.2h1M320.7 198.8h1M317.1 204.5h1M321.6 212.0h1M321.0 195.4h1M317.6 201.5h1M315.7 205.9h1M335.1 205.0h1M317.2 197.9h1M316.5 200.7h1M320.4 208.1h1M316.6 196.7h1M313.3 193.1h1M322.3 197.8h1M314.7 200.1h1M318.3 191.5h1M326.2 208.7h1M314.7 194.9h1M321.9 202.6h1M315.1 196.0h1M321.5 201.4h1M325.9 201.6h1M316.6 196.1h1M317.7 201.0h1M313.7 203.0h1M315.5 193.5h1M313.3 194.1h1M315.7 191.9h1M316.6 194.6h1M316.9 198.0h1M324.8 198.0h1M324.1 197.8h1M318.1 202.7h1M313.6 211.0h1M321.2 200.0h1M322.2 191.8h1M313.0 194.5h1M313.1 208.8h1M315.8 208.7h1M320.4 207.7h1M326.3 194.6h1M320.2 199.0h1M312.8 199.4h1M313.1 198.5h1M320.1 197.8h1M312.5 194.3h1M315.6 209.6h1M325.9 196.4h1M314.0 199.6h1M312.3 195.3h1M311.8 199.5h1M312.3 208.4h1M312.6 191.0h1M325.2 202.9h1M314.5 195.9h1M323.4 197.7h1M312.3 195.6h1M314.6 204.6h1M318.4 202.6h1M313.0 191.7h1M318.3 208.1h1M322.7 206.2h1M313.9 201.7h1M311.6 206.7h1M313.8 211.9h1M318.3 197.7h1M311.5 190.2h1M317.9 197.8h1M332.9 194.8h1M319.5 199.9h1M314.1 203.1h1M328.9 204.9h1M328.4 201.2h1M312.0 200.4h1M317.3 196.7h1M312.6 202.4h1M314.6 201.7h1M314.4 203.6h1M320.1 196.4h1M315.2 206.4h1M313.7 190.0h1M322.7 210.7h1M314.5 192.1h1M319.5 200.3h1M324.0 208.8h1M314.7 197.8h1M328.3 193.8h1M325.2 201.5h1M312.3 206.9h1M315.7 194.7h1M324.8 199.6h1M316.0 207.4h1M334.3 207.2h1M316.9 208.2h1M318.5 200.7h1M315.3 201.8h1M317.0 198.8h1M312.6 196.9h1M324.3 191.2h1M315.9 202.5h1M312.4 192.8h1M318.9 197.2h1M329.6 208.5h1M324.5 212.5h1M316.2 197.0h1M332.0 195.4h1M324.4 207.3h1M313.8 189.6h1M314.8 197.9h1M315.5 198.8h1M314.5 190.1h1M317.1 207.8h1M324.2 204.8h1M331.7 203.3h1M323.6 206.7h1M327.7 201.4h1M315.1 206.6h1M321.8 200.6h1M327.2 205.2h1M315.7 193.8h1M333.0 197.2h1M315.1 198.8h1M315.6 190.2h1M312.8 198.8h1M320.1 196.5h1M325.2 193.3h1M311.8 200.9h1M317.8 197.3h1M316.2 200.3h1M326.3 199.2h1M312.8 202.8h1M322.2 194.2h1M315.6 197.9h1M330.1 207.0h1M320.9 199.6h1M340.9 206.8h1M329.2 208.6h1M319.4 191.3h1M324.9 201.9h1M322.0 199.8h1M318.1 205.2h1M313.0 196.5h1M318.2 195.1h1M312.2 203.9h1M324.1 201.7h1M328.6 194.1h1M322.3 199.0h1M317.8 199.2h1M319.5 200.1h1M313.3 202.3h1M313.6 200.3h1M320.6 196.2h1M321.6 193.1h1M313.4 189.5h1M316.1 208.7h1M314.6 206.8h1M324.3 193.7h1M315.6 204.3h1M318.8 189.8h1M316.0 199.1h1M312.6 202.3h1M313.9 189.7h1M320.8 191.1h1M323.0 198.7h1M322.9 195.4h1M318.2 192.9h1M326.6 199.9h1M315.7 198.1h1M319.9 202.3h1M322.0 202.7h1M317.3 204.1h1M319.3 202.1h1M315.4 199.0h1M325.8 200.5h1M319.3 203.5h1M318.7 196.4h1M311.6 200.6h1M326.4 189.4h1M313.8 206.0h1M312.9 201.4h1M324.9 192.4h1M311.9 204.1h1M316.6 189.4h1M320.2 200.6h1M313.2 210.2h1M323.1 190.5h1M320.6 204.8h1M325.7 198.6h1M316.4 200.4h1M325.1 203.1h1M326.4 204.1h1M316.7 193.6h1M327.7 190.7h1M314.6 197.7h1M319.5 196.2h1M312.1 196.5h1M312.6 204.9h1M318.7 197.1h1M326.8 203.6h1M317.5 208.2h1M322.0 212.1h1M319.2 197.9h1M314.9 197.7h1M322.1 204.0h1M316.8 195.3h1M316.0 200.2h1M316.6 198.1h1M315.8 207.3h1M320.3 195.3h1M311.9 207.5h1M314.0 209.8h1M315.4 203.4h1M329.7 204.4h1M314.5 202.9h1M315.7 202.6h1M316.0 204.7h1M312.1 193.4h1M320.4 200.4h1M314.4 186.7h1M329.6 205.6h1M325.0 198.1h1M316.8 202.7h1M323.9 208.9h1M320.4 206.7h1M322.2 201.3h1M313.0 203.1h1M318.5 207.3h1M312.1 199.4h1M313.8 193.3h1M317.8 201.5h1M315.5 210.3h1M319.1 197.8h1M311.6 204.5h1M313.1 204.9h1M315.5 189.3h1M317.5 187.7h1M314.0 197.1h1M316.7 200.5h1M312.1 206.8h1M316.7 192.3h1M317.6 201.4h1M326.5 198.3h1M313.0 201.0h1M318.4 199.0h1M314.1 197.0h1M316.3 194.9h1M317.3 196.3h1M316.3 201.9h1M320.1 183.9h1M320.0 192.4h1M312.9 204.2h1M333.8 208.5h1M323.4 201.7h1M314.9 202.6h1M330.6 204.9h1M311.6 203.1h1M320.5 193.1h1M317.2 199.2h1M314.6 197.4h1M314.6 203.5h1M321.7 198.9h1M325.2 196.3h1M319.5 195.3h1M327.9 202.4h1M319.3 200.1h1M319.1 205.9h1M312.4 196.4h1M316.3 210.8h1M313.1 196.8h1M317.7 189.7h1M315.9 201.4h1M315.8 195.1h1M315.1 202.2h1M315.3 201.3h1M320.1 204.5h1M320.2 197.5h1M312.7 197.1h1M321.6 211.7h1M324.8 189.3h1M312.6 192.1h1M314.2 191.9h1M316.6 202.6h1M326.5 206.5h1M315.5 205.0h1M315.5 198.8h1M315.9 189.2h1M316.8 187.6h1M313.6 202.6h1M312.5 190.3h1M317.2 203.5h1M321.2 208.8h1M327.5 202.2h1M315.7 204.0h1M326.3 198.7h1M317.7 195.7h1M314.7 193.8h1M321.3 191.7h1M319.5 197.6h1M314.3 211.8h1M313.9 194.6h1M316.6 201.5h1M314.0 199.1h1M315.6 192.7h1M322.1 197.0h1M321.2 203.6h1M328.6 206.7h1M315.4 201.5h1M317.5 191.9h1M316.3 190.9h1M314.2 198.7h1M318.1 199.8h1M312.4 196.1h1M326.6 197.5h1M317.6 205.6h1M323.6 193.7h1M319.7 203.6h1M314.3 190.6h1M316.4 208.7h1M327.5 200.4h1M323.7 208.9h1M315.4 193.5h1M326.5 195.3h1M334.0 196.7h1M330.7 200.1h1M313.8 192.7h1M314.5 196.7h1M319.0 207.6h1M315.4 194.3h1M324.5 199.2h1M315.9 200.4h1M321.9 203.1h1M314.6 203.7h1M314.9 200.3h1M325.9 193.3h1M320.6 197.2h1M315.9 207.1h1M325.5 212.9h1M325.4 196.9h1M313.1 197.4h1M317.4 203.4h1M318.1 204.0h1M328.5 198.5h1M317.7 198.4h1M311.8 200.8h1M312.0 201.5h1M319.0 198.6h1M316.8 192.7h1M317.7 196.6h1M312.8 190.4h1M313.8 192.9h1M318.7 200.6h1M321.3 201.2h1M315.8 196.9h1M323.3 190.0h1M321.5 190.7h1M317.1 199.8h1M313.4 209.2h1M315.9 199.2h1M319.9 199.7h1M318.6 206.1h1M324.7 207.0h1M321.8 210.7h1M315.2 204.0h1M325.7 193.5h1M321.9 202.4h1M314.2 182.4h1M315.4 198.4h1M333.5 196.2h1M311.5 200.9h1M318.1 197.9h1M319.4 197.4h1M330.0 193.0h1M328.9 195.5h1M312.2 210.6h1M320.8 200.2h1M318.0 197.9h1M319.5 205.4h1M312.7 208.9h1M313.8 197.3h1M314.5 198.4h1M314.2 194.3h1M313.7 201.4h1M327.6 199.3h1M327.0 202.2h1M331.7 196.9h1M318.6 198.5h1M336.7 197.5h1M313.2 190.6h1M316.6 194.4h1M327.8 195.3h1M317.1 210.8h1M322.5 200.6h1M316.0 198.0h1M320.0 196.5h1M315.2 205.2h1M319.5 196.0h1M315.5 199.5h1M312.6 196.4h1M312.1 210.4h1M323.5 190.0h1M311.9 200.0h1M311.8 191.4h1M312.6 200.4h1M317.5 201.3h1M333.0 190.7h1M312.4 201.8h1M313.0 196.8h1M313.1 205.9h1M319.4 199.0h1M315.6 205.7h1M316.3 204.7h1M313.9 194.4h1M313.2 195.8h1M321.7 204.5h1M330.8 203.4h1M323.3 205.6h1M315.7 194.4h1M320.1 205.5h1M312.0 192.7h1M325.0 201.1h1M318.8 195.5h1M315.4 205.7h1M329.7 195.6h1M323.0 199.3h1M314.5 203.3h1M321.6 192.3h1M311.7 208.7h1M320.5 199.5h1M320.4 197.1h1M321.9 189.7h1M313.9 204.8h1M314.8 199.3h1M315.0 205.9h1M311.9 191.0h1M323.6 195.7h1M315.0 199.5h1M320.8 201.0h1M322.3 200.7h1M315.6 196.5h1M317.3 194.6h1M319.7 198.1h1M319.7 194.4h1M312.8 209.9h1M318.3 199.6h1M319.5 210.7h1M314.0 199.5h1M315.2 207.3h1M313.1 196.8h1M313.1 193.6h1M320.8 198.6h1M336.9 206.4h1M329.1 193.0h1M312.8 190.2h1M313.0 200.7h1M318.0 191.7h1M316.8 195.7h1M313.7 212.9h1M313.3 199.3h1M316.0 204.2h1M334.2 206.3h1M325.0 193.2h1M320.9 199.7h1M322.6 205.7h1M317.3 189.6h1M312.7 196.6h1M315.5 199.7h1M320.8 190.1h1M318.0 199.1h1M314.3 197.1h1M311.8 199.8h1M320.8 198.8h1M313.6 188.8h1M334.7 190.9h1M314.7 185.9h1M315.1 198.9h1M311.5 195.2h1M315.2 204.4h1M314.7 199.3h1M315.8 200.7h1M322.0 199.4h1M314.7 192.6h1M312.4 194.1h1M324.2 204.6h1M317.0 187.5h1M317.9 210.4h1M312.4 191.7h1M321.3 203.7h1M315.1 200.8h1M313.2 202.4h1M325.1 202.4h1M313.0 191.3h1M315.4 208.7h1M317.2 192.1h1M313.1 207.2h1M317.1 202.4h1M322.2 209.1h1M325.6 189.2h1M314.8 203.6h1M314.6 199.4h1M315.1 206.6h1M331.1 201.0h1M322.8 195.5h1M325.1 194.1h1M311.7 199.7h1M327.3 198.2h1M314.6 201.6h1M313.8 208.2h1M312.7 200.4h1M312.5 199.5h1M312.0 205.4h1M311.7 199.9h1M311.9 204.0h1M315.7 205.0h1M316.6 203.6h1M328.5 200.9h1M312.3 192.5h1M318.1 199.6h1M319.6 195.6h1M316.1 210.2h1M315.1 197.6h1M323.1 199.4h1M317.3 203.0h1M321.4 193.4h1M320.2 193.5h1M313.9 201.1h1M328.6 200.7h1M324.4 189.7h1M325.2 204.2h1M315.4 204.4h1M317.0 210.8h1M318.7 189.2h1M327.0 209.0h1M312.2 207.3h1M314.5 195.6h1M314.5 201.4h1M313.2 195.8h1M316.3 203.2h1M319.7 192.9h1M328.9 197.7h1M311.6 195.4h1M316.9 198.7h1M311.8 202.9h1M318.9 202.1h1M321.4 193.8h1M316.9 201.7h1M320.8 195.5h1M315.4 199.9h1M322.7 196.2h1M325.1 204.5h1M312.2 207.5h1M319.6 198.5h1M320.0 197.5h1M321.4 203.0h1M325.7 184.5h1M312.9 192.1h1M314.2 191.1h1M334.6 195.5h1M311.9 195.3h1M320.3 196.8h1M313.3 209.9h1M314.1 208.8h1M321.0 199.9h1M315.4 190.2h1M344.7 198.1h1M313.7 195.0h1M316.6 193.4h1M320.6 197.1h1M312.8 200.6h1M322.4 200.9h1M313.0 202.1h1M314.9 199.7h1M316.1 205.2h1M317.6 205.3h1M320.3 198.4h1M312.7 200.4h1M333.7 193.7h1M313.1 205.0h1M317.8 208.5h1M327.5 200.0h1M316.3 199.6h1M313.8 205.0h1M318.7 203.0h1M321.0 198.1h1M332.1 192.4h1M319.1 193.2h1M315.3 194.7h1M333.6 202.9h1M323.1 197.8h1M325.1 203.5h1M320.6 205.6h1M315.7 212.6h1M316.4 203.0h1M316.5 196.9h1M312.9 206.4h1M315.9 199.1h1M315.5 209.9h1M319.8 202.3h1M314.4 190.2h1M312.7 196.6h1M318.0 195.9h1M315.5 193.3h1M319.5 195.2h1M311.8 202.9h1M314.4 199.5h1M320.9 210.0h1M327.6 194.1h1M317.5 205.1h1M315.7 200.1h1M313.2 213.0h1M313.3 192.4h1M325.3 191.9h1M323.1 197.2h1M328.8 203.3h1M314.9 203.3h1M318.5 205.0h1M320.2 196.2h1M316.4 200.1h1M313.7 192.2h1M317.7 210.1h1M330.4 194.4h1M314.9 199.3h1M319.0 203.7h1M312.1 209.4h1M315.6 197.7h1M335.0 198.9h1M319.0 195.3h1M319.4 203.5h1M327.2 198.3h1M314.4 204.0h1M312.9 199.4h1M314.6 197.8h1M311.5 193.2h1M317.2 197.6h1M316.1 196.5h1M315.2 200.3h1M319.4 202.2h1M319.8 198.5h1M312.0 198.0h1M322.7 198.8h1M321.2 204.1h1M319.1 201.3h1M318.2 191.4h1M314.6 201.5h1M318.2 201.0h1M327.0 187.6h1M329.1 197.2h1M322.8 207.0h1M312.3 192.7h1M323.7 199.3h1M316.1 202.3h1M320.0 205.5h1M324.1 191.2h1M312.8 199.6h1M318.4 198.7h1M313.1 211.5h1M323.7 206.4h1M320.7 194.8h1M312.3 199.1h1M321.2 194.4h1M312.9 192.3h1M316.3 202.3h1M313.6 197.5h1M316.9 202.3h1M314.8 192.3h1M325.9 211.6h1M317.3 197.3h1M327.7 194.8h1M318.0 204.2h1M335.0 191.2h1M315.2 196.6h1M318.4 196.9h1M325.5 201.1h1M322.1 200.4h1M316.3 207.0h1M315.8 193.4h1M316.6 195.9h1M311.9 206.7h1M317.8 198.6h1M312.5 192.5h1M315.7 203.1h1M321.6 188.4h1M317.8 197.8h1M323.0 203.2h1M329.0 201.3h1M315.0 194.6h1M324.2 202.8h1M316.1 204.3h1M314.6 190.7h1M315.6 183.3h1M314.1 182.6h1M324.6 174.2h1M314.5 148.3h1M331.0 177.5h1M318.8 176.1h1M314.0 145.6h1M321.9 177.0h1M320.4 183.7h1M312.1 172.3h1M322.2 147.7h1M312.6 165.4h1M313.9 168.9h1M313.2 173.4h1M318.1 186.5h1M320.7 178.0h1M318.2 186.3h1M322.5 185.0h1M321.3 184.3h1M318.4 168.6h1M328.0 171.5h1M320.2 162.3h1M320.6 162.1h1M317.3 180.7h1M323.2 168.7h1M326.2 186.9h1M316.5 172.6h1M315.0 174.1h1M315.0 184.0h1M314.5 177.7h1M316.5 186.3h1M319.2 151.7h1M322.8 165.1h1M328.1 175.3h1M320.3 145.7h1M315.7 168.7h1M312.2 184.1h1M323.1 152.1h1M313.1 176.8h1M318.1 168.4h1M323.8 177.8h1M313.5 168.2h1M321.3 183.1h1M317.7 170.9h1M320.7 186.0h1M315.2 182.3h1M335.8 164.8h1M313.3 177.0h1M315.6 156.5h1M312.5 168.8h1M314.8 172.5h1M325.2 175.9h1M313.5 184.0h1M313.6 181.4h1M316.5 158.4h1M321.8 168.4h1M316.5 176.8h1M320.5 186.7h1M319.6 180.5h1M340.8 151.2h1M319.3 171.1h1M321.6 182.0h1M326.8 162.5h1M319.1 166.7h1M322.0 182.3h1M317.7 165.8h1M321.7 159.5h1M312.3 180.3h1M321.3 185.8h1M321.7 176.9h1M321.6 175.2h1M314.5 180.4h1M314.3 169.6h1M322.3 182.5h1M314.3 183.2h1M315.9 145.4h1M319.2 152.2h1M319.1 176.2h1M313.3 185.3h1M314.2 176.6h1M312.7 182.2h1M320.5 146.8h1M328.4 157.9h1M317.6 185.9h1M324.4 179.6h1M315.9 178.7h1M320.6 156.6h1M318.9 153.2h1M312.6 164.4h1M313.1 171.4h1M314.0 185.8h1M314.9 152.7h1M319.7 183.7h1M314.1 174.6h1M314.4 166.9h1M324.7 160.8h1M317.5 168.1h1M333.1 175.1h1M319.3 172.1h1M326.6 170.4h1M315.6 181.1h1M319.4 157.6h1M319.3 186.1h1M319.4 185.8h1M317.6 158.0h1M318.9 175.6h1M318.6 177.8h1M313.9 177.2h1M322.8 184.7h1M318.5 163.0h1M320.5 178.5h1M331.6 184.8h1M319.6 154.6h1M324.5 184.6h1M315.7 182.5h1M325.3 178.4h1M319.1 178.9h1M320.9 182.1h1M313.8 175.1h1M316.5 180.5h1M312.5 170.1h1M314.5 180.2h1M318.8 178.5h1M315.4 181.3h1M319.1 170.4h1M313.5 179.0h1M313.9 177.9h1M319.2 174.8h1M314.6 178.6h1M324.8 185.7h1M315.9 184.0h1M315.3 184.0h1M316.3 151.2h1M319.0 183.0h1M312.2 184.7h1M317.7 169.8h1M318.0 162.1h1M315.2 170.1h1M323.1 171.0h1M317.3 178.3h1M316.7 180.0h1M314.5 164.7h1M315.0 157.0h1M318.1 176.2h1M318.2 182.6h1M313.2 169.6h1M316.6 176.3h1M334.2 155.9h1M313.1 184.9h1M320.7 172.5h1M320.9 178.4h1M316.5 175.1h1M314.3 182.2h1M325.1 174.2h1M324.6 155.7h1M315.2 182.1h1M323.4 160.4h1M315.3 174.9h1M324.6 181.1h1M321.1 175.9h1M317.0 161.4h1M313.7 181.5h1M317.5 162.7h1M313.4 186.5h1M324.7 185.7h1M314.7 185.2h1M322.2 177.4h1M320.3 174.8h1M315.3 178.8h1M314.7 154.8h1M312.1 174.0h1M316.2 183.9h1M318.0 146.3h1M316.7 173.1h1M319.4 174.9h1M312.7 167.1h1M314.2 184.3h1M313.5 186.7h1M312.7 184.3h1M322.2 170.8h1M312.2 176.9h1M313.7 160.0h1M314.1 177.3h1M313.9 185.8h1M321.0 174.0h1M314.7 184.1h1M325.7 169.4h1M321.6 181.7h1M315.7 153.3h1M320.3 160.8h1M313.0 182.5h1M324.1 151.2h1M333.6 180.8h1M316.3 161.1h1M319.4 162.7h1M327.5 177.9h1M324.7 171.1h1M321.8 175.4h1M313.6 186.8h1M313.6 177.6h1M326.2 185.6h1M321.9 154.9h1M312.8 166.0h1M316.8 170.0h1M322.2 174.9h1" stroke="#000" stroke-width="1" opacity="0.95"/>
<ellipse cx="302.5" cy="197.5" rx="7" ry="10.5" fill="url(#core)" transform="rotate(20 302.5 197.5)"/>
<line x1="311.5" y1="143.8" x2="311.5" y2="214" stroke="#000" stroke-width="1.1"/>
<line x1="279.8" y1="186.5" x2="347.3" y2="186.5" stroke="#000" stroke-width="1.1"/>
<rect x="279.8" y="143.8" width="67.5" height="70.19999999999999" fill="none" stroke="#000" stroke-width="1.3"/>
<line x1="278.2" y1="147.31" x2="279.8" y2="147.31" stroke="#000" stroke-width="0.8"/>
<line x1="283.175" y1="214" x2="283.175" y2="215.6" stroke="#000" stroke-width="0.8"/>
<line x1="278.2" y1="152.22400000000002" x2="279.8" y2="152.22400000000002" stroke="#000" stroke-width="0.8"/>
<line x1="287.90000000000003" y1="214" x2="287.90000000000003" y2="215.6" stroke="#000" stroke-width="0.8"/>
<line x1="278.2" y1="157.84" x2="279.8" y2="157.84" stroke="#000" stroke-width="0.8"/>
<line x1="293.3" y1="214" x2="293.3" y2="215.6" stroke="#000" stroke-width="0.8"/>
<line x1="278.2" y1="164.86" x2="279.8" y2="164.86" stroke="#000" stroke-width="0.8"/>
<line x1="300.05" y1="214" x2="300.05" y2="215.6" stroke="#000" stroke-width="0.8"/>
<line x1="278.2" y1="170.476" x2="279.8" y2="170.476" stroke="#000" stroke-width="0.8"/>
<line x1="305.45" y1="214" x2="305.45" y2="215.6" stroke="#000" stroke-width="0.8"/>
<line x1="278.2" y1="177.496" x2="279.8" y2="177.496" stroke="#000" stroke-width="0.8"/>
<line x1="312.2" y1="214" x2="312.2" y2="215.6" stroke="#000" stroke-width="0.8"/>
<line x1="278.2" y1="182.41000000000003" x2="279.8" y2="182.41000000000003" stroke="#000" stroke-width="0.8"/>
<line x1="316.925" y1="214" x2="316.925" y2="215.6" stroke="#000" stroke-width="0.8"/>
<line x1="278.2" y1="187.324" x2="279.8" y2="187.324" stroke="#000" stroke-width="0.8"/>
<line x1="321.65000000000003" y1="214" x2="321.65000000000003" y2="215.6" stroke="#000" stroke-width="0.8"/>
<line x1="278.2" y1="192.94" x2="279.8" y2="192.94" stroke="#000" stroke-width="0.8"/>
<line x1="327.05" y1="214" x2="327.05" y2="215.6" stroke="#000" stroke-width="0.8"/>
<line x1="278.2" y1="199.96" x2="279.8" y2="199.96" stroke="#000" stroke-width="0.8"/>
<line x1="333.8" y1="214" x2="333.8" y2="215.6" stroke="#000" stroke-width="0.8"/>
<line x1="278.2" y1="205.576" x2="279.8" y2="205.576" stroke="#000" stroke-width="0.8"/>
<line x1="339.2" y1="214" x2="339.2" y2="215.6" stroke="#000" stroke-width="0.8"/>
<line x1="278.2" y1="210.49" x2="279.8" y2="210.49" stroke="#000" stroke-width="0.8"/>
<line x1="343.925" y1="214" x2="343.925" y2="215.6" stroke="#000" stroke-width="0.8"/>
<text x="283.7" y="152.9" font-size="8.3" text-anchor="start" font-weight="bold" stroke="#fff" stroke-width="1.6" paint-order="stroke">9.42</text>
<text x="347.1" y="212.8" font-size="8.3" text-anchor="end" font-weight="bold" stroke="#fff" stroke-width="1.6" paint-order="stroke">6.32</text>
<text x="317.5" y="141" font-size="10.0" text-anchor="middle">medium</text>
<rect x="365.8" y="143.8" width="68.09999999999997" height="70.0" fill="#fff"/>
<path d="M383.3 198.6h1M384.5 200.5h1M388.6 196.3h1M385.4 186.1h1M389.9 191.5h1M388.1 201.2h1M394.7 203.1h1M396.8 190.8h1M392.9 208.1h1M391.5 192.6h1M391.5 196.0h1M386.4 205.2h1M388.7 192.5h1M386.3 210.4h1M385.4 202.9h1M390.4 205.8h1M388.2 193.5h1M386.4 193.0h1M402.3 200.1h1M388.0 206.3h1M392.8 198.0h1M392.6 200.6h1M395.1 208.6h1M388.0 198.8h1M388.7 206.1h1M391.5 203.6h1M394.0 195.3h1M390.2 207.1h1M394.1 203.7h1M388.2 196.9h1M385.4 197.4h1M389.3 190.7h1M395.3 194.6h1M390.8 202.5h1M386.9 188.5h1M394.3 201.4h1M388.3 205.6h1M394.0 193.5h1M389.2 188.8h1M388.3 207.2h1M385.5 203.8h1M382.2 197.3h1M394.2 209.0h1M391.8 203.4h1M398.0 184.9h1M381.2 210.0h1M401.6 202.5h1M389.9 200.5h1M389.7 195.5h1M389.5 198.3h1M392.8 203.0h1M394.4 202.4h1M384.9 207.1h1M376.6 199.7h1M391.2 195.9h1M398.7 192.7h1M383.9 196.1h1M391.6 203.6h1M390.1 202.9h1M386.2 195.5h1M390.2 191.2h1M390.5 196.7h1M392.9 193.1h1M387.0 195.7h1M387.8 193.2h1M388.3 191.2h1M392.2 202.9h1M389.5 197.9h1M385.3 193.4h1M388.5 193.8h1M383.9 200.0h1M389.5 196.7h1M385.6 198.7h1M386.2 196.5h1M390.5 203.2h1M393.3 195.5h1M395.4 192.3h1M388.7 206.6h1M401.1 199.8h1M387.8 196.9h1M383.7 198.2h1M387.5 194.6h1M395.4 194.5h1M397.8 203.9h1M392.7 195.6h1M387.1 187.4h1M390.9 197.5h1M391.5 195.1h1M391.9 190.3h1M379.0 201.8h1M394.8 180.8h1M395.8 197.0h1M388.8 190.1h1M384.7 203.1h1M386.0 198.8h1M388.8 210.5h1M393.9 191.4h1M387.3 192.4h1M382.9 195.1h1M394.9 199.3h1M392.8 198.2h1M387.5 199.5h1M389.2 210.2h1M398.3 201.2h1M392.5 187.5h1M385.7 203.7h1M395.5 196.7h1M388.5 196.4h1M393.4 199.1h1M396.8 205.9h1M388.1 195.5h1M388.4 193.9h1M387.5 198.6h1M393.9 189.8h1M382.8 194.5h1M388.1 201.6h1M385.8 207.8h1M387.0 197.8h1M389.8 205.8h1M391.0 199.2h1M387.0 200.0h1M391.5 197.0h1M389.5 188.3h1M387.0 205.9h1M396.4 198.6h1M379.1 209.7h1M387.6 204.8h1M386.6 207.0h1M395.1 192.8h1M388.5 192.0h1M390.9 196.7h1M382.3 192.9h1M390.7 190.2h1M394.8 201.6h1M388.7 207.2h1M385.1 203.0h1M383.0 197.1h1M392.6 195.9h1M389.0 202.8h1M396.9 206.6h1M391.8 197.5h1M382.6 209.0h1M398.6 186.5h1M393.7 198.8h1M393.0 200.8h1M388.6 199.0h1M389.4 205.8h1M388.3 195.8h1M392.7 202.8h1M391.6 200.7h1M396.6 205.5h1M390.6 197.8h1M392.7 188.1h1M387.0 194.9h1M390.4 196.8h1M401.4 203.3h1M391.5 212.1h1M389.5 197.1h1M395.5 203.8h1M394.0 206.1h1M387.8 195.2h1M386.1 199.6h1M394.4 192.9h1M387.0 191.2h1M399.2 203.7h1M390.6 191.9h1M384.6 195.2h1M389.7 191.6h1M388.5 206.1h1M389.6 199.6h1M379.5 197.4h1M388.8 195.0h1M382.9 198.6h1M384.6 195.8h1M381.9 198.5h1M393.9 194.1h1M391.1 190.1h1M392.3 202.2h1M387.7 204.2h1M385.3 199.3h1M397.6 198.9h1M384.1 205.7h1M392.1 197.4h1M380.8 188.0h1M382.2 207.7h1M391.0 194.0h1M395.1 207.6h1M385.5 201.8h1M381.6 201.2h1M398.3 190.7h1M389.8 195.3h1M389.1 199.5h1M390.9 204.2h1M392.0 205.1h1M394.4 205.4h1M386.3 201.4h1M387.8 194.1h1M398.9 200.7h1M389.8 186.7h1M388.4 203.5h1M388.6 195.8h1M396.6 197.2h1M387.9 198.4h1M388.4 205.2h1M392.3 198.6h1M387.8 197.7h1M397.7 197.2h1M392.7 189.8h1M391.1 203.0h1M395.6 200.9h1M392.3 200.9h1M394.7 211.0h1M390.5 194.2h1M392.4 198.4h1M392.6 203.5h1M390.3 196.4h1M391.0 191.7h1M390.9 193.8h1M391.7 199.7h1M388.5 192.0h1M389.8 195.0h1M388.9 203.1h1M394.1 191.5h1M394.0 207.0h1M394.9 200.6h1M389.1 209.2h1M388.0 190.1h1M390.0 200.7h1M384.6 191.9h1M399.0 199.7h1M393.3 195.6h1M382.3 198.0h1M396.0 195.1h1M381.0 198.0h1M388.2 199.1h1M384.6 197.2h1M386.9 204.2h1M390.3 204.1h1M389.3 186.5h1M380.2 202.1h1M393.7 204.1h1M389.2 188.5h1M387.2 201.4h1M396.1 197.0h1M386.9 194.5h1M394.4 204.1h1M380.8 206.1h1M385.1 190.4h1M381.9 194.7h1M383.6 195.1h1M390.3 201.4h1M387.3 189.7h1M387.6 195.0h1M381.0 199.8h1M382.5 188.8h1M396.8 204.5h1M396.5 199.7h1M387.6 198.5h1M383.0 203.3h1M390.8 197.2h1M380.6 198.4h1M397.3 207.5h1M393.7 196.9h1M390.2 202.3h1M390.5 205.1h1M386.4 185.4h1M378.0 193.7h1M382.9 202.9h1M394.7 199.0h1M392.1 199.5h1M390.4 196.2h1M387.6 206.0h1M388.3 198.8h1M395.3 204.8h1M387.7 200.5h1M384.7 199.8h1M391.1 199.0h1M390.3 201.1h1M377.4 194.2h1M389.9 196.1h1M384.9 197.6h1M397.3 197.7h1M386.4 196.2h1M383.9 201.8h1M384.8 204.3h1M393.9 202.4h1M394.5 198.5h1M381.1 198.6h1M392.6 189.9h1M383.7 205.4h1M391.7 206.9h1M392.8 199.4h1M391.6 204.0h1M389.4 197.8h1M391.1 197.2h1M401.1 194.5h1M382.3 191.4h1M394.6 196.6h1M390.3 197.7h1M390.9 190.5h1M390.0 195.6h1M394.8 202.7h1M383.5 193.3h1M392.3 206.0h1M393.2 198.1h1M394.9 185.2h1M387.0 193.3h1M384.6 202.3h1M390.9 200.7h1M388.9 202.6h1M393.3 195.6h1M394.1 193.6h1M398.0 191.4h1M388.2 192.6h1M389.8 206.7h1M386.0 209.4h1M396.4 201.3h1M386.7 204.3h1M375.8 194.5h1M394.2 198.8h1M401.5 195.0h1M383.1 197.7h1M392.4 209.0h1M381.1 199.9h1M395.7 195.0h1M387.4 191.9h1M393.3 203.9h1M392.4 200.4h1M394.4 198.3h1M393.0 203.8h1M395.9 202.0h1M390.0 203.2h1M382.1 188.6h1M397.4 199.8h1M384.5 195.6h1M388.8 199.4h1M385.9 204.9h1M384.3 208.8h1M392.8 189.1h1M383.6 199.4h1M390.9 196.5h1M389.6 200.0h1M384.0 199.4h1M400.6 195.2h1M384.6 202.9h1M396.1 205.2h1M386.5 198.6h1M390.6 197.8h1M391.5 205.4h1M392.2 198.9h1M388.6 209.6h1M383.6 210.8h1M393.2 199.5h1M385.9 209.8h1M395.5 204.4h1M399.7 188.4h1M390.1 197.2h1M386.0 199.4h1M392.2 202.1h1M388.9 191.2h1M392.3 202.6h1M399.9 204.5h1M389.6 192.2h1M402.9 195.0h1M390.5 203.4h1M392.0 206.9h1M384.5 194.9h1M390.4 191.7h1M386.6 207.2h1M391.0 198.4h1M386.8 199.3h1M389.4 192.6h1M393.4 191.4h1M395.9 197.0h1M378.3 189.8h1M391.0 193.9h1M398.5 207.2h1M399.9 204.3h1M396.2 195.4h1M396.0 196.4h1M389.3 190.9h1M389.8 201.4h1M389.3 192.4h1M394.0 204.4h1M389.1 203.7h1M394.4 193.2h1M389.4 187.9h1M384.4 201.5h1M385.2 201.3h1M391.4 186.7h1M387.2 208.0h1M389.6 199.7h1M386.1 189.5h1M388.6 193.8h1M390.1 187.5h1M396.5 209.2h1M385.8 200.9h1M385.1 204.1h1M385.4 198.1h1M396.1 202.1h1M387.9 189.9h1M381.6 206.2h1M392.1 199.3h1M395.8 199.9h1M385.9 198.4h1M389.1 198.9h1M402.0 202.5h1M390.9 197.5h1M386.2 193.1h1M380.2 196.3h1M382.0 187.9h1M384.9 186.9h1M396.4 206.5h1M384.7 211.2h1M392.9 183.9h1M389.7 193.0h1M380.9 197.4h1M395.3 201.7h1M382.3 195.0h1M385.8 205.9h1M389.1 193.1h1M385.0 187.2h1M385.3 204.4h1M380.0 200.2h1M389.0 203.9h1M383.8 204.5h1M397.3 212.7h1M381.4 198.8h1M388.5 199.7h1M384.6 204.1h1M401.3 208.0h1M384.8 195.5h1M393.2 199.8h1M385.7 206.4h1M392.1 205.1h1M388.7 206.7h1M387.2 192.3h1M389.5 190.6h1M395.8 203.4h1M381.1 200.0h1M393.8 196.8h1M391.6 195.5h1M389.2 198.5h1M392.0 193.2h1M383.9 201.0h1M387.0 202.1h1M387.0 191.1h1M393.2 200.6h1M393.2 197.0h1M387.7 206.6h1M381.0 209.5h1M392.1 198.7h1M390.0 202.6h1M385.7 200.7h1M384.7 187.9h1M390.5 199.6h1M392.8 202.3h1M393.0 203.8h1M384.2 206.3h1M403.0 195.6h1M383.2 203.1h1M394.1 205.1h1M397.2 190.7h1M391.4 201.8h1M395.8 193.6h1M389.6 196.8h1M388.7 198.1h1M388.8 188.4h1M389.3 199.4h1M387.6 177.6h1M386.0 195.1h1M385.1 208.6h1M394.2 197.9h1M384.6 201.9h1M386.5 207.9h1M395.1 198.3h1M392.6 194.2h1M381.6 204.1h1M397.7 197.2h1M386.9 188.2h1M400.3 191.8h1M384.6 197.8h1M395.6 199.3h1M389.4 199.1h1M393.8 198.8h1M390.3 198.6h1M383.9 207.1h1M386.0 191.1h1M387.3 199.2h1M393.6 190.1h1M383.1 200.1h1M391.4 192.4h1M383.8 200.1h1M388.8 189.3h1M385.1 207.9h1M384.2 205.3h1M381.8 208.0h1M397.6 195.2h1M386.1 202.8h1M383.3 202.3h1M395.6 200.6h1M391.1 198.1h1M394.6 194.1h1M397.5 198.9h1M387.9 189.2h1M387.3 200.4h1M395.8 189.3h1M388.9 194.9h1M383.5 199.0h1M385.7 204.2h1M376.0 203.4h1M379.9 187.3h1M392.1 197.0h1M390.2 193.2h1M384.2 194.6h1M389.2 193.9h1M387.4 193.8h1M390.7 192.1h1M379.1 183.2h1M389.4 199.6h1M394.3 194.5h1M383.8 190.0h1M393.3 195.2h1M394.5 198.5h1M388.1 187.8h1M386.1 203.8h1M386.4 203.1h1M381.2 205.1h1M403.5 205.7h1M391.1 191.6h1M386.9 195.1h1M390.4 186.8h1M385.2 203.8h1M390.2 203.5h1M393.8 192.1h1M382.7 201.8h1M389.7 199.5h1M385.4 205.1h1M392.0 205.9h1M387.7 203.2h1M389.2 193.3h1M389.1 189.0h1M388.6 200.1h1M393.0 192.7h1M382.8 194.6h1M379.1 195.1h1M402.6 199.9h1M385.7 194.9h1M398.4 192.0h1M388.9 198.5h1M385.8 194.7h1M381.1 193.9h1M396.0 207.5h1M388.1 203.2h1M391.8 199.7h1M388.8 206.3h1M392.4 197.6h1M388.3 204.6h1M386.5 194.7h1M388.1 196.0h1M395.8 201.1h1M389.1 195.8h1M396.6 201.7h1M399.9 204.5h1M388.4 195.7h1M388.1 200.1h1M393.5 201.9h1M397.4 189.8h1M389.6 190.5h1M384.3 195.4h1M386.2 193.2h1M381.9 205.8h1M387.9 204.8h1M384.0 185.0h1M386.5 204.3h1M386.7 201.4h1M384.1 207.4h1M391.7 205.3h1M388.1 206.7h1M389.9 196.1h1M386.3 199.3h1M384.9 191.8h1M390.2 203.3h1M388.0 204.1h1M397.4 191.4h1M390.8 193.2h1M386.3 200.1h1M377.6 202.6h1M393.7 202.3h1M392.7 209.9h1M387.7 205.6h1M396.8 202.0h1M380.6 198.1h1M388.0 189.3h1M389.2 203.5h1M388.2 197.9h1M396.9 195.3h1M384.8 199.2h1M395.1 202.6h1M389.9 196.0h1M395.7 204.3h1M380.8 201.0h1M377.4 208.0h1M392.6 195.2h1M383.0 197.2h1M380.7 202.4h1M386.9 188.4h1M389.4 206.1h1M383.1 196.9h1M398.6 200.1h1M386.7 200.1h1M393.4 193.0h1M389.0 189.2h1M381.6 189.7h1M393.7 200.9h1M393.2 206.3h1M389.7 200.4h1M391.5 201.8h1M384.2 197.3h1M388.7 199.2h1M385.7 198.2h1M390.9 200.1h1M392.5 203.9h1M392.3 204.8h1M393.7 207.4h1M392.6 195.3h1M401.2 205.8h1M395.8 203.4h1M389.7 192.1h1M391.7 196.9h1M387.5 186.1h1M397.3 192.0h1M384.0 201.8h1M392.3 194.2h1M389.5 200.5h1M390.3 202.2h1M393.4 196.8h1M381.4 212.0h1M387.6 193.0h1M393.3 202.5h1M377.7 206.7h1M389.3 200.9h1M391.1 197.6h1M391.1 191.2h1M387.5 210.1h1M376.6 206.4h1M378.3 193.9h1M393.9 196.5h1M386.6 190.0h1M388.9 197.9h1M386.3 189.6h1M390.3 201.5h1M395.2 202.1h1M397.1 206.2h1M375.3 209.0h1M389.0 192.7h1M391.7 204.8h1M381.7 191.6h1M392.9 195.7h1M396.8 200.3h1M386.7 191.0h1M392.5 188.6h1M383.0 191.1h1M398.0 209.3h1M388.4 196.7h1M393.0 206.5h1M385.4 212.2h1M388.5 205.8h1M377.6 198.7h1M386.0 210.9h1M388.4 191.3h1M399.3 194.9h1M389.5 191.5h1M392.9 200.2h1M388.0 196.6h1M386.6 194.7h1M382.4 206.3h1M394.0 190.6h1M383.6 201.4h1M400.9 197.8h1M387.9 197.5h1M390.7 197.9h1M394.9 204.9h1M392.3 208.5h1M388.3 195.7h1M404.4 187.4h1M381.7 184.8h1M391.3 192.6h1M394.8 186.4h1M388.8 196.6h1M384.1 205.7h1M387.5 201.7h1M386.8 199.9h1M387.2 199.4h1M389.0 194.9h1M391.7 197.9h1M384.6 192.7h1M391.7 207.0h1M382.9 196.5h1M391.8 205.3h1M393.1 191.9h1M389.7 204.4h1M390.7 197.6h1M383.6 200.0h1M389.2 199.2h1M397.0 206.1h1M385.5 200.4h1M387.9 199.6h1M397.7 204.5h1M389.7 195.0h1M388.7 201.2h1M387.0 205.6h1M389.6 191.9h1M399.8 181.5h1M388.1 198.3h1M394.5 205.7h1M396.8 208.4h1M391.1 199.7h1M394.6 198.8h1M383.2 196.3h1M392.8 202.7h1M383.9 206.2h1M391.1 189.9h1M391.8 205.1h1M392.2 197.1h1M385.5 205.7h1M390.6 199.0h1M387.5 192.8h1M380.1 196.9h1M395.1 203.6h1M386.1 208.2h1M388.4 192.9h1M394.4 207.3h1M387.5 191.6h1M389.2 184.4h1M389.8 208.2h1M390.9 194.6h1M393.1 196.0h1M395.9 196.8h1M399.7 196.9h1M390.5 193.3h1M383.1 201.1h1M391.3 193.1h1M392.3 196.5h1M386.7 198.6h1M391.5 203.4h1M395.7 201.3h1M385.8 194.9h1M391.4 191.8h1M388.6 196.7h1M389.0 200.1h1M394.7 208.9h1M393.9 205.1h1M384.1 205.2h1M396.0 190.8h1M402.2 195.6h1M377.5 209.6h1M389.8 194.2h1M386.6 205.4h1M390.8 196.7h1M395.3 193.4h1M385.2 195.6h1M385.7 203.1h1M388.3 192.7h1M387.2 187.1h1M390.3 199.6h1M392.6 197.6h1M391.5 193.4h1M389.6 199.9h1M383.4 202.5h1M390.2 199.3h1M387.1 211.0h1M389.5 194.4h1M385.2 202.6h1M388.4 194.3h1M385.9 204.6h1M389.9 205.3h1M389.4 191.9h1M393.8 200.9h1M386.2 197.1h1M384.6 204.0h1M387.4 201.9h1M390.8 197.4h1M391.4 197.5h1M383.6 196.5h1M383.6 203.5h1M392.8 195.5h1M392.6 200.5h1M394.4 193.4h1M389.6 193.0h1M386.1 207.2h1M379.4 193.5h1M391.9 203.7h1M385.6 186.8h1M380.9 201.2h1M395.0 204.4h1M385.8 207.1h1M388.6 202.7h1M388.5 208.6h1M386.9 186.1h1M387.9 200.1h1M390.9 194.7h1M388.3 192.2h1M388.3 199.5h1M390.7 208.9h1M379.5 202.1h1M391.7 192.1h1M389.9 199.0h1M384.5 203.3h1M399.0 203.0h1M393.4 205.4h1M388.9 204.8h1M385.5 200.1h1M393.0 206.8h1M388.1 197.2h1M391.8 198.5h1M390.2 203.8h1M385.7 204.2h1M391.4 197.4h1M383.3 195.2h1M389.3 204.6h1M379.7 203.3h1M390.5 192.2h1M393.8 201.4h1M391.7 193.2h1M384.0 204.4h1M396.5 201.2h1M388.5 196.3h1M381.0 204.9h1M389.0 206.4h1M385.9 205.3h1M385.9 202.5h1M396.3 194.8h1M394.0 199.0h1M384.8 200.2h1M392.7 194.7h1M388.2 195.6h1M385.7 197.7h1M393.6 196.0h1M395.7 196.7h1M386.1 205.4h1M396.5 195.1h1M392.4 192.1h1M387.5 196.8h1M393.0 191.5h1M387.0 194.9h1M390.0 191.7h1M390.6 190.0h1M393.6 191.2h1M380.2 208.9h1M395.7 194.0h1M384.1 201.8h1M399.6 202.6h1M392.8 192.0h1M380.7 201.3h1M394.5 199.8h1M389.5 207.2h1M385.3 205.5h1M393.6 195.3h1M390.1 199.6h1M392.4 193.2h1M388.3 199.5h1M389.6 199.1h1M390.7 197.9h1M387.0 205.1h1M386.3 197.1h1M385.2 192.2h1M391.7 198.7h1M388.8 201.7h1M388.6 203.0h1M398.4 201.1h1M388.2 208.8h1M393.0 189.1h1M396.1 200.2h1M393.7 192.2h1M385.3 195.2h1M392.2 192.3h1M386.0 204.6h1M386.3 199.7h1M385.1 188.9h1M389.1 198.3h1M382.4 204.7h1M393.5 204.2h1M387.0 192.2h1M389.1 200.0h1M388.6 195.5h1M384.6 194.7h1M389.1 196.1h1M397.7 197.4h1M391.7 196.3h1M388.6 193.3h1M387.1 190.2h1M379.3 206.9h1M384.3 201.5h1M388.9 195.6h1M393.1 195.7h1M391.6 196.8h1M394.3 204.6h1M389.8 205.4h1M392.0 208.2h1M388.9 189.9h1M390.5 200.4h1M387.7 197.8h1M388.2 191.6h1M397.9 194.4h1M384.2 189.7h1M385.4 198.8h1M396.7 202.5h1M385.9 191.7h1M384.0 198.5h1M393.7 196.2h1M397.3 210.4h1M390.3 186.3h1M394.8 198.4h1M392.8 204.8h1M384.6 199.4h1M390.4 194.6h1M392.9 198.2h1M387.5 210.0h1M390.3 208.6h1M388.7 205.1h1M385.8 199.9h1M394.8 186.2h1M392.1 197.4h1M394.8 200.0h1M389.1 191.5h1M403.9 194.7h1M387.9 194.7h1M388.0 200.3h1M382.9 205.2h1M388.2 202.5h1M379.2 195.9h1M388.0 196.7h1M386.2 200.8h1M391.5 193.2h1M379.9 203.3h1M387.9 205.3h1M393.7 198.4h1M382.5 196.9h1M385.9 206.3h1M381.2 204.4h1M382.0 195.6h1M382.6 194.9h1M387.3 201.2h1M386.6 203.0h1M398.0 199.9h1M383.8 197.9h1M389.0 196.9h1M395.1 205.8h1M399.3 202.1h1M376.5 198.2h1M392.7 194.2h1M386.5 204.3h1M390.2 192.4h1M386.6 180.9h1M389.5 191.8h1M389.2 192.0h1M384.9 196.0h1M403.1 192.0h1M383.7 195.8h1M394.6 203.7h1M392.9 197.1h1M390.1 194.5h1M388.6 194.2h1M382.4 193.1h1M398.9 201.3h1M385.8 198.3h1M387.3 206.1h1M389.3 195.2h1M392.8 200.9h1M386.1 194.4h1M390.2 189.4h1M385.0 204.9h1M393.7 205.5h1M387.3 195.5h1M388.1 196.2h1M395.7 197.7h1M396.1 194.8h1M391.3 208.5h1M385.8 195.1h1M386.5 189.5h1M388.0 195.2h1M400.2 196.2h1M379.0 204.5h1M394.1 198.8h1M390.9 203.2h1M386.7 199.2h1M390.1 208.7h1M396.3 200.0h1M382.9 204.2h1M389.2 205.8h1M389.7 200.0h1M392.6 194.7h1M386.2 212.4h1M385.2 204.5h1M392.8 203.8h1M396.1 191.1h1M394.1 186.9h1M389.7 201.0h1M394.5 205.3h1M384.9 197.4h1M388.7 194.9h1M385.5 195.1h1M395.0 207.0h1M393.1 208.9h1M389.9 192.6h1M386.3 200.2h1M394.4 206.1h1M385.1 204.6h1M386.8 202.5h1M393.9 207.7h1M386.9 200.4h1M391.5 196.5h1M389.9 202.5h1M381.4 195.2h1M400.7 201.6h1M386.7 188.2h1M384.8 202.0h1M392.7 201.6h1M392.3 195.4h1M397.2 192.4h1M391.9 197.4h1M381.1 204.3h1M388.1 203.2h1M395.6 200.0h1M386.2 197.7h1M389.1 207.5h1M393.6 208.3h1M393.1 194.5h1M393.9 204.7h1M388.8 201.7h1M387.9 191.6h1M389.0 203.5h1M387.7 185.8h1M385.5 205.4h1M390.5 205.6h1M385.8 196.5h1M384.6 194.4h1M391.9 199.8h1M387.1 200.7h1M383.1 196.7h1M382.1 190.2h1M382.8 192.5h1M397.1 207.1h1M395.5 195.6h1M392.5 192.3h1M386.8 200.4h1M381.7 200.2h1M392.4 186.8h1M377.5 197.4h1M388.8 199.8h1M383.9 202.3h1M390.0 194.7h1M397.4 200.5h1M393.0 209.9h1M387.0 197.7h1M381.0 197.6h1M392.2 200.2h1M383.3 194.0h1M380.4 190.9h1M390.0 200.8h1M385.0 197.7h1M385.5 202.7h1M392.5 195.7h1M387.2 191.7h1M387.1 211.9h1M389.4 204.1h1M392.2 207.7h1M387.8 193.6h1M394.5 204.4h1M386.2 205.5h1M389.4 198.7h1M398.4 202.1h1M390.9 197.1h1M390.4 205.2h1M391.6 194.5h1M391.6 198.3h1M390.9 197.8h1M378.8 189.4h1M387.5 185.9h1M382.1 211.0h1M392.8 196.3h1M391.0 185.7h1M390.6 204.8h1M390.3 191.2h1M394.1 195.8h1M386.6 200.2h1M387.9 211.1h1M388.7 211.7h1M391.6 191.6h1M389.4 199.3h1M396.4 206.6h1M401.9 195.0h1M385.0 201.1h1M397.3 193.0h1M387.7 194.6h1M392.0 201.4h1M389.2 202.9h1M385.6 196.8h1M391.7 211.0h1M389.2 199.3h1M395.8 199.4h1M395.8 200.4h1M395.1 200.1h1M384.9 193.9h1M391.5 210.2h1M398.5 197.1h1M401.6 192.4h1M385.3 204.5h1M382.0 204.4h1M391.3 202.7h1M383.5 201.3h1M394.0 198.7h1M394.5 199.1h1M391.1 197.1h1M382.8 198.1h1M391.9 194.5h1M379.9 189.8h1M395.9 197.7h1M385.7 206.4h1M388.6 190.0h1M387.3 193.7h1M388.5 193.5h1M389.8 201.7h1M386.6 197.8h1M388.7 203.9h1M385.9 203.5h1M395.5 197.8h1M384.7 197.2h1M380.7 195.8h1M383.6 198.0h1M387.6 202.1h1M390.0 201.5h1M389.2 200.7h1M383.9 203.0h1M395.8 205.6h1M382.8 201.5h1M381.4 203.5h1M388.4 196.2h1M385.8 197.6h1M389.4 193.2h1M389.7 200.6h1M392.0 198.7h1M394.4 200.9h1M382.6 202.7h1M392.2 183.1h1M388.6 201.3h1M389.6 199.6h1M388.7 207.3h1M391.3 197.3h1M388.3 211.5h1M385.2 195.8h1M391.0 199.9h1M390.9 207.1h1M395.0 201.5h1M389.6 198.6h1M388.3 205.0h1M383.2 192.8h1M387.2 193.2h1M385.8 206.2h1M378.4 202.5h1M383.0 197.5h1M386.6 193.1h1M382.1 199.4h1M374.9 186.3h1M387.5 205.6h1M398.6 197.2h1M385.5 197.3h1M391.7 204.6h1M384.7 201.8h1M389.3 205.9h1M387.4 197.8h1M385.2 191.1h1M390.8 203.3h1M395.0 200.6h1M387.2 193.5h1M383.7 194.7h1M391.1 199.5h1M378.1 198.4h1M388.0 192.7h1M389.3 202.2h1M384.3 190.9h1M387.8 200.6h1M388.2 208.3h1M390.2 193.0h1M393.3 195.1h1M392.8 199.6h1M395.5 193.0h1M393.0 201.6h1M385.0 203.2h1M400.6 201.1h1M385.7 198.1h1M395.9 200.5h1M396.8 195.1h1M395.9 189.5h1M388.6 197.2h1M387.0 206.3h1M386.5 201.1h1M398.6 204.0h1M387.4 194.6h1M379.5 201.3h1M393.8 205.6h1M390.7 211.9h1M393.3 185.1h1M385.1 203.8h1M387.5 204.0h1M402.2 194.4h1M400.4 198.5h1M382.2 199.6h1M393.9 195.5h1M397.3 193.8h1M388.5 204.5h1M388.4 195.7h1M389.4 202.9h1M398.1 207.2h1M398.8 198.8h1M381.2 198.8h1M387.4 193.0h1M386.9 198.6h1M389.7 204.5h1M384.9 205.9h1M389.7 203.4h1M395.7 191.6h1M397.4 194.7h1M391.5 205.5h1M394.1 189.6h1M390.3 205.8h1M388.9 198.5h1M389.8 208.9h1M386.8 193.3h1M384.0 195.8h1M388.3 201.1h1M389.1 188.7h1M381.6 203.1h1M393.1 190.9h1M394.1 184.4h1M401.1 202.5h1M381.2 202.1h1M389.3 196.3h1M387.7 197.7h1M389.0 193.6h1M386.7 202.4h1M392.1 191.0h1M387.0 208.4h1M393.1 208.9h1M382.7 192.8h1M378.7 187.4h1M387.6 192.7h1M384.1 194.8h1M388.6 204.0h1M392.3 188.4h1M396.9 197.0h1M384.5 198.8h1M387.5 190.7h1M397.3 195.5h1M386.5 202.2h1M397.9 201.9h1M385.0 201.6h1M395.0 201.3h1M392.7 196.1h1M389.1 188.9h1M385.9 192.2h1M389.5 208.0h1M378.2 191.1h1M384.8 198.5h1M395.3 194.3h1M385.6 206.3h1M391.4 202.2h1M393.7 194.5h1M390.6 195.0h1M385.9 199.8h1M391.7 191.3h1M385.6 202.7h1M390.3 203.0h1M387.9 194.2h1M393.4 202.6h1M375.3 204.2h1M385.7 203.0h1M397.4 197.3h1M384.6 200.5h1M389.9 202.4h1M382.5 200.5h1M394.0 203.2h1M392.6 206.2h1M385.4 206.4h1M390.5 193.0h1M388.0 200.6h1M391.2 207.1h1M390.5 195.9h1M400.5 197.0h1M385.4 204.6h1M387.4 194.3h1M384.2 206.1h1M384.2 199.6h1M387.2 197.9h1M385.4 199.9h1M392.5 205.3h1M387.7 192.0h1M382.1 199.1h1M377.0 207.0h1M389.6 199.8h1M382.5 195.1h1M385.8 203.1h1M387.4 202.7h1M392.1 187.4h1M388.3 206.6h1M386.9 199.8h1M388.9 191.6h1M400.4 198.2h1M392.7 196.3h1M396.5 206.0h1M395.4 204.8h1M393.0 207.4h1M391.5 199.9h1M393.6 193.7h1M376.8 203.9h1M390.3 194.8h1M388.2 193.3h1M385.3 200.2h1M390.1 204.0h1M389.0 202.8h1M392.9 194.8h1M381.0 194.9h1M388.2 195.8h1M400.6 194.9h1M391.9 194.5h1M393.0 191.5h1M394.3 200.1h1M387.5 191.9h1M397.9 195.6h1M396.7 184.6h1M383.5 209.9h1M398.5 199.2h1M394.5 202.7h1M387.7 199.8h1M383.7 191.0h1M390.1 203.4h1M390.3 191.7h1M393.8 199.6h1M393.3 197.3h1M388.2 205.4h1M396.4 191.9h1M383.9 204.9h1M391.3 199.4h1M384.6 205.1h1M390.4 200.4h1M391.4 195.9h1M391.5 199.9h1M393.1 201.3h1M383.1 194.8h1M388.2 206.0h1M386.2 205.9h1M394.9 204.3h1M400.8 199.0h1M391.1 206.4h1M391.5 205.0h1M388.8 207.6h1M391.3 187.6h1M394.9 197.9h1M385.1 197.3h1M388.1 205.9h1M391.2 198.7h1M389.4 193.7h1M386.3 196.3h1M388.4 192.1h1M387.5 205.1h1M391.8 199.1h1M391.2 197.6h1M383.5 204.4h1M400.8 202.1h1M383.4 202.2h1M387.8 197.4h1M381.2 198.6h1M391.5 189.5h1M388.4 196.2h1M384.5 202.9h1M397.7 201.6h1M394.7 203.6h1M389.2 202.6h1M396.2 196.5h1M388.8 190.9h1M380.2 194.2h1M394.0 201.3h1M390.8 206.9h1M380.6 207.3h1M389.9 203.7h1M396.4 194.2h1M385.1 201.5h1M389.2 195.6h1M388.9 194.8h1M390.2 196.8h1M398.0 192.9h1M392.4 199.5h1M397.4 193.3h1M387.2 209.4h1M386.2 196.8h1M387.5 193.3h1M395.6 208.1h1M388.7 194.6h1M382.7 203.0h1M386.8 202.4h1M377.4 196.6h1M392.6 201.6h1M375.1 200.8h1M390.1 199.0h1M387.8 196.5h1M390.2 202.1h1M373.6 199.0h1M394.2 197.8h1M395.6 193.5h1M399.1 204.8h1M396.7 208.5h1M383.5 198.4h1M391.9 205.3h1M389.9 191.4h1M395.6 198.1h1M391.7 197.2h1M388.9 190.9h1M392.9 195.4h1M380.6 201.5h1M389.3 204.8h1M393.6 191.9h1M388.6 199.1h1M389.9 192.8h1M389.9 204.9h1M395.7 207.7h1M393.3 184.1h1M388.1 195.8h1M374.9 208.2h1M394.1 199.0h1M391.3 202.0h1M388.4 207.2h1M398.7 203.9h1M386.7 200.6h1M394.4 203.3h1M386.1 204.7h1M393.1 202.5h1M387.4 198.9h1M379.9 198.9h1M387.3 197.3h1M388.1 197.2h1M389.9 199.6h1M386.4 198.3h1M389.0 202.0h1M391.7 196.9h1M385.4 189.3h1M383.2 201.5h1M384.9 208.6h1M388.7 196.8h1M388.7 195.8h1M386.3 199.5h1M382.2 199.9h1M389.0 193.7h1M394.7 201.2h1M394.9 195.1h1M383.3 192.0h1M381.6 187.8h1M397.4 196.2h1M390.5 195.9h1M388.8 208.4h1M380.8 193.2h1M390.2 193.7h1M393.0 206.7h1M394.0 203.5h1M388.7 205.0h1M385.5 192.0h1M388.2 197.6h1M395.6 193.2h1M395.2 194.4h1M383.2 189.0h1M389.3 190.5h1M390.6 199.3h1M387.5 187.6h1M386.9 201.7h1M380.6 203.1h1M389.6 195.8h1M390.5 202.9h1M389.4 194.4h1M393.4 195.0h1M391.3 204.8h1M396.1 208.5h1M394.6 199.9h1M388.5 200.2h1M392.8 194.1h1M410.4 189.3h1M406.0 191.3h1M406.7 196.3h1M399.8 190.9h1M402.7 198.8h1M408.9 193.0h1M412.8 204.0h1M399.3 205.8h1M417.3 191.5h1M398.2 212.1h1M407.9 187.3h1M401.3 208.6h1M410.9 190.8h1M402.6 187.7h1M404.6 193.3h1M401.0 206.8h1M417.7 197.2h1M404.4 200.9h1M398.5 212.0h1M403.4 209.6h1M400.0 205.1h1M401.7 198.9h1M403.3 196.9h1M397.5 197.1h1M400.3 195.0h1M404.7 198.0h1M398.4 198.1h1M408.6 196.1h1M409.4 194.0h1M410.4 203.5h1M401.6 202.5h1M407.1 193.4h1M399.3 201.5h1M399.2 197.7h1M397.6 201.5h1M404.0 209.0h1M400.2 211.0h1M398.5 190.2h1M401.1 197.3h1M406.5 186.6h1M402.8 198.7h1M403.0 202.1h1M404.7 198.5h1M399.4 207.3h1M412.1 202.0h1M398.7 194.0h1M415.3 202.1h1M402.7 189.2h1M398.8 198.2h1M410.5 198.3h1M404.6 212.0h1M407.3 194.2h1M403.2 200.3h1M397.8 198.5h1M398.5 201.8h1M401.4 197.7h1M399.4 192.5h1M401.2 185.4h1M402.9 198.8h1M407.3 208.2h1M403.6 207.3h1M397.9 209.9h1M399.3 206.2h1M400.1 187.5h1M400.7 202.6h1M400.8 210.3h1M403.6 190.3h1M399.6 195.1h1M398.2 199.5h1M404.3 206.6h1M398.4 211.0h1M399.6 206.3h1M399.8 195.3h1M401.8 193.9h1M401.2 200.4h1M406.5 189.6h1M404.6 187.8h1M404.9 189.8h1M403.4 192.1h1M402.3 198.7h1M397.7 202.2h1M403.9 203.7h1M400.3 207.6h1M400.6 195.0h1M410.1 191.9h1M401.4 207.6h1M398.4 201.8h1M398.5 203.8h1M399.3 199.6h1M403.4 187.3h1M399.6 197.6h1M414.0 201.4h1M402.9 203.7h1M400.6 191.9h1M399.7 202.8h1M407.5 206.3h1M399.4 198.5h1M399.1 207.3h1M398.4 207.0h1M404.1 199.4h1M404.0 204.0h1M399.1 196.2h1M412.5 196.7h1M404.5 196.9h1M410.7 194.6h1M404.6 199.4h1M406.7 200.2h1M403.8 191.9h1M407.1 197.1h1M403.5 195.7h1M401.0 202.5h1M397.5 202.4h1M408.1 198.3h1M400.2 192.7h1M403.4 198.9h1M404.3 195.2h1M409.0 205.5h1M417.3 183.0h1M406.3 200.3h1M401.5 193.4h1M400.3 206.6h1M399.7 204.2h1M398.5 193.5h1M402.5 195.6h1M408.6 206.9h1M399.5 189.5h1M401.5 196.9h1M413.5 199.4h1M399.8 191.0h1M400.9 196.6h1M412.9 203.8h1M403.9 200.1h1M408.1 205.4h1M403.0 187.2h1M403.5 197.3h1M397.4 202.8h1M399.3 202.2h1M408.2 197.4h1M400.3 199.6h1M402.8 196.9h1M398.1 195.1h1M398.0 203.0h1M404.2 198.3h1M409.5 195.0h1M398.1 202.9h1M405.9 198.9h1M405.1 201.5h1M399.6 202.4h1M399.1 190.4h1M402.0 190.9h1M403.0 199.1h1M406.4 195.4h1M403.8 200.8h1M414.5 212.3h1M410.2 206.0h1M405.6 205.7h1M398.2 204.2h1M400.2 205.7h1M402.8 194.3h1M400.6 196.6h1M403.0 194.0h1M399.6 193.2h1M406.3 191.6h1M410.6 198.1h1M410.8 196.6h1M405.1 198.3h1M402.6 212.4h1M406.4 187.7h1M405.5 202.1h1M402.8 198.1h1M400.0 203.0h1M400.3 205.9h1M404.4 204.3h1M405.0 200.8h1M400.2 199.4h1M415.7 201.1h1M409.1 186.6h1M403.7 193.7h1M400.4 199.8h1M411.9 193.7h1M399.6 202.5h1M398.0 191.4h1M401.8 200.2h1M407.9 196.7h1M401.9 185.9h1M411.6 205.1h1M401.2 205.6h1M406.0 209.3h1M400.4 200.4h1M402.2 200.1h1M400.1 199.7h1M404.2 204.4h1M402.0 199.5h1M406.1 194.8h1M407.9 198.5h1M409.9 196.7h1M399.5 200.9h1M406.4 208.7h1M401.1 194.8h1M403.7 207.4h1M403.2 197.4h1M407.9 199.3h1M398.8 203.5h1M402.1 185.0h1M399.2 204.1h1M401.0 203.0h1M398.8 206.2h1M398.4 209.1h1M397.8 204.6h1M401.9 201.4h1M400.9 200.4h1M410.1 199.8h1M406.7 201.8h1M406.4 193.7h1M400.4 205.7h1M404.1 202.0h1M402.1 200.8h1M401.0 203.0h1M399.3 202.1h1M401.6 196.6h1M410.4 198.8h1M411.4 199.7h1M399.1 192.5h1M398.0 201.4h1M400.3 193.7h1M398.3 202.1h1M405.0 211.9h1M413.6 201.7h1M401.0 195.4h1M398.4 208.2h1M406.2 196.7h1M416.4 206.9h1M410.1 188.2h1M399.0 195.0h1M399.1 199.9h1M406.8 195.7h1M413.3 188.6h1M398.2 203.5h1M404.8 197.3h1M413.1 200.9h1M403.4 186.4h1M401.4 203.1h1M417.2 198.3h1M410.5 190.9h1M400.8 206.8h1M407.0 195.3h1M401.6 188.1h1M409.6 203.0h1M400.7 193.0h1M412.8 198.0h1M415.8 186.6h1M406.0 206.7h1M413.2 195.5h1M398.0 206.8h1M398.0 211.2h1M397.6 198.8h1M401.0 201.8h1M409.7 193.4h1M399.3 201.7h1M407.5 194.9h1M403.5 201.7h1M400.9 203.4h1M400.6 193.6h1M399.8 191.5h1M398.3 204.7h1M405.5 188.1h1M401.7 197.6h1M397.6 202.5h1M400.5 205.5h1M401.2 185.3h1M401.4 197.5h1M400.8 202.0h1M399.5 207.9h1M402.6 199.5h1M405.3 193.1h1M400.5 204.4h1M397.5 198.4h1M409.5 186.1h1M399.2 198.0h1M412.0 201.9h1M400.9 205.7h1M404.8 191.6h1M400.4 209.1h1M405.6 195.7h1M407.7 205.5h1M406.5 192.4h1M410.7 194.5h1M403.6 198.2h1M400.1 195.6h1M403.1 203.5h1M404.1 197.7h1M411.6 198.3h1M406.9 209.2h1M398.5 199.9h1M404.5 201.8h1M398.3 212.4h1M413.1 203.7h1M405.6 200.0h1M398.8 201.2h1M417.4 204.0h1M416.8 196.8h1M404.9 203.5h1M399.9 196.3h1M402.7 201.3h1M409.4 204.9h1M403.3 180.6h1M410.0 202.7h1M398.8 195.6h1M418.3 208.2h1M398.2 197.1h1M402.2 208.3h1M401.7 205.6h1M399.6 201.8h1M408.0 200.3h1M397.8 199.0h1M399.4 201.5h1M402.2 198.2h1M404.9 191.7h1M401.9 196.8h1M406.4 183.7h1M411.2 206.1h1M400.6 203.1h1M406.7 189.0h1M400.2 203.2h1M403.2 199.5h1M423.2 198.7h1M406.3 200.6h1M398.9 203.2h1M414.9 191.2h1M408.1 201.1h1M402.7 187.3h1M404.9 198.3h1M405.8 212.5h1M411.3 191.2h1M406.5 208.6h1M400.7 201.8h1M403.2 203.7h1M408.1 204.3h1M405.7 196.9h1M405.1 196.3h1M402.3 202.9h1M403.9 199.7h1M400.0 188.0h1M401.0 193.0h1M402.1 201.7h1M404.8 196.0h1M407.1 197.8h1M399.8 206.0h1M413.9 205.4h1M402.8 196.1h1M403.2 200.8h1M401.8 198.5h1M398.7 199.6h1M406.6 201.3h1M402.3 199.8h1M407.0 199.5h1M398.3 201.5h1M400.9 204.9h1M406.5 204.8h1M399.4 207.4h1M397.8 198.4h1M409.5 199.6h1M407.6 193.4h1M404.0 191.3h1M399.9 211.3h1M397.8 192.0h1M399.8 198.6h1M404.1 196.2h1M412.0 196.4h1M402.3 206.1h1M399.7 199.7h1M403.2 198.3h1M401.3 201.0h1M406.6 196.3h1M401.6 195.4h1M403.6 200.6h1M408.7 194.1h1M407.5 195.7h1M402.5 200.0h1M408.7 184.3h1M401.1 195.5h1M406.2 197.0h1M408.5 195.4h1M410.3 190.5h1M403.4 196.1h1M403.2 195.9h1M399.4 196.0h1M402.1 195.3h1M410.0 199.2h1M413.9 210.3h1M407.9 206.7h1M398.3 198.5h1M401.5 200.3h1M401.3 199.5h1M404.4 193.4h1M411.4 210.2h1M407.9 195.5h1M397.8 203.2h1M398.4 201.0h1M400.4 206.8h1M408.5 206.5h1M401.0 202.9h1M410.2 198.1h1M399.7 203.6h1M403.1 203.9h1M408.4 207.5h1M397.9 205.4h1M397.6 195.1h1M419.5 203.7h1M403.8 196.6h1M399.4 206.6h1M401.1 210.6h1M407.5 192.7h1M410.5 206.9h1M402.4 197.9h1M400.0 196.0h1M412.5 198.5h1M409.2 205.2h1M398.2 201.8h1M400.8 199.3h1M413.4 202.9h1M403.3 197.1h1M400.0 207.6h1M415.8 198.7h1M401.9 205.9h1M405.2 201.5h1M400.7 205.4h1M402.8 198.4h1M401.9 206.7h1M406.5 196.8h1M398.7 200.9h1M405.2 198.8h1M404.6 204.4h1M403.3 195.5h1M398.5 190.4h1M399.9 200.3h1M408.8 198.1h1M403.1 197.9h1M405.0 208.1h1M405.7 204.3h1M399.0 208.6h1M398.0 199.6h1M397.8 187.8h1M417.6 198.2h1M400.2 192.5h1M398.7 209.6h1M404.0 202.3h1M406.0 205.4h1M401.0 188.7h1M400.7 203.1h1M400.3 196.9h1M412.1 189.7h1M401.9 195.8h1M410.8 195.3h1M404.3 207.3h1M412.4 191.0h1M399.5 190.0h1M414.5 195.7h1M407.8 193.5h1M398.9 202.4h1M403.0 197.9h1M403.3 198.6h1M403.5 195.9h1M401.4 207.5h1M400.3 197.5h1M398.9 202.4h1M407.8 199.8h1M402.5 208.4h1M412.2 203.6h1M400.2 195.0h1M398.4 198.1h1M397.6 201.1h1M407.4 197.1h1M411.4 182.9h1M412.7 207.1h1M410.5 200.8h1M399.6 193.3h1M408.6 192.4h1M404.3 199.6h1M399.2 201.7h1M407.4 197.5h1M401.4 206.9h1M403.7 202.1h1M399.8 196.2h1M401.9 199.0h1M401.7 196.5h1M414.7 193.4h1M404.2 198.3h1M398.7 197.2h1M410.2 197.8h1M401.9 200.3h1M403.6 203.2h1M411.2 195.1h1M404.5 210.0h1M408.0 200.0h1M400.0 201.2h1M408.3 194.9h1M409.5 199.2h1M400.6 197.2h1M415.3 201.6h1M408.7 196.2h1M405.1 201.0h1M403.4 199.8h1M398.9 202.1h1M410.9 203.1h1M410.5 199.2h1M400.2 195.6h1M402.3 194.3h1M401.2 195.7h1M400.5 207.1h1M398.5 204.5h1M399.6 188.2h1M409.7 198.5h1M403.0 205.4h1M407.2 195.0h1M407.0 195.3h1M406.8 197.7h1M399.3 200.0h1M401.8 206.2h1M406.5 200.0h1M402.4 202.9h1M411.5 189.9h1M405.9 205.2h1M400.2 199.7h1M400.5 207.2h1M407.2 203.3h1M408.1 203.1h1M401.6 196.8h1M415.5 193.3h1M406.5 193.8h1M411.4 198.1h1M410.2 202.4h1M404.9 205.4h1M398.5 190.9h1M404.1 195.6h1M404.7 207.2h1M406.0 201.8h1M402.5 203.2h1M409.7 190.0h1M401.6 208.4h1M409.3 197.7h1M401.9 193.9h1M405.5 199.9h1M409.3 198.3h1M408.5 195.3h1M401.9 194.5h1M398.6 196.2h1M404.8 194.5h1M409.9 202.4h1M424.4 193.8h1M399.6 201.1h1M402.4 196.9h1M404.4 198.5h1M401.4 203.0h1M397.5 203.0h1M411.1 197.9h1M400.0 201.9h1M415.0 197.4h1M411.6 206.9h1M420.8 193.5h1M405.9 202.0h1M408.5 199.9h1M400.3 212.8h1M405.1 209.7h1M401.8 184.8h1M404.6 196.7h1M397.9 204.2h1M403.1 202.8h1M403.9 210.5h1M407.4 199.8h1M402.4 199.3h1M399.4 195.3h1M397.6 195.5h1M402.7 195.6h1M401.4 201.6h1M398.7 202.8h1M403.4 204.1h1M397.5 197.0h1M412.0 206.4h1M399.9 203.1h1M403.1 209.3h1M405.9 198.6h1M399.7 192.5h1M399.5 204.9h1M400.8 203.7h1M398.4 196.8h1M407.9 206.4h1M418.8 203.0h1M406.7 193.3h1M399.4 203.6h1M410.2 184.8h1M413.0 200.6h1M398.5 202.0h1M400.5 197.8h1M406.3 189.0h1M398.5 203.0h1M411.5 198.6h1M410.3 201.9h1M403.3 203.9h1M399.2 201.8h1M404.4 198.3h1M413.0 192.0h1M398.9 191.8h1M402.0 194.8h1M407.9 201.1h1M405.5 202.9h1M412.7 183.8h1M398.9 186.7h1M398.5 201.9h1M399.1 207.0h1M398.7 189.0h1M410.1 193.8h1M398.3 201.6h1M405.0 200.1h1M410.0 189.2h1M411.6 196.8h1M398.9 191.7h1M417.0 205.2h1M400.7 191.4h1M402.2 199.2h1M398.7 191.3h1M399.3 202.6h1M412.4 193.1h1M405.6 211.9h1M403.0 199.1h1M406.7 197.1h1M399.6 202.3h1M408.6 186.0h1M407.4 199.6h1M405.7 202.1h1M420.9 189.4h1M408.8 203.2h1M419.1 204.5h1M401.3 209.0h1M401.2 196.2h1M406.1 201.1h1M401.1 205.4h1M409.7 203.5h1M407.8 198.0h1M405.6 204.1h1M406.0 207.9h1M398.8 196.7h1M400.5 201.8h1M397.8 198.4h1M399.5 197.8h1M400.2 195.9h1M410.6 197.6h1M413.5 194.5h1M405.2 207.9h1M402.1 201.2h1M416.9 203.1h1M410.5 200.7h1M414.4 196.0h1M403.8 200.3h1M399.8 197.0h1M400.1 194.5h1M402.3 200.8h1M400.3 196.4h1M401.6 197.7h1M399.9 198.6h1M403.1 192.7h1M413.3 191.1h1M411.4 194.5h1M399.2 192.3h1M401.0 212.6h1M421.2 192.3h1M407.9 192.3h1M398.3 195.6h1M403.9 190.5h1M400.0 200.9h1M402.2 202.2h1M398.7 188.4h1M400.2 193.6h1M401.9 198.1h1M398.7 206.4h1M398.3 210.1h1M404.5 190.3h1M402.4 207.2h1M401.7 207.0h1M402.2 198.8h1M406.1 189.7h1M398.0 196.7h1M398.8 210.3h1M401.6 191.1h1M405.6 196.7h1M398.8 206.8h1M400.0 205.5h1M398.9 193.9h1M400.0 191.0h1M407.5 200.6h1M405.6 192.5h1M404.6 192.0h1M399.8 199.4h1M402.4 201.5h1M397.7 194.1h1M403.7 191.3h1M409.1 200.5h1M400.5 203.9h1M404.7 192.2h1M400.4 209.5h1M400.0 200.5h1M412.2 189.8h1M423.4 192.6h1M398.0 191.1h1M407.7 198.0h1M418.2 193.6h1M402.6 201.2h1M406.1 197.9h1M404.4 185.8h1M400.0 197.7h1M401.8 198.8h1M412.7 196.7h1M401.8 193.0h1M408.1 212.1h1M404.2 194.1h1M409.5 202.6h1M404.4 203.3h1M402.3 203.1h1M405.2 206.8h1M406.4 198.7h1M397.4 191.8h1M400.9 203.9h1M409.1 196.0h1M406.8 191.5h1M406.5 208.2h1M403.0 197.0h1M405.8 206.0h1M409.4 186.4h1M403.8 188.4h1M402.8 196.9h1M402.3 211.9h1M398.8 206.9h1M398.9 199.1h1M401.7 202.3h1M401.7 188.6h1M401.7 201.5h1M402.5 199.2h1M400.9 191.3h1M407.0 191.8h1M409.3 205.9h1M397.9 197.6h1M404.0 197.6h1M407.5 201.3h1M407.8 196.6h1M412.7 204.6h1M401.2 199.1h1M402.9 199.4h1M409.7 203.8h1M397.5 195.6h1M401.2 196.5h1M402.4 196.4h1M408.5 203.8h1M401.0 201.8h1M407.1 184.3h1M410.2 204.0h1M399.2 201.3h1M399.1 199.6h1M399.6 185.4h1M402.2 199.8h1M405.7 201.4h1M399.8 203.3h1M399.0 196.7h1M400.6 196.8h1M399.9 196.7h1M398.4 206.6h1M414.2 179.1h1M401.4 198.5h1M403.7 190.9h1M404.6 196.3h1M398.7 197.4h1M407.6 197.2h1M410.3 193.9h1M398.0 205.9h1M404.2 195.9h1M422.0 207.3h1M401.9 200.5h1M398.3 200.4h1M401.4 197.6h1M416.3 193.4h1M398.7 190.9h1M400.1 209.0h1M399.4 195.4h1M398.6 206.1h1M412.0 191.6h1M403.0 196.7h1M398.1 195.8h1M398.3 200.1h1M407.3 195.6h1M407.9 201.3h1M399.6 203.6h1M404.8 196.1h1M416.3 199.6h1M411.1 201.7h1M406.6 202.3h1M402.7 200.9h1M400.6 205.4h1M408.1 212.3h1M399.7 204.8h1M404.8 202.2h1M399.7 191.5h1M406.6 193.9h1M402.9 194.1h1M402.1 193.4h1M401.3 203.1h1M398.3 197.4h1M402.5 207.8h1M401.3 192.9h1M402.5 194.0h1M399.4 198.5h1M416.9 208.7h1M404.3 196.8h1M414.0 187.1h1M406.0 200.9h1M404.6 188.1h1M399.3 209.0h1M399.8 205.3h1M400.0 193.7h1M405.8 195.7h1M400.4 197.0h1M399.2 200.5h1M408.6 188.9h1M406.9 200.1h1M405.7 198.3h1M399.0 202.8h1M410.8 193.8h1M410.9 197.7h1M403.9 191.2h1M407.0 205.4h1M404.1 194.2h1M408.4 203.6h1M399.6 203.8h1M408.8 180.9h1M406.9 205.8h1M399.8 199.5h1M401.2 204.2h1M399.0 196.3h1M405.7 206.0h1M398.2 178.0h1M400.3 195.9h1M408.2 196.3h1M408.2 196.7h1M402.0 202.7h1M406.0 188.0h1M402.5 190.8h1M403.7 198.2h1M411.6 194.0h1M397.6 199.2h1M413.0 198.7h1M399.9 205.7h1M406.7 198.7h1M408.4 197.1h1M402.9 193.7h1M408.1 193.5h1M407.0 204.7h1M398.3 201.5h1M400.0 199.7h1M402.4 211.4h1M402.9 198.7h1M401.4 204.7h1M401.9 200.6h1M399.1 195.9h1M404.0 198.2h1M400.0 196.9h1M413.9 200.0h1M402.9 199.9h1M411.9 204.9h1M400.4 195.2h1M401.6 197.1h1M411.1 200.3h1M399.9 198.1h1M402.6 200.7h1M414.5 194.8h1M398.2 201.4h1M401.1 196.3h1M412.2 190.4h1M400.3 188.5h1M400.3 187.4h1M407.3 206.6h1M410.4 200.3h1M420.4 205.9h1M399.5 192.5h1M400.4 191.2h1M398.2 198.9h1M398.4 204.5h1M402.9 185.6h1M407.3 191.6h1M400.5 196.7h1M397.8 208.1h1M397.6 192.7h1M400.0 194.0h1M399.4 203.1h1M407.0 203.9h1M412.5 209.0h1M411.2 200.1h1M408.9 212.1h1M397.8 200.9h1M400.4 193.6h1M402.6 190.7h1M409.1 203.0h1M400.6 194.2h1M401.6 208.4h1M399.8 198.6h1M402.1 205.4h1M406.2 203.7h1M403.0 202.8h1M397.5 188.9h1M407.9 203.1h1M409.0 199.1h1M403.6 199.1h1M398.8 205.2h1M397.9 203.3h1M397.7 207.2h1M402.9 189.1h1M411.4 202.2h1M401.7 195.6h1M414.2 200.1h1M401.7 203.2h1M402.5 210.4h1M415.2 194.6h1M407.0 189.3h1M400.2 199.9h1M397.8 203.1h1M400.8 201.8h1M398.5 201.4h1M402.1 211.8h1M397.9 207.2h1M398.3 198.6h1M398.9 191.4h1M415.0 202.1h1M398.5 196.6h1M408.2 197.4h1M401.3 196.1h1M410.4 201.4h1M398.6 195.5h1M408.3 201.3h1M400.2 205.1h1M404.8 193.3h1M407.1 206.3h1M399.4 191.2h1M406.7 197.4h1M399.1 197.7h1M399.7 204.7h1M406.6 202.8h1M407.2 206.1h1M403.5 201.2h1M399.0 198.8h1M404.8 209.9h1M398.4 193.2h1M404.5 208.9h1M399.8 197.5h1M406.7 203.5h1M399.4 195.4h1M402.5 191.5h1M403.6 184.4h1M402.5 190.6h1M399.4 204.5h1M408.3 208.0h1M403.1 196.5h1M405.8 195.0h1M409.7 198.2h1M398.1 193.5h1M407.1 199.1h1M401.4 193.6h1M402.6 198.9h1M403.3 204.4h1M397.6 195.7h1M401.3 208.3h1M414.7 201.7h1M406.5 200.4h1M404.4 190.0h1M403.6 205.8h1M398.1 199.9h1M402.7 201.8h1M401.3 196.4h1M399.8 207.6h1M401.4 190.6h1M400.2 205.0h1M412.5 200.4h1M402.5 203.3h1M400.0 206.8h1M401.8 204.2h1M401.8 202.1h1M404.9 198.5h1M410.9 207.7h1M405.6 201.9h1M398.2 201.7h1M400.0 206.2h1M399.9 194.8h1M410.7 209.1h1M403.5 194.2h1M400.9 210.6h1M403.1 197.5h1M402.3 194.4h1M399.3 199.7h1M397.7 204.3h1M402.1 211.1h1M404.5 197.8h1M399.7 194.3h1M402.3 197.4h1M406.0 195.3h1M410.1 193.3h1M407.2 198.4h1M399.7 192.3h1M403.8 197.0h1M400.9 203.3h1M408.6 197.9h1M402.8 200.0h1M406.2 195.6h1M415.7 198.5h1M411.3 204.6h1M411.4 198.4h1M405.4 197.7h1M406.3 192.3h1M401.3 189.6h1M400.7 194.2h1M400.6 191.1h1M404.7 198.1h1M409.7 190.7h1M398.2 189.5h1M400.4 202.5h1M402.5 208.1h1M409.6 201.4h1M401.5 202.4h1M399.2 207.6h1M401.5 184.1h1M397.9 202.2h1M404.5 192.7h1M409.2 194.5h1M402.9 204.0h1M399.2 206.5h1M401.1 212.1h1M401.8 196.9h1M419.2 199.5h1M410.4 208.2h1M410.5 196.0h1M405.2 206.4h1M398.2 193.6h1M401.0 199.9h1M405.8 209.1h1M402.2 208.9h1M409.5 203.9h1M398.2 202.2h1M400.6 195.1h1M400.1 206.5h1M415.3 199.8h1M400.4 192.9h1M408.1 202.7h1M402.3 203.5h1M413.4 190.2h1M402.1 196.9h1M412.2 197.1h1M398.8 205.6h1M411.5 201.8h1M400.6 211.4h1M400.4 188.5h1M403.2 197.6h1M408.5 201.5h1M407.7 200.1h1M398.1 196.0h1M407.2 202.6h1M400.7 203.0h1M401.4 196.9h1M400.9 203.3h1M414.1 194.1h1M405.9 205.0h1M399.2 200.4h1M397.5 208.9h1M418.7 201.5h1M399.1 205.4h1M401.8 198.4h1M404.0 204.9h1M400.3 204.8h1M415.5 191.6h1M399.6 200.5h1M409.0 208.6h1M400.1 200.4h1M397.4 204.2h1M401.8 204.1h1M403.9 190.4h1M402.0 200.5h1M405.0 187.6h1M398.7 195.6h1M398.6 197.1h1M400.1 195.4h1M406.2 188.9h1M410.8 201.6h1M414.3 194.8h1M404.5 192.3h1M405.4 207.2h1M403.4 205.1h1M400.6 201.0h1M401.8 193.5h1M400.1 207.3h1M402.8 199.8h1M411.7 199.1h1M403.0 196.1h1M413.2 191.9h1M402.4 198.0h1M399.4 201.7h1M408.6 204.9h1M406.4 201.8h1M405.8 207.8h1M410.4 202.5h1M404.3 198.1h1M408.9 205.6h1M403.0 211.3h1M403.4 199.4h1M402.1 200.2h1M405.3 197.2h1M410.9 197.7h1M412.9 198.9h1M401.2 193.8h1M399.5 196.8h1M408.5 211.5h1M402.6 199.0h1M406.1 199.7h1M405.7 193.5h1M411.4 203.0h1M401.6 181.6h1M408.7 198.7h1M398.2 194.9h1M412.4 202.8h1M402.3 189.3h1M399.2 195.4h1M406.2 193.1h1M407.6 196.7h1M399.3 197.8h1M402.9 206.6h1M401.6 193.9h1M413.3 205.4h1M413.4 205.4h1M398.8 209.6h1M402.6 196.9h1M400.4 203.8h1M404.1 198.4h1M404.1 198.1h1M407.0 206.4h1M402.9 202.3h1M401.0 185.8h1M406.9 207.2h1M398.1 201.2h1M408.0 199.7h1M402.3 195.7h1M404.9 202.9h1M401.0 202.7h1M409.5 196.8h1M414.7 201.8h1M398.0 206.9h1M400.0 209.0h1M406.7 204.3h1M405.9 203.7h1M418.0 209.0h1M404.2 202.1h1M401.5 195.0h1M399.7 192.9h1M405.7 205.2h1M398.5 203.8h1M417.3 198.5h1M412.6 201.6h1M400.9 194.7h1M405.1 205.7h1M402.6 209.7h1M402.4 196.9h1M401.1 182.7h1M419.7 201.7h1M398.9 199.9h1M405.1 200.9h1M406.4 195.6h1M402.3 198.6h1M398.5 200.2h1M410.1 202.8h1M403.3 200.4h1M414.9 205.4h1M397.5 200.1h1M401.4 189.9h1M410.0 210.9h1M410.6 188.1h1M402.2 192.2h1M398.7 196.3h1M402.3 194.7h1M401.2 204.3h1M410.9 205.3h1M397.5 198.6h1M399.2 199.4h1M402.3 198.4h1M404.6 198.1h1M404.0 198.8h1M398.3 199.0h1M399.4 203.9h1M397.6 193.2h1M402.3 195.1h1M404.0 204.6h1M401.6 201.4h1M408.4 198.3h1M398.6 203.5h1M406.5 198.6h1M410.0 200.6h1M398.2 200.3h1M411.3 204.1h1M398.8 195.9h1M400.9 204.4h1M405.2 196.4h1M398.2 196.8h1M403.3 200.7h1M403.2 194.0h1M408.4 190.8h1M412.3 180.4h1M414.5 196.2h1M404.7 203.0h1M404.5 206.6h1M401.1 199.4h1M405.7 203.0h1M403.5 194.8h1M409.3 201.1h1M401.7 189.8h1M401.9 201.5h1M399.1 198.1h1M398.9 203.6h1M407.2 194.4h1M405.7 204.1h1M408.9 195.0h1M409.6 204.2h1M398.5 205.9h1M409.0 208.3h1M408.9 191.5h1M401.5 199.2h1M400.2 201.0h1M409.9 206.3h1M405.8 199.5h1M411.4 202.4h1M399.6 199.4h1M397.4 205.1h1M416.5 198.3h1M407.0 205.8h1M399.6 193.6h1M405.6 199.6h1M405.2 183.8h1M405.6 201.9h1M405.9 205.6h1M416.0 201.5h1M399.5 199.0h1M404.8 199.7h1M406.3 208.3h1M404.7 193.5h1M403.1 197.9h1M400.2 205.5h1M402.8 200.8h1M409.9 194.3h1M398.8 204.0h1M399.2 205.9h1M405.7 190.2h1M400.7 198.7h1M400.2 205.5h1M406.4 197.4h1M400.5 187.5h1M405.4 201.0h1M399.4 190.3h1M404.1 199.3h1M406.8 197.3h1M405.7 192.7h1M412.8 194.5h1M403.4 202.1h1M413.1 200.4h1M403.2 209.9h1M404.1 202.7h1M410.5 201.8h1M413.8 197.7h1M400.4 193.5h1M405.8 198.7h1M402.4 195.5h1M400.1 203.9h1M397.4 211.3h1M399.9 195.0h1M413.2 206.1h1M399.5 163.6h1M393.9 190.4h1M400.7 161.7h1M395.0 190.7h1M389.4 174.7h1M381.3 182.9h1M397.7 163.8h1M399.0 171.9h1M396.1 182.0h1M400.9 187.6h1M398.0 189.9h1M407.8 181.5h1M388.9 171.5h1M399.1 178.0h1M395.2 175.2h1M393.8 176.1h1M399.6 178.5h1M395.0 171.7h1M381.8 190.1h1M391.7 188.1h1M399.9 188.6h1M384.6 183.0h1M385.1 186.2h1M399.0 187.4h1M395.7 186.7h1M385.0 179.1h1M394.4 189.0h1M402.6 187.0h1M392.6 187.5h1M396.4 186.9h1M391.4 169.2h1M401.8 173.0h1M394.0 190.1h1M398.4 170.4h1M395.7 168.3h1M384.4 186.1h1M396.3 186.2h1M397.5 177.1h1M401.0 190.2h1M398.6 188.7h1M386.1 163.9h1M391.9 187.3h1M395.3 189.0h1M397.3 190.7h1M398.2 183.7h1M395.0 185.2h1M401.2 190.1h1M390.9 189.5h1M389.4 177.9h1M377.7 188.5h1M391.1 185.6h1M400.8 187.8h1M395.8 170.8h1M396.2 155.9h1M401.3 180.0h1M394.1 188.8h1M395.4 187.2h1M395.3 175.8h1M390.3 184.8h1M394.2 183.6h1M397.4 165.9h1M401.7 185.4h1M405.4 189.7h1M394.4 167.2h1M392.5 189.0h1M388.4 180.8h1M397.6 189.4h1M401.7 185.9h1M403.6 184.2h1M393.2 181.8h1M390.0 187.8h1M387.7 188.7h1M383.3 171.5h1M385.7 184.6h1M392.6 190.5h1M403.3 184.5h1M398.5 190.1h1M378.4 188.9h1M386.2 159.5h1M396.1 189.9h1M400.2 176.0h1M400.4 190.7h1M387.5 185.8h1M402.0 189.1h1M404.9 184.2h1M399.8 183.7h1M390.5 186.1h1M384.9 186.7h1M397.3 176.8h1M393.7 185.1h1M390.2 163.8h1M394.0 187.6h1M394.0 169.9h1M397.1 174.2h1M398.5 187.8h1M396.1 190.7h1M382.4 178.9h1M395.2 184.4h1M400.5 187.4h1M394.3 188.1h1M389.2 189.7h1M390.6 184.6h1M408.0 181.7h1M392.2 172.2h1M387.4 179.7h1M395.7 188.9h1M388.6 187.6h1M390.8 184.5h1M399.1 189.8h1M403.4 185.4h1M402.6 190.0h1M397.8 174.5h1M406.7 187.6h1M396.3 161.7h1M393.3 180.5h1M398.2 188.3h1M397.9 188.0h1M388.2 182.5h1M395.9 190.2h1M400.0 188.4h1M395.7 185.9h1M398.8 185.3h1M388.2 180.1h1M390.4 182.0h1M382.5 189.6h1M397.3 187.9h1M409.2 170.9h1M396.1 186.0h1M399.6 165.6h1M388.0 169.0h1M392.4 185.9h1M399.6 161.3h1M389.0 190.8h1M396.2 186.4h1M401.0 175.9h1M391.9 169.4h1M404.7 184.5h1M390.9 187.6h1M405.9 178.1h1M390.7 190.5h1M389.1 189.6h1M387.0 187.2h1M390.2 189.9h1M396.4 189.4h1M394.0 176.0h1M395.3 185.9h1M394.1 187.4h1M399.9 182.3h1M393.5 179.1h1M388.3 182.9h1M398.9 177.2h1M385.3 190.8h1M393.1 174.2h1M397.6 189.3h1M400.3 189.4h1M392.3 179.6h1M397.4 185.5h1M400.7 181.5h1M385.5 176.1h1M393.9 158.5h1M390.0 184.5h1M390.3 186.9h1M399.1 179.7h1M387.9 174.8h1M390.5 185.3h1M382.2 179.7h1M400.6 174.7h1M390.0 187.9h1M401.9 183.4h1M405.7 159.9h1M390.9 189.8h1M392.1 169.3h1M394.9 183.9h1M398.9 179.0h1M393.2 176.5h1M394.1 180.3h1M388.3 184.5h1M408.1 177.1h1M399.7 177.6h1M398.0 180.1h1M392.0 190.7h1M385.5 172.6h1M399.7 187.6h1M396.3 184.4h1M400.7 189.6h1M398.9 187.1h1M393.2 175.6h1M397.6 190.7h1M399.2 186.1h1M408.1 163.3h1M392.2 183.9h1M402.4 186.1h1M401.6 175.9h1M394.6 184.3h1M387.7 166.5h1M405.2 190.9h1M386.1 184.3h1M388.7 186.1h1M394.3 184.9h1M391.3 188.9h1M402.5 186.2h1M386.4 176.3h1M385.9 188.4h1M392.5 177.0h1M381.9 188.1h1M377.2 186.1h1M395.9 177.2h1M390.1 173.0h1M400.3 187.7h1M404.1 188.0h1M388.2 181.3h1M404.0 186.4h1M390.1 188.9h1M384.2 172.0h1M385.8 172.3h1M393.8 188.7h1M385.0 190.8h1M397.0 186.3h1M388.1 184.3h1M393.2 173.8h1M402.8 187.8h1M401.8 190.2h1M391.7 185.2h1M395.8 189.2h1M396.2 188.8h1M386.7 180.4h1M398.1 189.7h1M398.6 190.2h1M389.9 185.7h1M390.6 178.6h1M390.7 187.5h1M401.1 174.9h1M381.2 190.4h1M388.0 186.4h1M398.9 189.0h1M392.2 189.3h1M393.3 185.9h1M401.4 158.9h1M394.9 180.4h1M386.3 182.7h1M383.5 178.2h1M383.6 171.2h1M397.0 191.0h1M396.5 181.3h1M394.3 190.3h1M395.3 189.6h1M388.1 173.4h1M395.2 186.4h1M409.0 183.2h1M384.6 186.8h1M398.7 184.2h1M395.7 189.9h1M400.8 188.1h1M393.3 189.5h1M404.8 189.4h1M404.2 190.1h1M393.4 172.0h1M395.5 160.0h1M386.1 183.7h1M395.6 190.1h1M395.8 185.1h1M383.4 190.3h1M391.0 190.3h1M400.1 164.9h1M398.5 176.6h1M403.4 189.1h1M397.4 188.6h1M392.9 187.7h1M399.4 188.6h1M390.2 183.1h1M402.2 178.6h1M394.7 182.9h1M396.5 187.4h1M396.7 163.2h1M401.5 182.3h1M394.6 183.5h1M393.1 179.6h1M402.3 190.5h1M386.7 149.3h1M406.1 185.0h1M396.1 165.9h1M405.2 190.2h1M391.5 181.1h1M400.0 189.7h1M399.6 187.6h1M402.7 190.1h1M397.6 188.3h1M395.9 182.8h1M389.7 172.0h1M387.1 165.4h1M385.9 188.3h1M403.2 167.3h1M414.2 187.3h1M397.5 188.6h1M393.8 172.1h1M405.3 188.6h1M402.9 177.0h1M400.3 182.9h1M400.5 183.2h1M396.1 179.3h1M393.7 172.8h1M390.3 175.8h1M394.4 185.7h1M394.2 177.3h1M406.2 174.5h1M393.9 190.8h1M395.0 183.4h1M403.8 189.6h1M397.1 176.8h1M404.9 188.6h1M387.3 173.0h1M396.3 187.8h1M400.3 190.6h1M394.0 187.9h1M389.1 190.3h1M401.5 168.7h1M396.9 148.7h1M384.4 190.5h1M390.0 189.1h1M383.2 186.0h1M399.6 184.9h1M409.1 174.2h1M394.9 178.0h1M403.8 187.0h1M394.7 181.6h1M397.7 186.0h1M396.8 187.3h1M400.4 189.7h1M391.9 188.7h1M392.9 186.7h1M405.2 188.7h1M394.3 173.3h1M400.4 175.8h1M392.8 181.6h1M381.7 180.4h1M390.3 181.1h1M401.6 190.0h1M392.2 190.9h1M393.8 171.1h1M387.8 156.9h1M394.9 182.9h1M399.3 190.8h1M397.1 187.6h1M396.5 185.5h1M398.3 177.5h1M404.3 174.0h1M384.6 175.9h1M391.9 178.6h1M391.5 174.4h1M402.8 188.3h1M394.4 182.3h1M395.7 189.8h1M391.1 189.8h1M396.4 170.2h1M387.2 178.3h1M409.4 182.6h1M385.6 175.2h1M395.9 189.0h1M390.0 189.0h1M393.7 188.7h1M398.6 185.6h1M380.3 189.2h1M397.5 186.6h1M400.0 170.5h1M387.5 181.6h1M393.8 189.1h1M390.2 190.4h1M400.1 187.5h1M387.0 188.1h1M391.2 190.3h1M391.6 191.0h1M393.4 159.6h1M393.2 187.4h1M379.8 177.0h1M400.5 190.7h1M387.7 188.0h1M390.1 182.9h1M400.0 189.0h1M395.2 186.1h1M396.4 189.8h1M395.1 173.4h1M396.3 188.5h1M386.5 190.6h1M394.6 183.5h1M396.5 181.5h1M390.5 178.8h1M389.3 184.2h1M392.7 180.5h1M385.2 177.9h1M399.1 177.8h1M391.7 189.2h1M396.5 187.7h1M392.9 187.5h1M394.1 189.5h1M390.8 174.6h1M394.0 190.4h1M388.3 174.0h1M403.4 186.3h1M414.8 178.7h1M404.0 183.0h1M402.3 186.4h1M410.4 176.5h1M398.2 177.4h1M403.2 182.0h1M402.3 171.4h1M399.3 182.1h1M399.8 187.0h1M409.8 182.8h1M402.9 185.6h1M403.4 181.2h1M397.8 176.5h1M399.8 175.2h1M399.7 185.1h1M401.2 180.6h1M398.3 185.5h1M402.2 186.6h1M401.8 186.7h1M399.6 186.0h1M401.3 182.8h1M409.9 170.7h1M406.5 160.0h1M400.1 186.5h1M403.6 182.7h1M405.8 186.3h1M406.0 178.2h1M411.0 181.6h1M407.4 178.6h1M401.2 183.1h1M401.8 184.3h1M407.5 178.2h1M399.3 183.1h1M407.9 179.1h1M399.6 165.3h1M402.8 181.7h1M407.0 172.7h1M402.8 185.1h1M401.7 186.8h1M407.0 181.3h1M401.7 182.5h1M401.8 164.4h1M403.1 176.8h1M402.2 179.9h1M407.2 174.9h1M397.6 170.5h1M399.1 179.8h1M397.9 182.2h1M413.2 181.3h1M403.1 179.2h1M398.5 178.2h1M415.6 179.5h1M404.5 184.9h1M402.7 172.2h1M399.8 178.3h1M401.8 166.3h1M402.6 182.4h1M404.6 179.4h1M418.7 167.9h1M409.5 164.6h1M401.8 157.8h1M397.5 182.5h1M398.4 181.9h1M409.7 184.7h1M403.2 186.1h1M398.4 182.0h1M404.9 180.9h1M412.0 181.8h1M407.8 172.8h1M409.9 184.5h1M406.8 182.5h1M414.1 184.4h1M397.9 182.0h1M410.1 187.0h1M403.8 184.9h1M410.1 180.4h1M398.6 185.7h1M405.8 175.7h1M402.4 163.2h1M408.8 182.4h1M407.4 167.7h1M398.1 183.0h1M398.0 169.6h1M406.1 173.4h1M412.8 182.9h1M400.9 177.4h1M410.9 184.4h1M415.6 183.0h1M397.6 169.7h1M408.3 173.8h1M411.6 174.1h1M406.7 161.8h1M416.9 165.8h1M406.3 186.0h1M415.7 185.0h1M405.1 156.2h1M405.9 183.0h1" stroke="#000" stroke-width="1" opacity="0.95"/>
<ellipse cx="390" cy="198.5" rx="7.5" ry="10.5" fill="url(#core)" transform="rotate(20 390 198.5)"/>
<line x1="397.6" y1="143.8" x2="397.6" y2="213.8" stroke="#000" stroke-width="1.1"/>
<line x1="365.8" y1="186.7" x2="433.9" y2="186.7" stroke="#000" stroke-width="1.1"/>
<rect x="365.8" y="143.8" width="68.09999999999997" height="70.0" fill="none" stroke="#000" stroke-width="1.3"/>
<line x1="364.2" y1="147.3" x2="365.8" y2="147.3" stroke="#000" stroke-width="0.8"/>
<line x1="369.205" y1="213.8" x2="369.205" y2="215.4" stroke="#000" stroke-width="0.8"/>
<line x1="364.2" y1="152.20000000000002" x2="365.8" y2="152.20000000000002" stroke="#000" stroke-width="0.8"/>
<line x1="373.972" y1="213.8" x2="373.972" y2="215.4" stroke="#000" stroke-width="0.8"/>
<line x1="364.2" y1="157.8" x2="365.8" y2="157.8" stroke="#000" stroke-width="0.8"/>
<line x1="379.42" y1="213.8" x2="379.42" y2="215.4" stroke="#000" stroke-width="0.8"/>
<line x1="364.2" y1="164.8" x2="365.8" y2="164.8" stroke="#000" stroke-width="0.8"/>
<line x1="386.23" y1="213.8" x2="386.23" y2="215.4" stroke="#000" stroke-width="0.8"/>
<line x1="364.2" y1="170.4" x2="365.8" y2="170.4" stroke="#000" stroke-width="0.8"/>
<line x1="391.678" y1="213.8" x2="391.678" y2="215.4" stroke="#000" stroke-width="0.8"/>
<line x1="364.2" y1="177.4" x2="365.8" y2="177.4" stroke="#000" stroke-width="0.8"/>
<line x1="398.488" y1="213.8" x2="398.488" y2="215.4" stroke="#000" stroke-width="0.8"/>
<line x1="364.2" y1="182.3" x2="365.8" y2="182.3" stroke="#000" stroke-width="0.8"/>
<line x1="403.255" y1="213.8" x2="403.255" y2="215.4" stroke="#000" stroke-width="0.8"/>
<line x1="364.2" y1="187.20000000000002" x2="365.8" y2="187.20000000000002" stroke="#000" stroke-width="0.8"/>
<line x1="408.022" y1="213.8" x2="408.022" y2="215.4" stroke="#000" stroke-width="0.8"/>
<line x1="364.2" y1="192.8" x2="365.8" y2="192.8" stroke="#000" stroke-width="0.8"/>
<line x1="413.46999999999997" y1="213.8" x2="413.46999999999997" y2="215.4" stroke="#000" stroke-width="0.8"/>
<line x1="364.2" y1="199.8" x2="365.8" y2="199.8" stroke="#000" stroke-width="0.8"/>
<line x1="420.28" y1="213.8" x2="420.28" y2="215.4" stroke="#000" stroke-width="0.8"/>
<line x1="364.2" y1="205.4" x2="365.8" y2="205.4" stroke="#000" stroke-width="0.8"/>
<line x1="425.72799999999995" y1="213.8" x2="425.72799999999995" y2="215.4" stroke="#000" stroke-width="0.8"/>
<line x1="364.2" y1="210.3" x2="365.8" y2="210.3" stroke="#000" stroke-width="0.8"/>
<line x1="430.495" y1="213.8" x2="430.495" y2="215.4" stroke="#000" stroke-width="0.8"/>
<text x="369.7" y="152.9" font-size="8.3" text-anchor="start" font-weight="bold" stroke="#fff" stroke-width="1.6" paint-order="stroke">1.56</text>
<text x="433.7" y="212.60000000000002" font-size="8.3" text-anchor="end" font-weight="bold" stroke="#fff" stroke-width="1.6" paint-order="stroke">16.62</text>
<text x="400.4" y="141" font-size="10.0" text-anchor="middle">IL-4</text>
<rect x="451.6" y="144.3" width="67.69999999999993" height="69.69999999999999" fill="#fff"/>
<path d="M477.4 200.9h1M481.2 192.2h1M469.0 203.3h1M485.5 202.7h1M474.4 203.4h1M469.8 200.1h1M467.7 200.2h1M478.3 209.3h1M472.9 204.9h1M481.0 193.6h1M473.9 188.9h1M471.2 202.1h1M466.2 197.9h1M478.3 207.8h1M464.1 201.8h1M472.4 186.4h1M470.6 203.0h1M475.0 203.6h1M473.8 203.3h1M470.8 194.0h1M474.4 189.5h1M480.5 198.1h1M470.8 194.6h1M470.8 200.3h1M473.5 204.5h1M470.0 199.1h1M468.5 196.9h1M481.1 198.9h1M479.0 199.2h1M470.3 194.5h1M470.1 201.5h1M482.4 204.4h1M470.8 200.2h1M471.9 206.3h1M469.2 204.0h1M469.7 196.9h1M475.8 200.4h1M474.8 199.2h1M471.3 198.9h1M474.8 194.2h1M477.6 200.6h1M471.8 207.0h1M472.6 188.6h1M480.6 197.4h1M481.5 202.1h1M471.2 206.0h1M477.1 204.9h1M475.3 208.5h1M479.2 197.6h1M468.5 199.3h1M475.4 193.9h1M474.2 208.2h1M473.0 206.0h1M471.0 194.0h1M479.2 198.6h1M476.0 205.5h1M482.2 192.4h1M477.6 200.9h1M475.7 209.9h1M474.0 196.1h1M477.3 187.9h1M476.7 194.4h1M476.5 195.3h1M477.3 198.1h1M471.9 202.7h1M478.4 190.3h1M469.4 198.0h1M473.4 207.2h1M482.0 202.3h1M479.9 197.7h1M469.1 201.3h1M467.3 209.0h1M476.2 206.3h1M472.2 190.2h1M474.2 202.4h1M474.1 196.6h1M475.4 198.4h1M481.2 192.0h1M465.3 199.0h1M476.3 190.7h1M474.9 202.1h1M476.5 201.3h1M471.8 191.2h1M479.3 197.5h1M469.0 208.5h1M478.3 183.3h1M486.4 200.4h1M468.0 205.1h1M476.5 206.7h1M475.1 189.9h1M474.3 197.1h1M476.3 198.5h1M477.5 192.5h1M472.6 196.6h1M476.9 189.7h1M467.1 205.5h1M475.5 205.3h1M475.3 201.0h1M476.7 202.2h1M469.8 198.8h1M483.1 207.7h1M471.3 194.1h1M474.3 205.7h1M479.1 196.1h1M464.6 199.3h1M467.7 206.5h1M481.6 203.4h1M477.7 202.8h1M483.2 205.8h1M481.4 192.9h1M472.8 199.5h1M465.2 197.9h1M475.0 199.2h1M486.2 198.4h1M474.2 198.8h1M473.5 191.3h1M480.0 199.7h1M476.6 199.7h1M471.6 190.3h1M473.8 202.6h1M474.5 203.8h1M471.6 197.8h1M475.7 198.9h1M475.8 207.8h1M473.2 200.3h1M472.2 202.7h1M476.0 195.3h1M470.6 192.6h1M473.8 200.4h1M472.9 198.9h1M480.2 213.0h1M475.6 200.8h1M483.6 201.7h1M477.9 196.6h1M472.6 204.0h1M472.4 195.7h1M468.4 201.2h1M474.6 202.7h1M471.2 192.3h1M479.9 199.7h1M478.5 192.9h1M469.3 184.9h1M476.3 205.3h1M480.9 209.8h1M467.0 193.2h1M472.7 194.9h1M474.1 194.9h1M468.5 199.3h1M475.6 195.1h1M475.2 192.0h1M473.6 197.6h1M473.0 199.1h1M469.4 191.7h1M471.3 203.8h1M470.8 194.1h1M483.8 198.0h1M473.3 194.4h1M481.5 202.6h1M476.2 208.7h1M469.7 189.8h1M479.9 202.0h1M472.7 204.1h1M474.6 210.8h1M469.4 201.6h1M479.3 204.7h1M473.4 197.2h1M473.1 203.5h1M473.2 198.7h1M479.5 198.9h1M476.1 198.8h1M475.0 186.6h1M470.9 201.6h1M472.2 195.9h1M475.2 212.8h1M471.6 194.0h1M467.1 202.2h1M474.8 194.6h1M473.2 205.2h1M479.5 201.6h1M480.1 205.4h1M473.0 204.1h1M475.7 204.0h1M476.2 211.9h1M469.4 201.6h1M470.2 213.0h1M472.7 197.4h1M474.9 199.2h1M482.6 199.2h1M476.1 205.7h1M481.7 193.9h1M476.3 191.8h1M477.2 207.7h1M472.7 197.9h1M480.3 202.1h1M478.6 196.8h1M473.6 197.4h1M481.9 190.8h1M472.7 208.6h1M474.7 193.1h1M476.0 198.2h1M474.5 202.4h1M478.5 190.8h1M475.9 208.2h1M469.1 198.9h1M469.9 203.4h1M471.2 197.6h1M473.2 202.2h1M469.2 191.3h1M475.8 207.4h1M472.8 201.9h1M476.2 200.1h1M474.9 196.3h1M473.9 206.5h1M477.0 207.0h1M471.8 200.2h1M472.1 191.8h1M479.0 197.9h1M476.1 191.2h1M473.9 198.8h1M473.3 205.4h1M477.0 200.3h1M476.0 196.9h1M471.8 197.9h1M470.5 198.5h1M474.5 206.1h1M472.7 200.3h1M474.9 195.9h1M474.7 189.1h1M479.9 196.1h1M474.9 188.9h1M477.5 192.0h1M481.0 193.4h1M471.7 203.4h1M480.6 187.9h1M467.5 209.0h1M476.9 190.6h1M473.1 203.6h1M473.3 208.3h1M471.8 200.5h1M480.1 208.2h1M476.0 202.9h1M473.5 199.1h1M472.4 201.8h1M478.7 193.6h1M469.8 199.8h1M483.8 200.8h1M475.6 199.2h1M467.6 195.3h1M481.6 187.1h1M482.9 192.4h1M481.6 198.7h1M477.6 196.3h1M473.0 200.7h1M461.1 202.8h1M473.6 193.1h1M473.7 203.3h1M471.6 201.6h1M469.0 200.0h1M469.9 204.0h1M470.4 203.1h1M466.2 200.5h1M479.8 194.6h1M475.2 194.4h1M477.1 204.0h1M480.0 207.3h1M480.7 195.2h1M475.5 202.6h1M475.8 191.7h1M475.2 184.1h1M483.0 198.4h1M484.9 193.3h1M477.3 204.2h1M468.6 197.5h1M477.1 203.4h1M476.7 184.0h1M464.4 201.6h1M482.0 190.4h1M476.7 205.0h1M470.7 190.1h1M476.1 196.9h1M474.5 198.3h1M474.4 201.3h1M472.6 199.3h1M472.5 194.3h1M476.5 194.6h1M477.3 199.3h1M479.7 203.0h1M466.1 199.3h1M477.9 200.1h1M475.1 205.9h1M477.9 191.5h1M475.4 205.4h1M475.6 191.9h1M478.4 203.1h1M480.0 200.5h1M475.5 204.5h1M470.1 209.7h1M476.7 200.8h1M478.3 204.2h1M465.2 205.0h1M474.5 194.8h1M478.9 205.1h1M476.6 195.8h1M475.4 193.8h1M486.1 195.5h1M478.8 209.2h1M471.2 196.3h1M465.1 198.0h1M469.1 200.4h1M474.0 199.5h1M475.1 196.7h1M475.4 199.1h1M471.8 197.6h1M472.4 191.8h1M474.8 188.4h1M477.3 199.3h1M475.7 206.4h1M479.2 196.9h1M476.5 206.6h1M474.3 201.7h1M476.8 193.3h1M476.2 197.1h1M473.8 202.1h1M477.8 194.1h1M473.8 198.3h1M470.8 201.7h1M474.0 195.3h1M479.1 199.0h1M469.8 198.9h1M474.1 201.2h1M484.9 202.7h1M481.3 198.4h1M477.0 202.4h1M474.5 200.9h1M473.0 203.6h1M471.0 209.7h1M458.6 191.2h1M474.4 201.6h1M475.6 189.8h1M476.8 194.2h1M475.8 197.0h1M473.7 190.4h1M469.2 196.2h1M470.2 200.9h1M468.8 200.8h1M477.4 195.0h1M470.7 197.4h1M478.4 207.7h1M484.4 200.0h1M477.7 200.6h1M474.9 193.1h1M473.4 206.1h1M481.0 195.9h1M467.8 210.7h1M475.1 202.2h1M474.2 188.7h1M476.3 193.7h1M473.7 195.8h1M481.6 187.9h1M468.1 196.5h1M472.0 204.1h1M481.8 195.1h1M477.4 198.2h1M466.2 206.5h1M482.6 194.6h1M477.7 196.4h1M474.5 196.7h1M474.3 199.7h1M472.2 201.1h1M469.2 204.3h1M470.7 188.4h1M478.6 197.4h1M472.6 204.9h1M474.8 211.1h1M476.8 191.0h1M472.7 195.5h1M473.7 209.5h1M486.9 209.7h1M476.9 202.7h1M475.7 186.3h1M481.1 211.3h1M472.6 199.3h1M471.8 198.3h1M471.1 192.7h1M480.3 187.9h1M479.5 192.7h1M473.8 187.5h1M477.8 193.5h1M485.9 193.9h1M476.0 203.4h1M470.6 194.5h1M470.2 202.8h1M476.2 205.5h1M468.6 193.9h1M474.4 196.8h1M476.3 206.2h1M475.5 194.7h1M474.8 195.2h1M472.1 210.5h1M477.9 210.4h1M474.0 199.1h1M469.4 200.9h1M478.1 203.6h1M469.8 200.1h1M479.0 196.7h1M478.0 196.5h1M474.9 196.0h1M468.4 194.5h1M475.7 197.8h1M474.9 196.0h1M478.8 198.4h1M476.7 196.6h1M480.7 198.9h1M476.9 212.6h1M476.8 190.2h1M472.0 201.4h1M469.1 190.7h1M474.4 190.1h1M479.7 202.1h1M473.6 206.7h1M471.9 192.4h1M478.9 199.6h1M473.9 205.6h1M474.3 203.3h1M475.9 206.4h1M477.4 196.7h1M481.6 197.4h1M482.6 191.9h1M475.2 186.2h1M477.2 207.5h1M473.2 202.3h1M474.0 208.0h1M476.4 201.6h1M479.8 190.4h1M478.0 200.3h1M480.7 199.7h1M477.6 199.2h1M470.6 196.5h1M474.2 191.6h1M474.8 196.7h1M483.0 198.0h1M475.5 200.0h1M478.0 189.9h1M467.3 208.9h1M471.3 194.2h1M480.1 201.3h1M471.4 203.9h1M470.0 209.2h1M473.6 201.5h1M474.9 210.9h1M470.8 198.9h1M484.4 187.4h1M472.8 201.1h1M474.0 202.1h1M480.1 192.7h1M472.1 207.3h1M483.6 183.6h1M477.4 205.4h1M472.0 194.3h1M470.0 198.3h1M469.9 203.7h1M472.0 202.6h1M468.1 204.8h1M477.9 205.1h1M479.2 199.8h1M482.1 197.4h1M475.7 209.2h1M473.0 199.5h1M476.1 200.6h1M474.0 205.5h1M484.5 197.2h1M468.5 196.7h1M468.9 191.9h1M470.4 205.8h1M475.7 203.7h1M474.5 205.6h1M473.2 207.3h1M478.9 200.8h1M468.5 193.0h1M476.1 193.3h1M474.3 198.5h1M481.1 195.4h1M475.6 196.8h1M471.7 202.1h1M479.3 191.0h1M481.6 212.8h1M475.7 202.6h1M470.4 197.1h1M476.4 199.0h1M481.1 194.3h1M473.9 202.6h1M474.7 198.0h1M474.5 201.9h1M478.3 193.2h1M471.0 192.8h1M476.9 188.5h1M485.8 196.2h1M468.8 211.7h1M475.0 202.4h1M474.2 198.0h1M484.1 187.8h1M476.1 195.1h1M473.5 199.1h1M466.9 203.2h1M475.9 202.8h1M472.4 203.9h1M473.0 204.1h1M480.9 203.2h1M468.7 199.9h1M470.5 211.0h1M475.9 192.0h1M468.3 207.4h1M470.6 201.9h1M473.6 198.7h1M473.1 199.6h1M482.1 194.3h1M477.3 202.4h1M472.1 193.0h1M471.1 202.9h1M475.7 205.6h1M476.6 200.2h1M475.1 200.9h1M475.2 203.5h1M471.2 205.9h1M482.2 199.0h1M477.5 192.6h1M475.5 191.0h1M479.4 199.8h1M479.8 206.2h1M471.8 204.3h1M481.8 212.6h1M474.6 202.7h1M472.2 203.3h1M477.7 208.1h1M474.4 199.9h1M477.2 198.5h1M484.1 186.4h1M467.5 196.6h1M478.1 199.6h1M476.9 190.6h1M477.6 202.7h1M482.2 204.4h1M472.3 195.2h1M470.0 196.7h1M474.6 206.9h1M482.3 200.0h1M477.7 198.6h1M469.3 202.7h1M471.8 190.0h1M471.3 208.3h1M469.9 207.5h1M469.0 199.1h1M477.3 197.2h1M470.8 199.6h1M482.4 203.4h1M475.9 202.9h1M480.3 207.3h1M473.8 194.4h1M470.7 199.9h1M473.7 199.6h1M472.0 207.9h1M471.2 194.9h1M469.9 193.1h1M467.8 194.7h1M474.0 203.6h1M467.2 202.1h1M474.5 199.5h1M465.5 202.4h1M478.0 206.3h1M473.7 206.8h1M475.3 194.2h1M477.3 205.3h1M476.1 199.4h1M473.9 203.5h1M467.0 201.3h1M469.3 196.5h1M475.9 206.8h1M475.0 194.1h1M487.1 201.4h1M463.1 199.0h1M471.8 196.0h1M479.7 212.1h1M475.5 191.7h1M478.9 200.1h1M473.2 200.7h1M469.9 200.7h1M476.6 206.5h1M483.9 195.9h1M476.7 194.9h1M475.6 206.3h1M477.9 197.8h1M483.0 204.8h1M480.5 200.0h1M481.0 198.7h1M478.9 199.8h1M475.0 190.5h1M479.4 202.9h1M472.3 199.9h1M477.7 203.3h1M465.8 208.3h1M470.5 210.7h1M480.1 200.4h1M475.9 201.2h1M473.2 208.4h1M472.0 196.4h1M474.0 190.2h1M479.7 192.6h1M481.8 205.1h1M484.0 196.1h1M473.7 196.9h1M478.6 194.3h1M473.6 185.9h1M475.2 200.8h1M483.9 194.6h1M479.4 202.9h1M479.0 193.0h1M459.4 196.7h1M479.4 200.6h1M481.5 212.3h1M471.9 197.1h1M481.9 189.7h1M463.8 201.2h1M476.5 208.5h1M478.3 199.3h1M472.5 188.7h1M477.4 195.9h1M473.3 201.5h1M465.9 199.0h1M472.2 211.3h1M474.5 206.2h1M470.6 190.2h1M479.0 197.5h1M469.0 205.9h1M477.3 189.3h1M474.0 211.4h1M475.5 191.5h1M471.3 207.8h1M481.8 203.6h1M468.2 204.5h1M471.3 196.5h1M472.8 206.0h1M477.4 203.0h1M473.0 196.5h1M479.9 195.9h1M473.8 202.9h1M474.2 205.4h1M477.6 203.4h1M485.5 196.3h1M484.6 191.9h1M471.5 184.6h1M472.0 194.8h1M478.3 207.1h1M485.6 196.4h1M479.9 198.4h1M466.6 174.5h1M473.4 187.9h1M479.0 193.9h1M478.0 195.5h1M477.2 193.8h1M476.9 210.5h1M476.7 191.3h1M471.5 200.4h1M478.7 192.1h1M470.9 189.8h1M483.1 201.3h1M476.5 196.9h1M483.8 203.0h1M474.6 206.9h1M477.7 197.8h1M473.4 199.6h1M481.4 190.9h1M467.5 203.6h1M479.9 208.3h1M477.7 190.4h1M478.8 200.6h1M470.4 189.8h1M468.0 199.9h1M469.2 201.7h1M474.3 203.4h1M479.0 194.0h1M473.3 204.0h1M472.1 205.7h1M477.8 205.0h1M472.3 204.3h1M474.1 200.9h1M477.9 196.1h1M474.8 185.1h1M471.9 203.3h1M470.1 186.6h1M468.5 197.7h1M478.1 202.8h1M468.6 202.0h1M469.5 206.2h1M476.8 195.6h1M472.9 199.0h1M472.4 206.6h1M476.4 196.0h1M477.1 191.1h1M475.8 197.5h1M472.4 199.1h1M476.1 190.6h1M478.6 195.9h1M476.7 209.6h1M470.2 209.6h1M473.4 211.1h1M471.3 205.9h1M472.5 207.2h1M479.1 201.6h1M471.3 205.9h1M476.7 192.9h1M477.5 198.5h1M474.5 193.5h1M476.0 204.8h1M471.3 204.4h1M466.9 200.2h1M476.2 193.7h1M475.7 191.5h1M483.4 201.9h1M479.9 193.8h1M464.9 199.0h1M481.0 198.5h1M480.2 201.9h1M476.5 205.9h1M472.4 197.0h1M479.9 202.3h1M472.6 192.9h1M481.7 179.7h1M479.1 198.6h1M469.3 202.0h1M476.3 184.1h1M470.9 204.2h1M472.9 199.1h1M474.7 208.3h1M476.5 198.5h1M472.2 205.7h1M472.0 202.0h1M476.9 204.1h1M478.5 201.2h1M483.7 204.3h1M471.7 193.9h1M472.0 207.6h1M470.2 209.1h1M476.9 195.9h1M470.7 198.9h1M478.4 199.0h1M478.2 200.5h1M481.0 196.5h1M474.5 192.6h1M473.6 193.4h1M468.4 198.1h1M478.0 185.8h1M469.5 190.9h1M476.6 202.9h1M476.4 198.4h1M471.7 200.6h1M471.2 198.1h1M476.8 197.9h1M480.2 186.2h1M468.1 205.6h1M472.6 196.6h1M472.6 199.1h1M474.3 201.7h1M479.0 210.8h1M465.8 198.8h1M471.2 200.8h1M470.7 199.9h1M476.2 199.2h1M476.0 203.5h1M470.4 199.2h1M479.6 205.2h1M479.3 194.4h1M472.1 205.5h1M475.0 201.3h1M473.5 205.1h1M475.8 193.4h1M476.6 197.4h1M473.9 202.9h1M475.7 196.0h1M470.0 196.8h1M474.4 192.2h1M472.3 199.9h1M469.7 197.5h1M476.1 200.5h1M467.7 199.7h1M470.8 206.1h1M474.6 209.1h1M476.6 192.4h1M479.1 196.5h1M474.5 200.1h1M469.4 206.6h1M475.7 193.2h1M469.1 202.3h1M480.3 202.0h1M476.4 196.9h1M479.8 202.8h1M471.6 195.8h1M465.7 206.5h1M488.0 198.8h1M476.9 204.1h1M474.1 212.5h1M470.6 194.4h1M482.0 205.1h1M478.3 198.9h1M474.8 200.4h1M476.9 195.8h1M479.5 210.1h1M472.7 193.7h1M470.9 207.7h1M472.1 194.9h1M479.7 198.5h1M474.8 203.8h1M479.9 201.0h1M481.7 195.4h1M472.8 203.7h1M477.8 189.0h1M473.7 203.7h1M474.3 210.4h1M468.2 200.8h1M471.4 189.9h1M474.0 199.2h1M473.2 195.7h1M478.7 193.2h1M472.3 191.0h1M480.0 190.6h1M482.5 194.0h1M474.8 209.4h1M470.4 207.5h1M469.4 196.7h1M477.4 201.6h1M476.5 201.5h1M481.8 189.8h1M472.0 204.9h1M468.7 195.4h1M485.6 207.7h1M477.2 200.1h1M474.3 194.2h1M471.2 193.6h1M469.5 200.4h1M476.8 193.9h1M475.6 191.5h1M476.6 197.6h1M474.7 200.8h1M480.7 200.9h1M472.2 200.5h1M476.7 202.8h1M479.6 194.6h1M469.8 203.4h1M470.1 202.3h1M486.8 207.2h1M468.6 194.6h1M476.7 197.9h1M478.0 201.1h1M476.5 203.0h1M468.2 206.5h1M468.9 194.2h1M464.5 199.6h1M476.8 197.3h1M469.8 186.4h1M477.4 192.6h1M473.4 201.1h1M474.7 202.1h1M482.2 203.9h1M470.6 199.4h1M474.0 194.4h1M477.9 197.3h1M476.0 203.5h1M484.2 195.9h1M478.2 212.7h1M482.0 201.5h1M471.8 200.6h1M472.3 197.1h1M467.5 197.9h1M466.3 205.6h1M477.3 197.2h1M475.2 200.4h1M473.9 201.4h1M474.2 202.4h1M471.5 200.1h1M482.4 194.7h1M471.5 205.4h1M476.4 200.6h1M475.8 197.2h1M472.7 202.8h1M475.8 203.6h1M475.4 208.2h1M479.3 195.1h1M482.0 196.2h1M479.5 195.1h1M476.6 200.6h1M481.3 186.6h1M466.6 205.7h1M478.3 196.6h1M475.5 189.1h1M473.4 195.7h1M478.9 201.2h1M474.3 206.7h1M472.2 204.3h1M474.0 202.5h1M473.7 208.2h1M473.1 212.0h1M478.5 194.7h1M473.1 207.9h1M481.5 192.4h1M475.8 203.5h1M485.5 203.8h1M474.2 205.4h1M475.4 194.5h1M474.9 198.4h1M474.1 200.3h1M476.6 195.0h1M478.0 190.2h1M478.0 202.8h1M476.9 190.7h1M472.8 201.0h1M477.1 204.3h1M468.3 199.9h1M479.8 192.8h1M469.7 197.0h1M473.9 198.2h1M480.5 201.5h1M466.6 204.6h1M475.5 205.0h1M474.9 208.2h1M475.7 196.9h1M469.8 205.5h1M474.4 189.2h1M478.8 207.7h1M465.9 203.3h1M477.9 210.3h1M480.4 195.4h1M477.1 204.3h1M468.6 208.6h1M477.2 205.0h1M471.1 204.9h1M474.8 198.0h1M475.2 202.0h1M468.4 199.9h1M476.7 190.1h1M478.0 199.9h1M470.5 193.2h1M469.6 205.3h1M471.2 201.1h1M473.1 205.4h1M480.7 205.5h1M478.0 206.4h1M482.6 194.7h1M476.2 196.0h1M475.3 198.6h1M475.6 204.3h1M469.3 184.2h1M476.2 206.4h1M473.3 208.9h1M485.0 200.4h1M474.1 203.1h1M478.4 190.9h1M477.2 187.5h1M470.3 201.3h1M476.4 192.7h1M475.2 207.8h1M467.8 203.4h1M480.6 191.8h1M480.3 202.7h1M473.7 200.1h1M474.9 200.2h1M474.1 195.5h1M479.0 210.3h1M474.2 208.6h1M471.6 192.2h1M477.8 201.4h1M477.0 194.2h1M473.3 206.2h1M482.1 201.6h1M476.7 184.0h1M472.2 207.9h1M483.4 195.0h1M463.9 203.1h1M469.3 197.4h1M472.4 197.7h1M470.8 204.0h1M476.4 192.0h1M468.1 212.6h1M477.5 201.3h1M470.4 200.7h1M476.5 195.6h1M475.6 197.2h1M465.9 191.6h1M472.3 196.8h1M476.9 210.1h1M473.1 200.7h1M474.0 189.8h1M474.7 198.7h1M471.3 204.6h1M476.8 198.1h1M471.1 201.8h1M471.4 194.8h1M472.8 205.8h1M473.7 199.0h1M473.5 203.6h1M474.3 205.1h1M474.3 205.2h1M473.7 195.5h1M476.8 198.8h1M473.0 208.8h1M472.8 195.3h1M473.5 208.8h1M469.1 207.1h1M477.2 197.6h1M473.5 195.6h1M466.0 194.4h1M468.8 190.3h1M473.0 203.7h1M470.8 198.0h1M471.5 198.8h1M476.6 207.4h1M477.5 202.3h1M480.9 204.4h1M477.0 203.5h1M478.5 193.8h1M471.0 200.6h1M467.1 198.4h1M473.4 202.0h1M477.9 208.0h1M464.5 201.4h1M476.3 208.8h1M472.1 202.6h1M474.2 194.3h1M475.9 205.9h1M473.3 200.6h1M479.6 198.9h1M473.4 201.9h1M476.8 202.6h1M480.2 202.8h1M469.6 190.2h1M474.4 210.3h1M475.0 197.4h1M476.0 203.3h1M480.2 192.3h1M478.2 201.2h1M478.4 206.7h1M465.0 205.7h1M477.0 195.3h1M474.2 206.5h1M468.2 205.5h1M478.3 210.8h1M471.1 196.3h1M479.2 198.4h1M476.6 184.2h1M485.3 188.8h1M467.6 203.1h1M477.0 195.1h1M465.1 203.4h1M475.8 194.5h1M475.3 196.6h1M470.3 204.4h1M474.8 200.3h1M469.3 195.8h1M473.5 196.4h1M476.3 200.3h1M473.8 199.0h1M476.5 206.3h1M470.0 205.9h1M478.7 204.9h1M472.3 201.4h1M484.0 192.0h1M478.4 198.5h1M482.0 200.9h1M478.5 196.3h1M472.6 209.9h1M469.2 196.9h1M473.6 192.4h1M477.5 192.6h1M474.9 198.6h1M465.1 201.0h1M468.0 200.2h1M464.5 196.8h1M478.3 201.8h1M479.7 210.0h1M478.0 198.9h1M474.2 203.9h1M469.3 193.7h1M474.7 210.7h1M469.9 201.6h1M471.6 204.5h1M476.3 199.9h1M478.7 198.5h1M467.4 212.9h1M474.3 202.0h1M478.2 195.1h1M472.7 195.4h1M477.3 202.5h1M475.6 192.1h1M471.1 191.2h1M468.8 195.5h1M476.0 203.1h1M466.9 203.9h1M476.3 209.8h1M478.5 190.8h1M476.9 201.5h1M476.2 195.6h1M481.0 200.6h1M472.2 188.9h1M473.6 191.6h1M468.3 210.0h1M474.4 206.0h1M479.6 204.6h1M472.9 192.8h1M474.0 200.8h1M474.1 198.2h1M475.4 191.2h1M479.4 192.8h1M475.3 194.6h1M480.7 196.6h1M470.7 197.7h1M478.6 192.4h1M469.0 196.8h1M478.1 181.9h1M474.0 205.8h1M474.2 188.6h1M472.8 203.8h1M469.8 198.2h1M471.8 202.4h1M485.6 200.5h1M469.0 210.3h1M473.4 197.4h1M476.9 204.7h1M475.7 202.2h1M475.5 192.6h1M478.2 205.4h1M471.3 189.2h1M472.1 201.1h1M481.0 201.4h1M460.4 196.2h1M475.0 201.5h1M468.0 197.8h1M475.4 204.3h1M478.3 210.2h1M471.7 197.3h1M472.8 203.1h1M483.6 201.1h1M475.5 194.3h1M469.1 211.0h1M474.4 208.8h1M478.4 196.9h1M475.9 194.4h1M477.5 199.1h1M478.2 207.7h1M472.1 205.0h1M476.7 196.7h1M476.0 207.7h1M475.5 206.1h1M476.3 207.9h1M474.2 197.9h1M477.6 185.8h1M472.5 209.5h1M471.5 211.5h1M481.9 196.9h1M471.4 202.4h1M478.8 210.9h1M481.6 195.6h1M478.6 196.8h1M479.6 202.9h1M481.2 199.5h1M478.5 192.1h1M470.5 203.2h1M475.2 205.5h1M485.0 196.1h1M469.5 193.4h1M472.0 207.2h1M476.5 198.1h1M477.8 198.9h1M475.9 199.9h1M468.8 205.0h1M475.3 196.2h1M475.6 195.4h1M474.7 197.6h1M476.3 194.2h1M474.3 197.4h1M470.5 199.5h1M477.9 204.5h1M476.2 199.2h1M479.1 198.2h1M477.8 189.1h1M469.5 195.4h1M479.9 198.3h1M476.9 193.1h1M482.2 210.9h1M474.9 195.8h1M476.0 198.4h1M472.8 184.4h1M475.9 186.1h1M472.6 190.3h1M483.8 191.9h1M473.1 202.2h1M473.4 201.4h1M479.0 195.9h1M477.2 199.1h1M469.0 201.7h1M470.0 206.4h1M474.9 201.0h1M479.4 194.7h1M471.3 208.9h1M478.1 202.6h1M465.9 200.0h1M470.6 196.1h1M467.5 189.6h1M472.9 202.2h1M472.6 198.7h1M475.2 208.3h1M472.3 200.7h1M487.3 199.7h1M478.6 192.4h1M470.1 197.0h1M488.8 195.9h1M481.3 196.7h1M469.2 188.1h1M475.6 206.5h1M471.3 197.3h1M469.9 195.2h1M479.5 196.4h1M470.1 203.7h1M476.1 199.5h1M484.3 201.7h1M480.2 192.0h1M474.6 207.8h1M478.4 205.5h1M468.2 198.0h1M482.6 209.0h1M460.8 187.9h1M481.2 204.8h1M481.0 182.2h1M475.4 204.8h1M480.6 193.7h1M479.8 204.8h1M472.6 209.8h1M480.8 205.4h1M472.8 201.6h1M474.8 210.2h1M486.3 194.4h1M484.2 202.6h1M471.8 195.2h1M482.1 201.8h1M471.9 198.6h1M473.2 199.0h1M483.4 195.5h1M473.5 180.7h1M477.3 205.7h1M484.5 195.9h1M473.6 197.3h1M469.2 199.8h1M471.3 198.3h1M475.7 204.5h1M476.5 203.1h1M477.4 199.2h1M479.5 200.7h1M468.7 196.4h1M481.9 189.6h1M483.2 200.5h1M476.2 207.6h1M476.1 196.8h1M464.7 195.9h1M469.5 204.1h1M475.5 193.8h1M480.5 205.3h1M485.4 201.4h1M469.2 200.4h1M478.6 205.3h1M468.8 202.7h1M478.2 202.2h1M467.3 196.8h1M474.4 198.3h1M479.3 197.3h1M466.3 186.4h1M477.2 194.7h1M474.8 206.6h1M472.5 199.5h1M468.2 192.1h1M477.8 207.0h1M471.9 198.5h1M476.6 196.9h1M475.3 197.2h1M477.8 196.5h1M472.8 191.1h1M471.4 190.4h1M474.3 205.9h1M468.9 194.3h1M471.4 202.5h1M473.6 197.6h1M470.5 198.0h1M473.3 194.6h1M481.7 202.7h1M474.2 201.6h1M485.8 203.5h1M472.5 199.4h1M480.4 202.5h1M473.7 200.2h1M469.7 197.6h1M473.1 198.1h1M481.4 199.8h1M480.5 199.6h1M467.9 207.2h1M472.4 198.9h1M480.2 208.3h1M475.8 207.5h1M472.7 203.6h1M470.7 205.7h1M472.3 203.7h1M469.3 208.5h1M482.7 198.0h1M475.3 193.6h1M474.1 190.6h1M478.4 199.2h1M480.5 199.6h1M473.9 194.4h1M478.0 198.8h1M469.4 190.4h1M479.5 198.9h1M474.7 196.2h1M472.5 199.5h1M475.9 192.2h1M486.7 205.2h1M466.0 200.0h1M480.3 195.6h1M468.6 202.9h1M472.1 199.5h1M482.8 199.6h1M481.3 194.7h1M466.4 197.2h1M473.2 203.7h1M477.1 187.3h1M469.7 196.9h1M471.6 195.6h1M473.4 200.5h1M467.9 193.8h1M470.7 207.0h1M474.2 190.4h1M477.3 205.3h1M467.4 192.0h1M477.1 199.9h1M477.9 209.4h1M478.1 205.7h1M472.7 208.2h1M471.7 201.6h1M465.5 197.0h1M478.7 193.9h1M472.8 186.2h1M473.4 191.5h1M475.3 196.6h1M471.8 197.5h1M473.1 199.5h1M473.8 206.6h1M480.0 184.1h1M481.3 198.2h1M476.7 193.9h1M477.9 203.0h1M472.4 192.6h1M477.4 202.2h1M470.7 186.4h1M469.8 202.0h1M481.0 193.5h1M472.3 192.8h1M476.7 194.6h1M482.9 203.1h1M474.1 197.0h1M479.8 197.1h1M473.2 200.1h1M480.0 208.2h1M473.4 192.0h1M470.8 198.4h1M478.0 183.4h1M478.1 202.0h1M476.0 190.4h1M475.5 196.3h1M470.6 203.2h1M480.9 200.6h1M477.8 205.6h1M475.2 196.9h1M482.0 195.7h1M473.7 201.5h1M473.1 193.6h1M480.2 199.3h1M471.8 195.9h1M477.8 204.4h1M476.0 206.5h1M475.0 209.1h1M479.3 192.5h1M474.7 201.4h1M475.0 193.4h1M477.3 199.0h1M468.2 191.6h1M473.3 205.1h1M475.0 200.6h1M479.5 198.1h1M475.2 199.0h1M479.3 195.4h1M476.9 195.0h1M475.5 206.1h1M471.5 202.4h1M475.5 200.8h1M477.6 199.9h1M477.4 210.4h1M472.0 192.9h1M478.6 201.8h1M484.3 195.7h1M478.5 196.1h1M472.9 195.8h1M471.4 193.7h1M473.7 198.5h1M475.4 204.4h1M471.1 198.9h1M471.2 204.5h1M471.0 197.3h1M471.6 205.9h1M469.7 192.5h1M473.4 197.3h1M471.0 206.3h1M472.7 186.8h1M474.3 191.5h1M472.2 196.5h1M471.1 196.9h1M473.4 203.2h1M486.6 195.2h1M473.1 206.3h1M482.9 204.2h1M474.0 211.1h1M475.6 206.7h1M472.7 192.0h1M481.2 194.1h1M470.5 200.3h1M471.0 203.5h1M475.5 198.2h1M472.6 208.3h1M481.4 206.3h1M469.3 209.4h1M475.6 209.8h1M477.6 195.4h1M467.7 195.4h1M480.6 196.7h1M482.6 191.7h1M478.1 198.8h1M468.9 201.7h1M473.4 197.7h1M465.8 193.4h1M472.2 198.5h1M471.4 211.8h1M473.3 200.7h1M473.7 207.1h1M477.7 205.5h1M468.2 200.4h1M474.5 203.3h1M472.2 200.3h1M470.7 197.3h1M476.7 196.4h1M471.3 198.6h1M476.6 202.0h1M469.8 196.9h1M469.9 193.4h1M485.8 206.8h1M478.3 197.7h1M479.0 208.8h1M480.7 203.8h1M478.6 204.7h1M476.7 201.7h1M473.3 189.2h1M477.3 203.6h1M475.0 204.1h1M474.4 199.0h1M477.9 189.1h1M481.4 197.1h1M477.6 203.2h1M482.3 209.7h1M469.2 193.7h1M475.8 189.6h1M477.9 198.7h1M471.5 204.6h1M476.5 188.3h1M476.9 187.1h1M478.5 169.2h1M478.0 190.8h1M473.9 189.3h1M481.6 182.5h1M479.4 179.7h1M480.3 162.2h1M473.7 186.9h1M482.3 177.2h1M480.2 175.0h1M477.7 187.7h1M477.8 162.4h1M479.9 187.6h1M474.6 185.2h1M482.2 180.8h1M474.8 184.3h1M476.4 164.0h1M480.2 191.9h1M482.8 170.1h1M473.3 189.8h1M478.3 190.8h1M479.4 187.8h1M476.1 167.7h1M477.4 180.8h1M477.9 180.1h1M482.2 180.2h1M480.0 189.3h1M481.2 181.3h1M477.4 187.0h1M471.9 185.8h1M482.2 183.8h1M478.9 187.6h1M481.9 149.8h1M480.4 172.8h1M478.4 162.8h1M475.8 187.9h1M473.2 160.2h1M479.8 183.9h1M474.9 175.3h1M480.6 191.6h1M478.4 178.8h1M482.8 167.1h1M481.0 191.2h1M481.2 176.2h1M480.0 189.0h1M479.9 189.7h1M482.8 176.3h1M474.4 176.4h1M477.3 189.2h1M479.8 190.9h1M480.9 181.5h1M480.2 191.0h1M476.0 187.3h1M477.7 190.9h1M474.5 174.5h1M482.1 175.9h1M478.4 172.9h1M480.6 190.8h1M476.4 189.2h1M479.6 191.3h1M477.8 183.0h1M482.5 170.1h1M474.4 188.7h1M473.5 187.3h1M478.1 187.7h1M480.3 183.0h1M477.2 172.5h1M480.5 175.0h1M482.1 180.7h1M477.3 180.2h1M481.2 167.1h1M477.9 182.8h1M479.6 187.5h1M474.1 180.3h1M477.4 185.7h1M479.5 152.0h1M478.2 176.9h1M480.3 183.7h1M477.9 182.4h1M478.1 184.3h1M476.1 181.5h1M479.7 186.4h1M479.6 190.4h1M482.8 168.5h1M480.0 191.9h1M479.7 185.8h1M481.4 182.2h1M480.3 189.1h1M476.7 177.1h1M482.7 171.4h1M478.2 190.1h1M476.6 191.8h1M476.5 176.2h1M474.7 180.0h1M478.3 184.3h1M479.5 190.5h1M477.7 180.5h1M482.8 162.9h1M481.9 156.3h1M475.6 189.8h1M478.8 181.6h1M475.0 190.3h1M472.9 175.7h1M479.0 157.4h1M479.2 185.3h1M478.0 167.8h1M478.4 184.1h1M475.8 185.5h1M477.2 183.7h1M480.9 180.4h1M480.0 179.0h1M480.4 180.9h1M475.6 186.3h1M478.0 187.4h1M482.3 180.0h1M478.0 191.4h1M481.8 186.6h1M475.3 172.8h1M480.1 191.3h1M478.1 184.0h1M480.9 161.1h1M482.8 156.5h1M477.1 183.0h1M477.9 175.3h1M478.0 188.0h1M477.1 182.7h1M478.3 185.5h1M481.5 173.1h1M476.6 188.1h1M475.6 187.2h1M478.9 185.1h1M480.6 186.8h1M479.2 177.2h1M475.1 190.8h1M476.8 188.8h1M480.4 189.5h1M478.3 181.4h1M473.5 166.8h1M480.4 180.6h1M479.9 190.5h1M474.3 177.6h1M479.5 190.7h1M481.5 174.2h1M473.1 189.5h1M480.2 191.8h1M478.1 176.3h1M477.2 182.2h1M474.5 191.1h1M482.8 173.4h1M479.9 186.5h1M479.2 184.1h1M476.3 176.9h1M477.5 190.1h1M475.3 176.8h1M479.9 179.1h1M474.4 180.3h1M479.4 145.5h1M482.8 188.1h1M476.4 183.7h1M475.1 187.6h1M478.0 170.9h1M480.3 182.5h1M479.0 178.4h1M477.7 191.1h1M478.6 183.1h1M481.9 188.5h1M481.8 158.9h1M478.5 166.4h1M478.3 177.1h1M479.6 177.4h1M481.6 162.9h1M474.9 155.3h1M482.0 152.3h1M475.2 191.0h1M475.5 175.8h1M480.6 167.4h1M476.9 186.4h1M480.3 181.5h1M476.8 179.3h1M479.9 186.4h1M479.8 184.7h1M474.4 155.1h1M473.5 190.2h1M478.6 191.1h1M477.7 190.6h1M482.5 182.5h1M476.3 180.8h1M478.1 183.6h1M478.1 160.9h1M482.8 191.0h1M479.9 182.1h1M479.5 191.1h1M480.0 184.8h1M480.5 184.4h1M478.7 187.2h1M477.7 185.4h1M482.4 171.4h1M482.8 184.0h1M475.7 191.3h1M479.3 178.2h1M473.8 145.9h1M482.6 174.2h1M480.3 191.0h1M474.0 177.5h1M477.9 185.8h1M481.6 188.6h1M473.3 188.3h1M481.0 184.7h1M482.7 185.8h1M478.4 190.8h1M481.8 184.6h1M479.2 190.8h1M479.9 174.2h1M482.8 186.2h1M482.8 161.5h1M482.8 173.3h1M477.3 187.9h1M475.1 181.4h1M481.5 189.3h1M479.0 190.5h1M478.5 187.0h1M476.0 172.2h1M476.3 161.6h1M475.8 189.3h1M478.0 174.8h1M479.3 174.0h1M481.5 191.0h1M479.5 169.9h1M477.3 176.4h1M477.7 157.0h1M481.0 191.7h1M477.0 186.0h1M478.6 186.8h1M482.8 167.6h1M477.9 157.7h1M482.8 181.8h1M482.8 166.8h1M480.1 190.1h1M478.8 187.0h1M477.8 187.6h1M482.3 182.9h1M481.1 190.2h1M478.2 187.7h1M480.0 186.4h1M476.7 165.4h1M476.8 165.3h1M477.2 190.0h1M480.2 183.2h1M482.7 177.0h1M480.7 189.5h1M475.1 175.3h1M479.1 187.4h1M480.2 185.7h1M477.6 178.9h1M479.0 185.8h1M482.2 168.9h1M478.8 170.6h1M475.7 190.8h1M476.5 160.8h1M482.8 190.9h1M477.7 188.9h1M478.3 188.2h1M480.6 190.7h1M474.1 186.7h1M476.1 168.6h1M481.5 166.1h1M476.3 188.2h1M475.9 192.0h1M478.8 171.7h1M482.4 183.5h1M482.8 165.6h1M482.8 183.2h1M478.9 187.1h1M479.1 178.4h1M477.4 190.8h1M472.1 191.6h1M479.3 183.0h1M480.2 184.2h1M478.7 171.0h1M480.9 180.8h1M476.1 181.9h1M475.4 178.0h1M472.1 188.7h1M479.4 177.7h1M482.2 171.5h1M478.7 190.8h1M480.8 173.4h1M479.4 184.4h1M479.1 170.6h1M481.2 186.4h1M478.7 190.5h1M480.2 171.5h1M480.4 175.9h1M477.5 189.1h1M474.4 146.9h1M476.8 170.7h1M478.6 188.3h1M482.8 190.2h1M480.4 147.9h1M476.9 180.4h1M476.8 162.0h1M478.4 179.7h1M478.4 187.4h1M481.3 186.8h1M482.4 179.2h1M477.6 174.3h1M482.5 172.1h1M480.5 190.9h1M482.0 191.8h1M481.8 191.6h1M478.5 187.4h1M482.2 175.8h1M476.9 185.1h1M481.4 172.4h1M476.3 165.3h1M478.3 184.5h1M480.5 190.7h1M478.9 176.5h1M479.7 186.6h1M478.4 175.0h1M478.4 176.9h1M475.5 165.3h1M476.6 189.0h1M477.7 186.7h1M481.3 186.2h1M474.0 188.5h1M479.9 185.6h1M478.9 185.2h1M478.7 177.2h1M478.2 191.5h1M479.8 173.1h1M481.9 189.2h1M478.7 189.8h1M478.5 187.2h1M482.8 180.9h1M481.4 169.1h1M475.5 191.6h1M479.7 156.7h1M477.4 167.3h1M482.7 185.2h1M476.3 170.8h1M482.8 160.7h1M476.9 182.9h1M480.4 180.3h1M476.5 179.1h1M474.3 188.2h1M479.7 168.4h1M474.2 190.6h1M474.5 185.5h1M482.2 189.7h1M482.8 191.6h1M480.0 186.5h1M477.3 184.1h1M479.4 174.7h1M481.2 177.7h1M480.1 179.4h1M476.9 186.3h1M478.1 156.8h1M476.7 183.7h1M479.3 190.4h1M473.0 178.3h1M476.1 191.9h1M480.0 191.5h1M477.5 187.8h1M479.0 185.2h1M479.3 191.7h1M479.8 186.1h1M480.2 185.8h1M482.8 173.1h1M480.4 187.7h1M476.8 171.0h1M476.7 188.4h1M482.8 179.2h1M477.7 181.1h1M478.7 163.3h1M478.5 183.3h1M479.8 175.4h1M481.5 172.0h1M481.7 191.1h1M473.6 175.4h1M482.8 182.5h1M478.0 173.9h1M479.3 186.6h1M482.8 190.8h1M482.3 183.8h1M477.8 185.5h1M475.7 174.5h1M479.1 184.9h1M482.8 148.2h1M480.2 163.1h1M477.4 184.4h1M478.1 189.5h1M480.3 191.5h1M479.5 177.0h1M481.7 161.4h1M476.4 154.2h1M472.3 165.7h1M478.8 180.4h1M479.8 186.1h1M479.6 154.1h1M478.9 187.7h1M477.0 183.5h1M474.9 172.7h1M479.8 170.0h1M480.7 180.1h1M475.7 190.7h1M476.8 188.5h1M478.1 157.3h1M478.9 166.6h1M480.9 182.0h1M480.2 161.8h1M477.8 184.9h1M481.9 186.6h1M476.5 186.3h1M481.7 191.0h1M481.3 161.4h1M478.9 185.7h1M481.5 183.6h1M480.0 186.3h1M478.5 181.9h1M473.3 181.9h1M478.4 177.7h1M477.7 184.4h1M476.6 188.9h1M482.8 177.4h1M482.8 190.4h1M480.6 185.1h1M476.6 171.7h1M477.8 172.2h1M482.8 177.6h1M479.7 173.8h1M480.2 179.8h1M474.7 181.5h1M482.8 189.6h1M480.0 187.0h1M482.0 180.5h1M479.6 190.7h1M479.5 190.5h1M476.3 180.6h1M482.8 189.7h1M472.4 149.5h1M474.4 190.1h1M478.6 166.1h1M477.9 186.9h1M474.8 184.2h1M474.5 187.0h1M482.8 177.5h1M480.5 177.2h1M481.2 187.8h1M480.3 189.8h1M480.5 166.4h1M480.3 165.8h1M477.1 186.8h1M477.4 161.8h1M479.9 154.0h1M480.1 187.9h1M481.2 190.6h1M478.3 187.0h1M482.5 179.8h1M474.7 182.2h1M476.6 155.7h1M480.0 185.5h1M481.9 185.9h1M481.3 187.1h1M482.8 183.9h1M477.6 158.6h1M480.6 190.5h1M478.9 190.6h1M476.7 153.9h1M478.5 188.9h1M476.6 175.6h1M479.0 191.5h1M476.7 186.3h1M476.7 173.0h1M478.3 183.7h1M479.7 190.1h1M482.4 176.0h1M481.0 189.5h1M478.7 180.7h1M479.1 182.9h1M480.4 189.3h1M477.6 188.7h1M476.0 161.0h1M474.2 171.9h1M477.6 188.1h1M479.4 182.7h1M481.3 174.6h1M480.6 191.8h1M480.5 171.1h1M482.4 180.5h1M477.4 184.7h1M477.7 192.0h1M481.4 188.6h1M476.5 179.5h1M479.4 189.9h1M474.2 188.8h1M482.8 146.6h1M479.1 160.0h1M482.8 182.9h1M478.8 170.2h1M481.2 189.6h1M482.8 166.6h1M479.5 172.5h1M474.8 186.9h1M481.3 178.8h1M473.1 177.0h1M479.3 175.8h1M481.8 180.5h1M477.6 191.8h1M478.5 183.5h1M482.8 190.0h1M477.5 185.0h1M482.8 171.0h1M475.4 191.1h1M477.3 190.1h1M479.8 179.6h1M478.5 153.0h1M476.6 176.0h1M476.2 171.8h1M478.6 187.2h1M480.3 179.1h1M479.6 183.9h1M481.6 186.6h1M475.0 182.0h1M473.7 171.0h1M479.6 166.6h1M482.8 190.5h1M481.9 188.3h1M479.3 191.9h1M481.7 183.2h1M482.8 178.8h1M479.0 155.8h1M472.1 177.5h1M481.4 184.9h1M482.8 191.5h1M482.8 185.0h1M477.0 185.7h1M482.8 191.3h1M478.5 180.5h1M479.4 156.6h1M475.4 181.2h1M472.9 181.4h1M478.5 187.1h1M478.7 183.8h1M473.2 176.1h1M477.5 186.6h1M482.8 191.0h1M478.6 182.4h1M478.2 179.7h1M481.7 168.2h1M477.9 181.0h1M472.3 190.5h1M474.1 186.8h1M482.5 188.7h1M480.7 180.5h1M479.3 189.3h1M482.4 158.4h1M481.9 189.6h1M477.4 181.6h1M480.8 167.9h1M482.8 190.3h1M481.5 188.2h1M482.2 190.3h1M479.4 166.0h1M479.7 190.1h1M481.0 191.7h1M480.0 172.1h1M475.6 158.7h1M477.6 174.0h1M478.2 191.9h1M482.8 177.4h1M477.6 190.3h1M480.7 155.0h1M474.4 184.7h1M475.0 184.8h1M482.8 177.5h1M479.0 181.2h1M477.1 170.6h1M481.1 186.7h1M478.8 184.0h1M479.1 177.9h1M479.2 174.4h1M477.7 185.3h1M479.8 190.3h1M478.3 187.8h1M478.3 191.3h1M472.7 177.0h1M478.9 190.3h1M481.7 190.8h1M482.2 180.3h1M480.3 164.1h1M479.3 185.4h1M478.6 175.0h1M479.8 181.5h1M478.7 185.7h1M477.8 187.0h1M482.0 182.3h1M479.2 183.0h1M478.5 183.7h1M476.0 189.4h1M477.3 184.7h1M480.1 178.2h1M477.0 173.9h1M479.3 190.1h1M481.9 189.1h1M474.0 189.4h1M478.3 182.7h1M478.7 183.2h1M479.4 174.0h1M477.2 190.9h1M476.1 185.9h1M478.7 183.4h1M476.7 177.6h1M482.8 192.0h1M476.9 178.1h1M480.1 168.9h1M480.2 158.3h1M473.1 181.7h1M482.8 164.2h1M479.5 160.5h1M477.7 183.1h1M479.6 189.8h1M484.9 203.9h1M496.0 185.8h1M488.8 192.3h1M497.9 190.2h1M491.0 203.0h1M485.0 204.1h1M486.5 194.8h1M498.2 207.1h1M485.4 199.0h1M486.3 198.0h1M490.1 200.0h1M485.4 191.7h1M497.8 203.2h1M491.0 196.2h1M485.0 196.5h1M486.8 199.2h1M488.5 194.8h1M487.1 202.0h1M487.4 202.2h1M511.6 196.9h1M484.7 186.7h1M488.8 201.2h1M494.6 202.1h1M494.7 205.3h1M486.0 204.9h1M496.2 189.2h1M498.0 203.4h1M493.9 201.2h1M484.7 198.9h1M484.9 193.1h1M494.3 204.8h1M491.9 199.1h1M490.8 205.9h1M506.0 206.5h1M490.3 194.6h1M491.1 202.8h1M488.1 200.0h1M490.8 200.6h1M496.7 201.4h1M503.9 204.3h1M491.3 194.1h1M505.1 203.8h1M488.2 203.3h1M486.4 192.9h1M484.5 202.9h1M495.0 191.7h1M496.6 198.1h1M501.6 206.0h1M492.2 203.1h1M490.7 194.0h1M487.9 189.2h1M498.3 202.2h1M487.8 200.2h1M489.0 201.0h1M491.9 197.4h1M500.9 194.1h1M484.9 202.1h1M503.7 189.3h1M502.5 197.0h1M487.3 199.2h1M503.3 192.8h1M486.9 203.1h1M491.9 202.2h1M484.3 205.9h1M492.4 209.7h1M487.9 202.1h1M491.9 195.8h1M492.3 203.3h1M485.1 204.8h1M512.8 184.1h1M502.3 200.9h1M499.1 206.2h1M491.0 199.7h1M491.0 212.8h1M497.3 188.9h1M489.3 197.8h1M496.7 201.8h1M490.2 196.9h1M483.7 210.5h1M484.1 196.4h1M487.0 205.1h1M486.2 210.8h1M491.4 200.7h1M484.2 197.6h1M505.1 207.2h1M497.2 198.4h1M485.8 191.1h1M485.2 200.9h1M484.1 200.1h1M492.4 204.2h1M490.5 196.1h1M488.1 199.7h1M498.1 190.6h1M486.3 199.8h1M484.0 207.3h1M503.1 202.3h1M485.5 191.4h1M489.4 208.7h1M497.0 200.0h1M492.2 200.0h1M487.5 205.9h1M499.2 199.5h1M489.3 199.3h1M495.0 200.9h1M494.7 202.6h1M495.3 196.5h1M490.3 190.3h1M490.0 202.9h1M485.0 209.1h1M489.9 196.0h1M483.6 198.9h1M483.4 208.1h1M494.9 193.6h1M501.4 189.6h1M489.6 207.2h1M484.6 203.0h1M489.4 209.1h1M485.2 196.4h1M497.1 193.3h1M487.8 200.0h1M499.3 203.8h1M486.4 194.8h1M488.3 190.7h1M490.3 208.6h1M485.8 192.5h1M489.2 199.0h1M486.2 201.1h1M490.8 180.9h1M490.0 187.9h1M487.5 200.6h1M493.0 195.9h1M495.6 194.6h1M494.7 196.5h1M489.8 207.0h1M488.5 198.8h1M486.1 209.9h1M485.9 192.7h1M483.6 192.0h1M485.4 205.4h1M486.6 205.7h1M494.5 211.6h1M486.5 203.6h1M490.8 205.0h1M492.1 203.0h1M489.8 205.7h1M487.9 203.6h1M486.0 199.5h1M500.0 199.4h1M483.7 196.4h1M487.3 207.9h1M485.6 185.6h1M488.1 199.1h1M494.7 201.8h1M488.2 196.5h1M488.4 189.8h1M489.2 200.1h1M489.7 200.3h1M493.6 205.8h1M490.7 207.2h1M485.6 199.9h1M483.4 203.0h1M498.8 201.7h1M483.7 194.3h1M488.3 207.3h1M486.8 199.3h1M497.1 193.8h1M483.6 197.3h1M487.9 198.8h1M488.4 198.2h1M492.0 204.6h1M493.0 200.3h1M484.9 191.7h1M499.5 206.3h1M486.1 207.7h1M497.7 204.8h1M486.8 208.0h1M484.4 197.4h1M492.3 204.1h1M487.9 197.3h1M486.6 196.8h1M488.7 196.7h1M484.5 200.2h1M490.6 184.2h1M484.6 210.5h1M483.8 196.2h1M501.6 196.7h1M489.7 201.4h1M484.5 193.6h1M484.8 201.2h1M500.0 190.3h1M497.3 203.4h1M496.9 182.0h1M486.3 207.1h1M499.9 190.4h1M496.9 194.3h1M491.3 198.9h1M498.0 198.7h1M490.5 198.9h1M493.0 201.6h1M499.7 206.4h1M497.9 200.8h1M502.8 199.2h1M487.1 195.2h1M501.0 199.9h1M487.3 190.6h1M487.9 201.3h1M490.2 203.6h1M496.0 190.5h1M493.5 207.0h1M499.3 192.1h1M484.4 199.5h1M483.9 194.6h1M486.4 199.1h1M485.0 201.3h1M485.4 198.7h1M493.6 204.3h1M484.0 200.7h1M495.7 191.4h1M500.8 200.0h1M498.9 193.1h1M485.3 201.1h1M486.5 195.0h1M496.7 195.3h1M490.8 199.6h1M491.7 198.0h1M493.6 202.5h1M494.3 201.8h1M487.4 197.4h1M486.3 193.2h1M491.6 197.9h1M500.7 207.4h1M487.7 194.9h1M499.4 199.9h1M486.8 197.5h1M484.4 202.8h1M490.5 199.5h1M485.8 209.3h1M489.3 199.2h1M492.7 198.9h1M490.6 197.6h1M486.4 204.9h1M492.4 196.2h1M484.9 199.6h1M492.4 205.5h1M485.5 203.1h1M501.3 202.0h1M484.7 199.6h1M485.7 192.3h1M486.8 205.1h1M489.6 201.1h1M488.2 194.9h1M496.8 186.9h1M486.4 195.1h1M487.5 201.3h1M484.3 206.0h1M500.4 203.1h1M491.7 200.0h1M490.3 194.9h1M487.0 205.8h1M490.5 202.0h1M490.1 205.4h1M493.7 190.9h1M489.9 194.5h1M486.3 199.3h1M490.9 192.0h1M500.4 202.1h1M489.1 207.8h1M495.5 203.2h1M487.8 194.9h1M491.3 210.0h1M483.8 199.8h1M486.6 207.6h1M486.5 205.3h1M499.3 195.0h1M486.3 193.9h1M500.5 187.1h1M486.8 203.3h1M487.3 199.5h1M485.7 196.1h1M507.6 211.6h1M483.5 211.2h1M483.5 206.8h1M495.5 196.4h1M504.0 207.4h1M500.6 190.6h1M487.8 199.4h1M485.6 203.7h1M484.3 203.7h1M490.6 190.1h1M499.7 201.6h1M486.9 192.7h1M487.4 199.7h1M487.7 200.7h1M492.7 208.7h1M486.5 197.6h1M489.9 190.9h1M489.7 197.7h1M502.2 212.0h1M485.7 198.6h1M493.9 203.4h1M487.4 192.5h1M486.4 209.6h1M496.7 199.8h1M502.8 198.7h1M489.7 210.0h1M485.4 205.8h1M498.1 204.0h1M486.2 212.1h1M496.8 192.9h1M485.3 196.1h1M484.8 188.2h1M497.8 204.5h1M485.0 202.6h1M486.8 199.9h1M496.9 211.1h1M492.7 191.6h1M487.3 202.2h1M487.1 199.7h1M485.2 188.4h1M490.0 203.0h1M492.0 198.8h1M484.1 198.3h1M483.7 190.4h1M483.9 202.6h1M486.8 202.8h1M488.4 200.9h1M492.0 200.5h1M485.3 200.4h1M488.1 191.9h1M483.8 205.3h1M491.4 203.6h1M487.4 197.3h1M493.4 194.3h1M493.9 190.8h1M484.6 191.4h1M501.5 204.4h1M490.4 192.8h1M485.8 202.1h1M498.3 209.2h1M492.1 201.5h1M491.6 195.5h1M487.6 205.8h1M495.7 200.2h1M483.9 198.2h1M483.5 189.8h1M490.7 197.1h1M500.9 212.5h1M487.5 212.2h1M496.0 194.9h1M485.6 207.6h1M489.8 197.8h1M505.9 191.1h1M493.8 195.5h1M489.8 201.6h1M485.6 197.7h1M495.6 201.5h1M488.8 199.7h1M495.6 197.1h1M490.9 201.7h1M495.2 210.2h1M493.7 188.6h1M492.6 202.0h1M486.4 197.2h1M490.0 207.6h1M487.5 196.6h1M483.7 201.9h1M495.0 196.0h1M487.9 200.9h1M495.7 202.0h1M501.1 203.9h1M495.1 197.1h1M488.9 195.1h1M490.7 196.4h1M484.1 192.2h1M491.6 202.1h1M500.8 205.3h1M491.9 203.3h1M484.3 193.3h1M489.3 200.6h1M489.1 202.6h1M486.2 196.0h1M496.3 197.0h1M484.4 206.7h1M488.0 198.1h1M487.4 198.0h1M487.8 193.0h1M485.4 197.7h1M490.7 206.4h1M483.5 204.9h1M489.6 210.1h1M488.2 199.3h1M486.6 197.0h1M490.4 200.0h1M491.2 204.9h1M483.7 203.7h1M485.2 197.2h1M499.4 198.2h1M491.2 207.7h1M485.2 209.3h1M503.9 207.4h1M504.7 194.3h1M487.7 193.6h1M495.3 192.0h1M491.3 195.1h1M486.2 203.7h1M486.9 209.8h1M494.0 204.6h1M498.2 203.4h1M485.0 207.0h1M492.7 191.6h1M493.2 206.5h1M503.4 212.9h1M484.8 208.9h1M493.7 201.4h1M489.4 194.9h1M485.8 191.1h1M483.5 204.4h1M489.9 193.3h1M488.4 205.9h1M491.5 196.8h1M486.9 208.7h1M491.2 202.2h1M485.4 199.1h1M488.8 204.5h1M483.8 201.8h1M495.6 199.3h1M497.5 201.5h1M495.4 197.3h1M484.2 209.2h1M502.4 199.9h1M484.6 201.0h1M493.1 208.4h1M493.9 204.7h1M487.3 193.7h1M486.3 210.6h1M494.0 201.5h1M489.4 206.9h1M496.4 192.2h1M486.7 192.1h1M492.1 190.9h1M483.9 197.1h1M492.2 196.9h1M485.0 210.7h1M489.1 208.0h1M496.0 203.3h1M486.1 189.7h1M498.6 197.6h1M485.9 207.1h1M490.1 198.2h1M501.9 193.2h1M484.9 199.5h1M489.5 209.5h1M497.5 198.4h1M498.2 195.8h1M497.2 187.7h1M498.2 200.2h1M486.5 195.6h1M487.2 199.0h1M486.7 200.8h1M494.3 192.8h1M491.0 201.9h1M485.2 195.6h1M486.4 205.2h1M491.6 204.8h1M483.6 205.4h1M485.7 199.0h1M485.2 204.2h1M496.2 200.3h1M504.9 201.5h1M487.5 200.3h1M492.2 206.0h1M496.1 206.0h1M485.2 195.2h1M506.3 196.0h1M486.5 202.8h1M490.6 201.1h1M485.2 196.9h1M492.5 200.4h1M487.1 194.0h1M484.5 200.8h1M491.2 202.8h1M495.5 205.8h1M489.6 206.5h1M484.2 200.5h1M495.2 204.9h1M487.2 201.4h1M483.6 204.5h1M487.4 202.7h1M491.1 199.2h1M497.7 190.7h1M498.0 203.8h1M483.5 190.8h1M494.0 195.7h1M494.6 204.2h1M498.0 191.8h1M484.5 192.5h1M488.8 196.5h1M483.8 203.8h1M489.6 196.9h1M485.7 210.3h1M487.0 197.9h1M491.7 199.3h1M495.5 204.3h1M497.9 193.2h1M490.2 192.5h1M484.0 199.4h1M486.4 199.5h1M489.4 197.0h1M485.3 198.3h1M485.8 196.1h1M490.3 202.1h1M488.6 192.2h1M485.6 206.5h1M489.0 200.2h1M501.4 209.8h1M488.0 208.9h1M485.5 197.9h1M485.4 188.4h1M483.6 197.0h1M495.4 203.7h1M497.3 197.3h1M496.5 201.1h1M488.1 202.7h1M494.5 205.8h1M487.3 204.1h1M483.7 194.0h1M486.0 202.0h1M485.9 210.7h1M494.2 200.7h1M486.5 209.2h1M483.7 207.4h1M495.4 187.7h1M490.2 205.9h1M484.7 199.1h1M487.5 203.4h1M483.9 200.3h1M485.5 206.9h1M489.7 184.0h1M486.5 198.2h1M493.0 204.6h1M487.9 199.6h1M504.0 199.3h1M493.0 200.9h1M489.6 207.9h1M494.9 197.9h1M491.1 208.2h1M495.3 197.9h1M486.6 201.7h1M483.8 194.4h1M491.2 202.5h1M486.3 210.0h1M500.2 201.7h1M486.9 198.4h1M484.3 193.4h1M489.5 196.9h1M488.0 204.8h1M505.2 190.1h1M488.7 193.4h1M483.5 189.1h1M485.3 201.4h1M486.9 197.4h1M487.1 204.8h1M486.4 193.5h1M487.8 201.9h1M485.8 189.5h1M496.6 190.0h1M499.5 202.8h1M484.9 192.7h1M502.2 212.8h1M488.9 184.7h1M497.7 202.5h1M483.7 201.7h1M491.4 187.6h1M485.9 192.1h1M486.9 198.8h1M487.1 195.4h1M484.9 197.6h1M485.7 204.8h1M490.9 198.9h1M490.9 205.2h1M489.9 206.5h1M492.8 200.8h1M492.2 195.3h1M494.2 200.9h1M490.5 196.5h1M485.3 212.1h1M492.1 190.2h1M489.4 201.0h1M492.7 206.1h1M491.0 207.8h1M489.6 205.4h1M491.1 192.5h1M487.8 208.0h1M495.4 193.3h1M485.8 200.6h1M488.5 202.2h1M496.6 201.7h1M485.2 198.5h1M493.1 198.5h1M488.1 197.5h1M493.7 186.7h1M485.9 195.1h1M490.6 197.7h1M491.6 204.6h1M487.3 200.6h1M490.2 209.6h1M485.9 198.6h1M484.1 187.1h1M494.6 200.1h1M493.7 194.8h1M496.2 196.0h1M483.6 212.7h1M487.7 200.2h1M484.7 200.8h1M484.7 199.1h1M487.2 197.4h1M495.2 204.4h1M493.4 196.8h1M486.2 206.0h1M500.6 207.0h1M500.8 196.2h1M490.9 197.9h1M490.4 205.9h1M484.2 198.8h1M492.0 207.4h1M497.3 195.9h1M489.5 211.5h1M486.1 202.8h1M488.8 201.4h1M502.2 204.1h1M488.0 202.8h1M484.5 194.0h1M497.1 193.9h1M483.7 204.6h1M493.3 206.1h1M501.7 206.3h1M499.4 205.1h1M486.2 189.3h1M492.0 199.2h1M486.7 191.8h1M494.6 200.0h1M487.1 195.2h1M484.1 202.9h1M488.7 200.8h1M485.3 200.5h1M487.1 207.3h1M484.5 196.5h1M498.7 194.2h1M487.3 200.8h1M484.8 199.5h1M491.9 206.4h1M495.2 211.8h1M493.8 193.6h1M489.4 193.8h1M494.0 205.3h1M487.8 202.5h1M495.9 206.6h1M487.4 197.1h1M487.0 197.5h1M485.6 205.6h1M485.7 191.3h1M498.0 199.7h1M486.4 189.9h1M483.6 192.1h1M497.5 197.1h1M495.7 199.3h1M491.6 200.5h1M491.7 189.3h1M485.0 198.2h1M490.5 204.3h1M490.8 199.5h1M484.1 202.3h1M491.5 201.2h1M493.3 204.1h1M504.6 204.1h1M486.2 196.6h1M497.0 203.3h1M488.5 202.9h1M484.7 208.1h1M484.3 188.3h1M484.6 201.2h1M490.3 203.6h1M489.5 203.0h1M486.0 192.8h1M486.1 206.4h1M498.0 183.5h1M484.6 197.4h1M491.0 187.8h1M488.3 201.2h1M490.5 189.3h1M499.9 198.5h1M483.9 203.9h1M500.3 195.7h1M484.7 198.0h1M491.8 205.9h1M497.4 197.3h1M494.2 196.1h1M500.4 202.2h1M501.7 202.7h1M492.7 202.7h1M496.5 199.3h1M484.6 200.3h1M489.0 202.2h1M485.6 201.1h1M490.6 203.4h1M486.2 194.7h1M484.0 191.4h1M496.0 193.1h1M486.8 197.6h1M483.8 201.8h1M485.9 198.9h1M490.7 203.9h1M485.6 211.3h1M493.6 199.5h1M486.7 197.0h1M502.3 201.7h1M486.8 189.6h1M487.0 192.6h1M488.2 202.4h1M484.5 196.6h1M490.7 196.1h1M497.0 195.1h1M486.1 202.6h1M495.6 197.4h1M493.4 201.6h1M488.2 204.5h1M483.7 185.3h1M490.0 203.6h1M504.7 198.7h1M495.9 192.8h1M491.6 209.1h1M484.5 198.3h1M492.5 204.0h1M485.3 203.5h1M484.0 200.3h1M488.8 206.7h1M484.7 207.8h1M491.2 195.5h1M493.5 206.5h1M486.7 197.8h1M492.5 187.5h1M488.3 197.8h1M489.8 196.4h1M487.7 204.3h1M486.5 191.1h1M487.9 204.4h1M498.2 194.1h1M493.6 193.9h1M489.6 211.9h1M492.4 194.1h1M485.7 208.3h1M487.1 206.0h1M492.4 197.5h1M486.7 206.2h1M485.2 210.1h1M486.7 209.9h1M492.4 201.5h1M504.9 191.2h1M488.4 197.5h1M485.5 203.3h1M496.4 189.4h1M489.9 201.9h1M491.6 205.2h1M486.0 196.8h1M487.6 194.2h1M495.2 198.0h1M503.1 194.0h1M495.1 198.9h1M498.5 196.9h1M494.0 196.0h1M485.2 203.5h1M489.9 201.3h1M504.2 200.2h1M490.3 200.0h1M486.5 201.7h1M490.6 198.2h1M489.6 200.1h1M500.8 207.1h1M486.4 212.0h1M491.0 202.2h1M491.7 204.9h1M488.6 208.1h1M484.0 186.5h1M493.7 204.2h1M489.8 206.3h1M487.6 197.2h1M484.2 200.3h1M483.4 206.3h1M491.9 198.1h1M494.9 199.2h1M488.0 196.7h1M483.6 208.1h1M497.4 200.3h1M489.2 209.4h1M500.5 198.9h1M492.5 199.2h1M484.1 199.7h1M492.0 197.5h1M485.9 189.5h1M490.8 181.5h1M491.5 200.7h1M498.4 190.7h1M489.9 210.2h1M487.4 193.1h1M488.1 189.8h1M492.1 189.2h1M499.2 204.4h1M494.7 202.8h1M490.3 206.1h1M487.3 195.5h1M498.3 199.8h1M494.5 198.2h1M501.9 188.5h1M491.7 203.4h1M484.3 198.3h1M484.8 194.0h1M490.0 209.9h1M489.0 190.3h1M483.5 189.2h1M500.8 199.3h1M486.8 201.1h1M488.1 195.3h1M493.3 212.4h1M483.7 206.7h1M496.5 198.1h1M488.2 197.5h1M486.3 193.7h1M491.6 198.4h1M490.5 204.3h1M495.9 194.4h1M485.3 198.9h1M487.8 204.9h1M484.7 194.1h1M489.0 205.4h1M499.7 201.1h1M493.4 195.3h1M495.0 194.1h1M509.8 207.8h1M492.6 195.1h1M486.9 191.8h1M488.3 193.0h1M485.7 203.6h1M485.8 206.1h1M488.3 207.3h1M489.6 196.2h1M496.8 202.0h1M489.2 200.0h1M496.0 204.0h1M486.2 189.5h1M485.2 202.2h1M494.4 209.2h1M486.0 209.4h1M494.8 211.3h1M495.5 200.8h1M486.7 210.2h1M492.5 198.5h1M493.2 199.4h1M491.0 192.6h1M488.0 207.9h1M507.9 193.7h1M494.6 203.9h1M485.2 197.2h1M484.9 208.4h1M490.0 195.1h1M487.7 192.1h1M493.2 187.0h1M487.5 205.7h1M498.6 203.2h1M501.5 198.7h1M491.5 204.0h1M486.5 196.3h1M501.1 196.9h1M484.4 195.6h1M491.4 202.4h1M486.6 201.0h1M492.8 195.3h1M492.1 192.7h1M491.0 202.5h1M487.6 204.5h1M485.0 188.8h1M498.4 201.3h1M484.9 200.3h1M486.6 198.4h1M495.8 192.4h1M499.1 179.0h1M489.7 159.1h1M487.1 171.9h1M493.9 177.3h1M494.0 171.6h1M490.8 184.0h1M491.0 178.0h1M485.8 171.8h1M486.0 184.6h1M492.3 167.4h1M491.9 176.3h1M509.2 178.0h1M492.3 172.9h1M493.4 183.8h1M502.3 179.7h1M490.2 171.8h1M485.6 179.3h1M491.9 180.2h1M485.5 176.7h1M490.8 183.7h1M493.6 167.0h1M488.2 178.4h1M485.9 147.1h1M489.6 180.0h1M502.2 183.2h1M490.1 153.8h1M486.8 184.4h1M485.8 184.9h1M486.0 180.6h1M501.4 182.9h1M490.6 180.8h1M497.4 168.1h1M486.7 182.5h1M489.5 175.7h1M490.2 162.8h1M489.5 177.3h1M489.7 179.5h1M493.7 160.8h1M498.0 171.0h1M496.5 180.3h1M487.7 168.0h1M493.2 164.7h1M501.4 166.1h1M495.6 176.5h1M487.1 169.8h1M493.3 177.6h1M489.6 155.5h1M486.2 182.6h1M491.7 162.9h1M486.4 168.0h1M490.6 181.0h1M485.6 155.1h1M487.8 177.4h1M492.3 183.2h1M491.3 164.4h1M485.4 182.8h1M486.8 182.9h1M493.5 172.6h1M490.5 150.0h1M494.9 168.4h1M493.7 178.3h1M489.7 183.4h1M487.7 176.3h1M489.6 172.1h1M492.7 155.8h1M490.9 154.9h1M494.7 176.0h1M496.6 175.4h1M503.9 177.3h1M494.5 184.8h1M493.8 169.8h1M494.9 181.5h1M494.6 181.7h1M489.4 174.2h1M487.1 160.7h1M492.3 155.7h1M487.2 175.8h1M485.2 165.8h1M492.1 182.9h1M495.8 175.3h1M492.9 183.9h1M485.1 173.7h1M489.5 154.3h1M488.8 177.3h1M496.7 170.3h1M493.0 179.3h1M486.7 176.1h1M498.0 171.9h1M485.9 179.2h1M486.6 175.9h1M498.0 174.0h1M486.9 161.1h1M486.3 180.4h1M486.0 164.5h1M493.1 156.5h1M489.2 176.7h1M486.8 183.6h1M493.3 183.7h1M485.5 148.4h1M485.9 171.6h1M486.6 166.9h1M486.6 181.6h1M485.9 164.8h1" stroke="#000" stroke-width="1" opacity="0.95"/>
<ellipse cx="475" cy="199" rx="7" ry="10.5" fill="url(#core)" transform="rotate(20 475 199)"/>
<line x1="483.3" y1="144.3" x2="483.3" y2="214" stroke="#000" stroke-width="1.1"/>
<line x1="451.6" y1="187.2" x2="519.3" y2="187.2" stroke="#000" stroke-width="1.1"/>
<rect x="451.6" y="144.3" width="67.69999999999993" height="69.69999999999999" fill="none" stroke="#000" stroke-width="1.3"/>
<line x1="450.0" y1="147.78500000000003" x2="451.6" y2="147.78500000000003" stroke="#000" stroke-width="0.8"/>
<line x1="454.985" y1="214" x2="454.985" y2="215.6" stroke="#000" stroke-width="0.8"/>
<line x1="450.0" y1="152.66400000000002" x2="451.6" y2="152.66400000000002" stroke="#000" stroke-width="0.8"/>
<line x1="459.724" y1="214" x2="459.724" y2="215.6" stroke="#000" stroke-width="0.8"/>
<line x1="450.0" y1="158.24" x2="451.6" y2="158.24" stroke="#000" stroke-width="0.8"/>
<line x1="465.14" y1="214" x2="465.14" y2="215.6" stroke="#000" stroke-width="0.8"/>
<line x1="450.0" y1="165.21" x2="451.6" y2="165.21" stroke="#000" stroke-width="0.8"/>
<line x1="471.91" y1="214" x2="471.91" y2="215.6" stroke="#000" stroke-width="0.8"/>
<line x1="450.0" y1="170.786" x2="451.6" y2="170.786" stroke="#000" stroke-width="0.8"/>
<line x1="477.326" y1="214" x2="477.326" y2="215.6" stroke="#000" stroke-width="0.8"/>
<line x1="450.0" y1="177.756" x2="451.6" y2="177.756" stroke="#000" stroke-width="0.8"/>
<line x1="484.096" y1="214" x2="484.096" y2="215.6" stroke="#000" stroke-width="0.8"/>
<line x1="450.0" y1="182.635" x2="451.6" y2="182.635" stroke="#000" stroke-width="0.8"/>
<line x1="488.835" y1="214" x2="488.835" y2="215.6" stroke="#000" stroke-width="0.8"/>
<line x1="450.0" y1="187.514" x2="451.6" y2="187.514" stroke="#000" stroke-width="0.8"/>
<line x1="493.57399999999996" y1="214" x2="493.57399999999996" y2="215.6" stroke="#000" stroke-width="0.8"/>
<line x1="450.0" y1="193.09" x2="451.6" y2="193.09" stroke="#000" stroke-width="0.8"/>
<line x1="498.98999999999995" y1="214" x2="498.98999999999995" y2="215.6" stroke="#000" stroke-width="0.8"/>
<line x1="450.0" y1="200.06" x2="451.6" y2="200.06" stroke="#000" stroke-width="0.8"/>
<line x1="505.76" y1="214" x2="505.76" y2="215.6" stroke="#000" stroke-width="0.8"/>
<line x1="450.0" y1="205.636" x2="451.6" y2="205.636" stroke="#000" stroke-width="0.8"/>
<line x1="511.176" y1="214" x2="511.176" y2="215.6" stroke="#000" stroke-width="0.8"/>
<line x1="450.0" y1="210.515" x2="451.6" y2="210.515" stroke="#000" stroke-width="0.8"/>
<line x1="515.915" y1="214" x2="515.915" y2="215.6" stroke="#000" stroke-width="0.8"/>
<text x="455.5" y="153.4" font-size="8.3" text-anchor="start" font-weight="bold" stroke="#fff" stroke-width="1.6" paint-order="stroke">1.74</text>
<text x="519.0999999999999" y="212.8" font-size="8.3" text-anchor="end" font-weight="bold" stroke="#fff" stroke-width="1.6" paint-order="stroke">9.60</text>
<text x="485.2" y="141" font-size="10.0" text-anchor="middle">IL-6</text>
<text x="0" y="0" font-size="8.2" style="fill:#222" text-anchor="middle" transform="translate(271.3,209.2) rotate(-90)">IFN-γ</text>
<line x1="275" y1="218" x2="275" y2="203" stroke="#222" stroke-width="1.3"/>
<polygon points="275,199.2 272.6,204.5 277.4,204.5" fill="#222"/>
<line x1="275" y1="218" x2="290" y2="218" stroke="#222" stroke-width="1.3"/>
<polygon points="294,218.2 288.7,215.8 288.7,220.6" fill="#222"/>
<text x="275" y="225.6" font-size="8.1" style="fill:#222">IL-4</text>
<text x="263.3" y="252.9" font-size="18.6" text-anchor="start" font-weight="bold" textLength="12.42" lengthAdjust="spacingAndGlyphs">D</text>
<text x="316.5" y="253" font-size="11.6" text-anchor="start">IgG1 α-TNP</text>
<text x="422.5" y="253" font-size="11.6" text-anchor="start">IgG2a α-TNP</text>
<line x1="302.6" y1="259.1" x2="302.6" y2="329.2" stroke="#000" stroke-width="1.6"/>
<line x1="302.6" y1="329.2" x2="373.6" y2="329.2" stroke="#000" stroke-width="1.6"/>
<line x1="300.1" y1="259.6" x2="302.6" y2="259.6" stroke="#000" stroke-width="1.4"/>
<text x="297.6" y="262.3" font-size="7.8" text-anchor="end">1,00</text>
<line x1="300.1" y1="277.0" x2="302.6" y2="277.0" stroke="#000" stroke-width="1.4"/>
<text x="297.6" y="279.7" font-size="7.8" text-anchor="end">0,75</text>
<line x1="300.1" y1="294.4" x2="302.6" y2="294.4" stroke="#000" stroke-width="1.4"/>
<text x="297.6" y="297.09999999999997" font-size="7.8" text-anchor="end">0,50</text>
<line x1="300.1" y1="311.8" x2="302.6" y2="311.8" stroke="#000" stroke-width="1.4"/>
<text x="297.6" y="314.5" font-size="7.8" text-anchor="end">0,25</text>
<line x1="300.1" y1="329.2" x2="302.6" y2="329.2" stroke="#000" stroke-width="1.4"/>
<text x="297.6" y="331.9" font-size="7.8" text-anchor="end">0.00</text>
<rect x="311.90000000000003" y="311.356" width="5.3" height="18.444000000000017" fill="#fff" stroke="#000" stroke-width="1.2"/>
<rect x="319.1" y="270.04" width="7.199999999999989" height="59.15999999999997" fill="#000"/>
<line x1="322.70000000000005" y1="267.952" x2="322.70000000000005" y2="270.04" stroke="#000" stroke-width="1.0"/>
<line x1="320.20000000000005" y1="267.952" x2="325.20000000000005" y2="267.952" stroke="#000" stroke-width="1.0"/>
<rect x="331.5" y="327.016" width="4.8" height="2.783999999999992" fill="#fff" stroke="#000" stroke-width="1.2"/>
<rect x="337.7" y="325.71999999999997" width="7.5" height="3.480000000000018" fill="#000"/>
<rect x="351.0" y="326.32" width="5.200000000000034" height="3.480000000000018" fill="#fff" stroke="#000" stroke-width="1.2"/>
<rect x="358.4" y="319.456" width="6.400000000000034" height="9.743999999999971" fill="#000"/>
<line x1="361.6" y1="318.76" x2="361.6" y2="319.456" stroke="#000" stroke-width="1.0"/>
<line x1="359.1" y1="318.76" x2="364.1" y2="318.76" stroke="#000" stroke-width="1.0"/>
<line x1="412" y1="259.1" x2="412" y2="329.2" stroke="#000" stroke-width="1.6"/>
<line x1="412" y1="329.2" x2="482.5" y2="329.2" stroke="#000" stroke-width="1.6"/>
<line x1="409.5" y1="259.6" x2="412" y2="259.6" stroke="#000" stroke-width="1.4"/>
<text x="407" y="262.3" font-size="7.8" text-anchor="end">1,00</text>
<line x1="409.5" y1="277.0" x2="412" y2="277.0" stroke="#000" stroke-width="1.4"/>
<text x="407" y="279.7" font-size="7.8" text-anchor="end">0,75</text>
<line x1="409.5" y1="294.4" x2="412" y2="294.4" stroke="#000" stroke-width="1.4"/>
<text x="407" y="297.09999999999997" font-size="7.8" text-anchor="end">0,50</text>
<line x1="409.5" y1="311.8" x2="412" y2="311.8" stroke="#000" stroke-width="1.4"/>
<text x="407" y="314.5" font-size="7.8" text-anchor="end">0,25</text>
<line x1="409.5" y1="329.2" x2="412" y2="329.2" stroke="#000" stroke-width="1.4"/>
<text x="407" y="331.9" font-size="7.8" text-anchor="end">0.00</text>
<rect x="420.40000000000003" y="288.73600000000005" width="5.3" height="41.063999999999965" fill="#fff" stroke="#000" stroke-width="1.2"/>
<line x1="423.05" y1="281.17600000000004" x2="423.05" y2="288.136" stroke="#000" stroke-width="1.0"/>
<line x1="420.55" y1="281.17600000000004" x2="425.55" y2="281.17600000000004" stroke="#000" stroke-width="1.0"/>
<rect x="427.5" y="260.992" width="7.0" height="68.20799999999997" fill="#000"/>
<line x1="431.0" y1="259.94800000000004" x2="431.0" y2="260.992" stroke="#000" stroke-width="1.0"/>
<line x1="428.5" y1="259.94800000000004" x2="433.5" y2="259.94800000000004" stroke="#000" stroke-width="1.0"/>
<rect x="440.1" y="326.32" width="4.9999999999999885" height="3.480000000000018" fill="#fff" stroke="#000" stroke-width="1.2"/>
<rect x="447" y="326.068" width="7.5" height="3.132000000000005" fill="#000"/>
<rect x="460.1" y="326.32" width="4.9999999999999885" height="3.480000000000018" fill="#fff" stroke="#000" stroke-width="1.2"/>
<rect x="466.3" y="325.024" width="7.0" height="4.175999999999988" fill="#000"/>
<text x="0" y="0" font-size="8.6" text-anchor="middle" transform="translate(276.4,293.4) rotate(-90)">O.D</text>
<text x="0" y="0" font-size="8.6" text-anchor="middle" transform="translate(386,294.2) rotate(-90)">O.D</text>
<rect x="474.8" y="269.5" width="5.2" height="4.6" fill="#fff" stroke="#000" stroke-width="1.4"/>
<text x="484" y="274.5" font-size="9.8" text-anchor="start" textLength="33.6" lengthAdjust="spacingAndGlyphs">medium</text>
<rect x="474" y="280.6" width="6.8" height="6.8" fill="#000"/>
<text x="484" y="287.3" font-size="9.8" text-anchor="start" textLength="16" lengthAdjust="spacingAndGlyphs">IL-6</text>
<text x="275" y="344.6" font-size="10" text-anchor="start" textLength="13.6" lengthAdjust="spacingAndGlyphs">LT:</text>
<text x="275" y="356.2" font-size="10" text-anchor="start" textLength="13.6" lengthAdjust="spacingAndGlyphs">Ag:</text>
<text x="317.7" y="344.0" font-size="8.6" text-anchor="middle">+</text>
<text x="335.7" y="343.2" font-size="8.6" text-anchor="middle">-</text>
<text x="357.4" y="344.0" font-size="8.6" text-anchor="middle">+</text>
<text x="427" y="344.0" font-size="8.6" text-anchor="middle">+</text>
<text x="445" y="343.2" font-size="8.6" text-anchor="middle">-</text>
<text x="467" y="344.0" font-size="8.6" text-anchor="middle">+</text>
<text x="310" y="356.3" font-size="8.4" text-anchor="start" textLength="33" lengthAdjust="spacingAndGlyphs">TNP-OVA</text>
<text x="350" y="356.3" font-size="8.4" text-anchor="start" textLength="16.2" lengthAdjust="spacingAndGlyphs">OVA</text>
<text x="418.8" y="356.3" font-size="8.4" text-anchor="start" textLength="33.5" lengthAdjust="spacingAndGlyphs">TNP-OVA</text>
<text x="459.5" y="356.3" font-size="8.4" text-anchor="start" textLength="16" lengthAdjust="spacingAndGlyphs">OVA</text>
<text x="-0.6" y="341.2" font-size="18.3" text-anchor="start" font-weight="bold" textLength="11.47" lengthAdjust="spacingAndGlyphs">E</text>
<text x="30.9" y="342.8" font-size="11.6" text-anchor="start" textLength="57.4" lengthAdjust="spacingAndGlyphs">IgM (U/mL)</text>
<text x="93.5" y="342.8" font-size="11.6" text-anchor="start" textLength="59.3" lengthAdjust="spacingAndGlyphs">IgG1 (U/ml)</text>
<text x="159.6" y="342.8" font-size="11.6" text-anchor="start" textLength="69.7" lengthAdjust="spacingAndGlyphs">IgG2a (U/mL)</text>
<rect x="25.6" y="347.4" width="62.9" height="61.60000000000002" fill="none" stroke="#000" stroke-width="1.5"/>
<line x1="24.1" y1="409.0" x2="26.1" y2="409.0" stroke="#000" stroke-width="1.0"/>
<line x1="24.1" y1="396.68" x2="26.1" y2="396.68" stroke="#000" stroke-width="1.0"/>
<line x1="24.1" y1="384.36" x2="26.1" y2="384.36" stroke="#000" stroke-width="1.0"/>
<line x1="24.1" y1="372.03999999999996" x2="26.1" y2="372.03999999999996" stroke="#000" stroke-width="1.0"/>
<line x1="24.1" y1="359.71999999999997" x2="26.1" y2="359.71999999999997" stroke="#000" stroke-width="1.0"/>
<line x1="24.1" y1="347.4" x2="26.1" y2="347.4" stroke="#000" stroke-width="1.0"/>
<text x="22.5" y="411.1" font-size="6.2" text-anchor="end">0</text>
<text x="22.5" y="398.78000000000003" font-size="6.2" text-anchor="end">300</text>
<text x="22.5" y="386.46000000000004" font-size="6.2" text-anchor="end">600</text>
<text x="22.5" y="374.14" font-size="6.2" text-anchor="end">900</text>
<text x="22.5" y="361.82" font-size="6.2" text-anchor="end">1200</text>
<text x="22.5" y="349.5" font-size="6.2" text-anchor="end">1500</text>
<rect x="91.8" y="347.4" width="62.500000000000014" height="61.60000000000002" fill="none" stroke="#000" stroke-width="1.5"/>
<line x1="90.3" y1="409.0" x2="92.3" y2="409.0" stroke="#000" stroke-width="1.0"/>
<line x1="90.3" y1="396.68" x2="92.3" y2="396.68" stroke="#000" stroke-width="1.0"/>
<line x1="90.3" y1="384.36" x2="92.3" y2="384.36" stroke="#000" stroke-width="1.0"/>
<line x1="90.3" y1="372.03999999999996" x2="92.3" y2="372.03999999999996" stroke="#000" stroke-width="1.0"/>
<line x1="90.3" y1="359.71999999999997" x2="92.3" y2="359.71999999999997" stroke="#000" stroke-width="1.0"/>
<line x1="90.3" y1="347.4" x2="92.3" y2="347.4" stroke="#000" stroke-width="1.0"/>
<rect x="158.5" y="347.4" width="61.900000000000006" height="61.60000000000002" fill="none" stroke="#000" stroke-width="1.5"/>
<line x1="157.0" y1="409.0" x2="159.0" y2="409.0" stroke="#000" stroke-width="1.0"/>
<line x1="157.0" y1="396.68" x2="159.0" y2="396.68" stroke="#000" stroke-width="1.0"/>
<line x1="157.0" y1="384.36" x2="159.0" y2="384.36" stroke="#000" stroke-width="1.0"/>
<line x1="157.0" y1="372.03999999999996" x2="159.0" y2="372.03999999999996" stroke="#000" stroke-width="1.0"/>
<line x1="157.0" y1="359.71999999999997" x2="159.0" y2="359.71999999999997" stroke="#000" stroke-width="1.0"/>
<line x1="157.0" y1="347.4" x2="159.0" y2="347.4" stroke="#000" stroke-width="1.0"/>
<rect x="38.95" y="382.84999999999997" width="5.1" height="5.1" fill="#fff" stroke="#000" stroke-width="1.5"/>
<rect x="38.95" y="387.45" width="5.1" height="5.1" fill="#fff" stroke="#000" stroke-width="1.5"/>
<rect x="38.95" y="391.95" width="5.1" height="5.1" fill="#fff" stroke="#000" stroke-width="1.5"/>
<rect x="38.95" y="397.25" width="5.1" height="5.1" fill="#fff" stroke="#000" stroke-width="1.5"/>
<rect x="38.95" y="403.45" width="5.1" height="5.1" fill="#fff" stroke="#000" stroke-width="1.5"/>
<line x1="34.6" y1="395" x2="48.5" y2="395" stroke="#000" stroke-width="1.5"/>
<rect x="69.4" y="364.7" width="6.6" height="6.6" fill="#000"/>
<rect x="69.4" y="376.7" width="6.6" height="6.6" fill="#000"/>
<rect x="69.4" y="379.2" width="6.6" height="6.6" fill="#000"/>
<rect x="69.4" y="381.09999999999997" width="6.6" height="6.6" fill="#000"/>
<rect x="69.4" y="398.0" width="6.6" height="6.6" fill="#000"/>
<rect x="69" y="379" width="7.5" height="8" fill="#000"/>
<line x1="65.4" y1="383" x2="79.2" y2="383" stroke="#000" stroke-width="1.5"/>
<line x1="111.9" y1="360.3" x2="135.4" y2="360.3" stroke="#000" stroke-width="1.3"/>
<circle cx="123.5" cy="356.6" r="1.5" fill="#000"/>
<rect x="135.70000000000002" y="364.9" width="6.2" height="6.2" fill="#000"/>
<path d="M135.6 391.6h6.2v4 q1.5 2 1.2 6 q-0.3 4 -1.4 5.6 h-6 q-1.2-1.6-1.4-5.6 q-0.2-4 1.4-6z" fill="#000"/>
<line x1="131.9" y1="394.8" x2="145.7" y2="394.8" stroke="#000" stroke-width="1.5"/>
<rect x="104.7" y="398.7" width="5.6000000000000005" height="5.6000000000000005" fill="#fff" stroke="#000" stroke-width="1.8"/>
<rect x="104.7" y="406.2" width="5.6000000000000005" height="5.6000000000000005" fill="#fff" stroke="#000" stroke-width="1.8"/>
<line x1="101.3" y1="404.8" x2="114" y2="404.8" stroke="#000" stroke-width="1.6"/>
<line x1="179.2" y1="360.3" x2="202.7" y2="360.3" stroke="#000" stroke-width="1.3"/>
<circle cx="188" cy="356.3" r="1.5" fill="#000"/><circle cx="193" cy="356.3" r="1.5" fill="#000"/>
<rect x="201.75" y="365.05" width="6.5" height="6.5" fill="#000"/>
<rect x="201.75" y="371.55" width="6.5" height="6.5" fill="#000"/>
<rect x="201.75" y="383.05" width="6.5" height="6.5" fill="#000"/>
<path d="M201 392.7h8.7q0.3 4 -1.3 6.5v5.7h-6.1v-5.7q-1.6-2.5-1.3-6.5z" fill="#000"/>
<line x1="198.5" y1="387.2" x2="211.9" y2="387.2" stroke="#000" stroke-width="1.5"/>
<rect x="171.8" y="393.5" width="5.0" height="5.0" fill="#fff" stroke="#000" stroke-width="1.6"/>
<rect x="171.8" y="397.5" width="5.0" height="5.0" fill="#fff" stroke="#000" stroke-width="1.6"/>
<rect x="171.8" y="405.5" width="5.0" height="5.0" fill="#fff" stroke="#000" stroke-width="1.6"/>
<line x1="168.3" y1="402.3" x2="180.5" y2="402.3" stroke="#000" stroke-width="1.6"/>
<rect x="226.1" y="350.6" width="3.9" height="3.7" fill="#fff" stroke="#000" stroke-width="1.2"/>
<text x="231.6" y="354.5" font-size="8.6" text-anchor="start" textLength="26.6" lengthAdjust="spacingAndGlyphs">peGFP</text>
<rect x="225.6" y="361.7" width="5" height="5.8" fill="#000"/>
<text x="232" y="366.6" font-size="8.6" text-anchor="start" textLength="19.4" lengthAdjust="spacingAndGlyphs">pIL-6</text>
</svg>
</body></html>
